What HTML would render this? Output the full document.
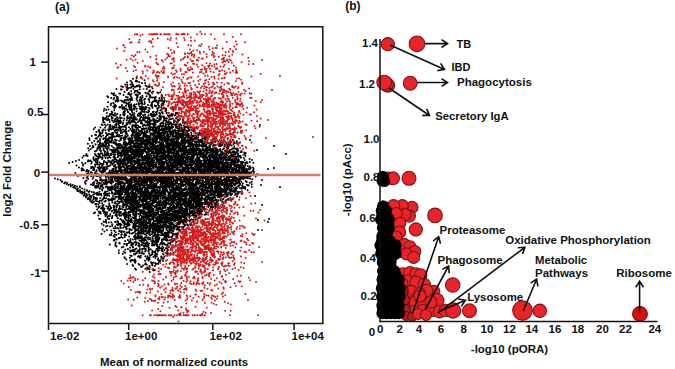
<!DOCTYPE html>
<html><head><meta charset="utf-8"><style>
html,body{margin:0;padding:0;background:#fff;width:675px;height:369px;overflow:hidden;font-family:"Liberation Sans",sans-serif;}
svg{display:block}
</style></head><body>
<svg width="675" height="369" viewBox="0 0 675 369">
<rect width="675" height="369" fill="#fff"/>
<g clip-path="url(#ca)">
<path d="M133.0 78.7h0M136.6 78.1h0M136.1 80.6h0M144.6 80.3h0M130.4 81.0h0M135.8 81.2h0M137.2 81.3h0M139.2 81.9h0M127.0 82.6h0M131.9 82.4h0M142.0 82.9h0M132.2 83.1h0M145.1 83.0h0M125.2 84.4h0M127.4 84.8h0M130.5 84.5h0M132.3 84.7h0M155.3 84.7h0M133.2 85.3h0M136.8 85.7h0M137.5 85.9h0M139.0 85.2h0M145.5 85.4h0M121.8 86.4h0M123.0 86.9h0M127.0 86.4h0M132.1 86.6h0M133.9 86.5h0M136.8 86.5h0M139.8 86.9h0M139.6 86.8h0M140.3 86.5h0M146.6 86.3h0M148.6 86.9h0M149.8 86.7h0M149.0 86.1h0M152.1 86.8h0M126.7 87.8h0M130.3 87.7h0M131.1 87.6h0M135.0 87.0h0M116.5 89.0h0M127.9 88.7h0M128.4 88.2h0M128.2 88.2h0M133.4 88.8h0M152.6 88.5h0M120.9 89.5h0M121.7 89.6h0M126.8 90.0h0M139.8 89.3h0M146.8 89.1h0M131.1 91.0h0M135.0 90.8h0M136.0 90.9h0M137.6 90.5h0M149.7 90.6h0M149.9 90.9h0M149.9 90.2h0M135.9 91.2h0M149.1 91.4h0M153.2 91.4h0M124.5 92.1h0M129.0 92.8h0M134.5 92.4h0M137.8 92.2h0M139.1 92.7h0M140.1 92.9h0M145.4 92.8h0M151.7 92.6h0M157.3 92.6h0M160.3 92.2h0M111.6 93.3h0M114.0 93.2h0M119.4 93.5h0M120.3 93.7h0M128.1 94.0h0M131.5 93.7h0M139.3 94.0h0M147.1 93.4h0M147.9 93.2h0M148.5 93.8h0M158.5 93.3h0M113.0 94.2h0M123.5 94.9h0M129.7 94.5h0M135.5 94.7h0M136.9 94.5h0M149.0 94.4h0M161.7 95.0h0M114.0 95.2h0M115.7 95.4h0M130.3 95.1h0M137.0 95.4h0M137.8 95.5h0M142.3 95.7h0M150.3 95.4h0M107.3 96.2h0M126.0 97.0h0M131.0 96.2h0M146.6 96.3h0M149.8 97.0h0M150.3 97.0h0M150.8 97.0h0M155.8 97.0h0M162.0 97.0h0M162.3 96.5h0M108.3 97.3h0M114.3 97.8h0M117.0 97.1h0M117.8 97.2h0M127.8 97.3h0M137.0 97.2h0M137.5 97.0h0M140.3 97.3h0M141.9 97.9h0M142.6 97.2h0M150.8 97.5h0M152.6 97.4h0M154.4 97.6h0M111.2 98.1h0M117.1 98.4h0M117.8 98.9h0M117.8 98.4h0M129.8 98.9h0M130.6 98.5h0M131.5 98.4h0M131.9 98.1h0M136.6 98.7h0M141.5 98.8h0M145.3 98.7h0M154.8 98.5h0M159.4 98.3h0M159.6 98.1h0M161.9 98.5h0M162.0 99.0h0M113.5 99.2h0M124.9 100.0h0M126.6 99.7h0M127.7 99.5h0M127.1 99.9h0M132.3 100.0h0M136.6 99.4h0M139.7 99.6h0M144.1 99.8h0M148.9 99.2h0M148.5 99.0h0M149.2 99.9h0M115.7 100.6h0M116.9 100.4h0M116.9 100.2h0M118.6 100.6h0M121.2 100.6h0M124.5 100.9h0M128.2 100.2h0M130.5 100.2h0M137.6 101.0h0M139.9 100.7h0M141.0 100.9h0M141.7 100.2h0M154.3 100.4h0M155.3 100.6h0M156.2 100.3h0M158.4 100.8h0M160.0 100.2h0M161.4 100.9h0M163.1 100.9h0M164.6 100.2h0M115.5 101.6h0M117.7 101.3h0M117.7 101.4h0M122.2 101.4h0M122.8 101.3h0M149.5 101.9h0M152.8 101.7h0M154.4 101.0h0M155.7 101.2h0M156.4 101.7h0M158.7 101.8h0M164.1 101.8h0M166.7 101.5h0M108.1 102.2h0M113.3 103.0h0M124.1 102.7h0M126.0 102.5h0M129.8 102.3h0M141.6 102.0h0M142.1 102.2h0M144.7 102.1h0M152.4 102.2h0M152.0 103.0h0M163.0 103.0h0M163.8 102.4h0M163.6 102.9h0M111.2 103.5h0M126.5 103.7h0M128.3 103.1h0M128.5 103.7h0M138.6 103.1h0M140.5 103.5h0M141.9 103.1h0M144.7 103.8h0M151.9 103.6h0M157.7 103.1h0M158.4 103.3h0M162.2 103.4h0M110.7 104.9h0M114.8 104.6h0M115.2 105.0h0M128.4 104.3h0M130.2 104.9h0M131.2 104.2h0M134.2 104.6h0M136.5 104.3h0M138.8 104.6h0M142.5 104.2h0M144.5 104.0h0M151.7 104.2h0M152.1 104.7h0M158.1 104.5h0M161.6 104.6h0M163.6 104.3h0M114.6 105.2h0M116.0 106.0h0M122.0 105.1h0M126.0 105.7h0M128.8 105.4h0M130.7 105.7h0M131.2 105.4h0M131.3 105.8h0M134.5 105.1h0M147.9 105.0h0M150.6 105.4h0M150.9 105.5h0M154.8 105.5h0M156.4 105.9h0M161.8 105.0h0M162.4 105.3h0M163.3 105.2h0M168.5 105.2h0M107.5 106.7h0M113.3 106.6h0M114.3 106.7h0M121.8 106.2h0M121.5 106.4h0M128.7 106.4h0M133.6 106.1h0M135.5 106.8h0M139.5 106.6h0M141.6 106.2h0M142.9 106.9h0M145.4 106.9h0M151.7 106.0h0M155.1 106.2h0M159.1 106.0h0M161.5 106.0h0M172.4 106.8h0M114.5 107.6h0M115.2 107.5h0M119.3 107.2h0M119.7 107.0h0M119.9 107.5h0M122.6 107.7h0M124.2 107.0h0M129.3 107.4h0M131.4 107.9h0M131.3 107.0h0M131.2 107.0h0M134.4 107.4h0M141.3 107.4h0M143.9 107.9h0M143.5 107.7h0M146.3 107.5h0M146.7 107.5h0M152.5 107.8h0M152.3 107.1h0M158.7 107.8h0M161.3 107.6h0M164.4 107.9h0M104.4 108.8h0M114.5 108.1h0M122.4 108.8h0M126.0 108.6h0M130.4 108.5h0M133.9 108.4h0M134.6 108.3h0M134.8 108.7h0M136.9 108.7h0M141.0 108.8h0M140.0 108.6h0M142.8 108.8h0M143.6 108.8h0M149.1 108.1h0M149.7 108.8h0M157.3 108.3h0M163.4 108.3h0M166.1 108.7h0M170.6 108.2h0M173.1 108.4h0M106.2 110.0h0M108.5 109.4h0M124.2 109.0h0M126.8 109.3h0M127.1 109.9h0M129.4 109.6h0M130.3 109.3h0M130.8 109.9h0M132.1 109.6h0M134.2 109.8h0M140.4 109.2h0M144.4 109.2h0M145.8 109.1h0M161.5 109.5h0M162.2 109.3h0M165.5 109.6h0M166.2 110.0h0M173.9 109.6h0M103.8 110.8h0M114.2 110.2h0M124.8 110.5h0M141.9 110.2h0M144.5 110.9h0M148.4 110.5h0M157.6 110.0h0M160.2 110.6h0M111.6 111.4h0M123.9 111.4h0M124.9 111.4h0M127.9 111.7h0M131.9 111.3h0M136.6 111.3h0M141.0 111.9h0M143.0 111.6h0M144.1 112.0h0M149.1 111.0h0M149.2 111.3h0M152.9 111.9h0M153.8 111.8h0M157.3 111.5h0M165.4 111.1h0M165.8 111.4h0M112.3 112.2h0M123.8 112.6h0M123.3 112.5h0M124.2 112.8h0M128.1 112.2h0M132.3 112.4h0M140.7 112.3h0M146.4 112.1h0M148.2 112.5h0M153.4 112.1h0M155.9 112.2h0M159.3 112.9h0M161.8 112.6h0M162.4 112.1h0M166.7 112.9h0M168.8 112.8h0M175.8 112.9h0M176.8 113.0h0M106.9 113.1h0M111.8 113.4h0M115.0 113.3h0M117.2 114.0h0M124.5 113.7h0M129.8 113.7h0M130.2 114.0h0M134.2 113.3h0M134.2 113.9h0M138.7 113.6h0M139.4 113.5h0M140.5 113.2h0M141.5 113.3h0M141.5 113.3h0M150.6 114.0h0M151.4 113.7h0M153.9 113.9h0M156.4 113.1h0M160.0 113.5h0M162.8 113.5h0M171.5 113.7h0M177.9 113.2h0M110.4 114.5h0M112.2 114.2h0M113.0 114.7h0M123.2 114.7h0M124.2 114.1h0M124.1 114.1h0M124.7 114.5h0M130.4 114.6h0M130.6 114.7h0M132.4 114.8h0M137.8 114.8h0M140.8 114.5h0M144.8 114.7h0M145.1 114.3h0M150.7 115.0h0M152.1 114.2h0M153.8 114.5h0M155.2 114.9h0M156.8 114.5h0M172.7 114.4h0M172.6 114.4h0M109.5 115.7h0M114.0 115.6h0M113.9 115.0h0M115.0 115.4h0M115.8 115.6h0M120.3 115.1h0M124.1 115.5h0M131.3 115.3h0M137.8 115.9h0M139.5 115.8h0M140.0 115.3h0M143.1 115.3h0M143.4 115.4h0M148.4 115.2h0M153.0 115.7h0M154.7 115.9h0M155.4 115.0h0M160.4 115.2h0M167.8 115.3h0M167.9 115.4h0M169.7 115.3h0M170.8 115.4h0M172.2 115.7h0M174.7 115.5h0M175.6 115.1h0M106.9 116.2h0M111.5 116.4h0M127.8 116.0h0M127.4 116.8h0M133.9 116.1h0M134.6 116.2h0M145.4 116.8h0M152.0 116.4h0M153.3 116.5h0M153.1 116.4h0M159.2 116.0h0M160.8 116.3h0M163.9 116.8h0M163.0 116.4h0M168.5 116.2h0M169.4 116.8h0M177.3 116.9h0M181.6 116.5h0M103.1 117.5h0M105.7 117.7h0M106.3 117.4h0M117.3 117.3h0M118.0 117.9h0M120.0 117.3h0M121.7 117.9h0M127.1 117.4h0M128.0 117.9h0M130.0 117.2h0M131.6 117.1h0M131.6 117.3h0M132.0 117.4h0M133.3 117.6h0M134.2 117.7h0M135.8 118.0h0M140.6 117.6h0M141.3 117.0h0M143.3 117.4h0M145.8 117.4h0M146.7 117.9h0M147.6 117.9h0M148.0 117.3h0M149.5 117.7h0M157.3 117.9h0M160.5 117.9h0M161.2 117.6h0M163.7 117.8h0M164.6 117.5h0M169.0 117.1h0M104.4 118.7h0M108.2 118.8h0M111.7 118.5h0M112.8 118.0h0M115.9 118.5h0M120.2 118.4h0M124.3 118.6h0M127.3 118.5h0M128.5 118.3h0M130.6 118.3h0M130.8 118.0h0M131.5 118.3h0M133.8 118.8h0M139.9 118.9h0M144.9 118.3h0M144.4 118.3h0M148.4 118.9h0M159.6 118.2h0M160.4 118.4h0M164.2 118.4h0M164.1 118.3h0M164.3 118.0h0M165.1 118.6h0M165.2 118.6h0M166.6 118.2h0M167.0 118.5h0M172.7 118.6h0M176.0 118.2h0M180.1 118.8h0M183.5 118.8h0M103.0 119.3h0M115.1 119.5h0M117.3 119.9h0M133.0 119.9h0M132.8 119.6h0M134.0 120.0h0M135.6 119.4h0M136.4 119.5h0M137.0 119.6h0M139.6 119.6h0M142.9 119.3h0M149.7 119.5h0M153.0 119.4h0M153.4 119.1h0M153.3 119.4h0M154.3 119.2h0M159.1 119.8h0M160.7 119.7h0M169.2 119.2h0M169.7 119.1h0M171.1 119.1h0M177.6 119.6h0M179.2 120.0h0M182.8 119.8h0M196.9 119.9h0M103.1 120.5h0M107.4 120.3h0M109.4 120.0h0M112.2 120.4h0M114.3 120.5h0M117.0 120.4h0M118.4 120.5h0M120.3 120.4h0M123.5 120.4h0M126.6 120.3h0M129.8 120.1h0M131.7 120.9h0M138.9 121.0h0M140.5 120.5h0M141.5 120.7h0M141.2 120.6h0M143.9 120.2h0M144.8 120.4h0M147.6 120.8h0M147.4 120.5h0M150.1 120.2h0M151.4 120.5h0M153.3 120.0h0M154.8 120.1h0M156.1 120.5h0M157.0 120.7h0M159.0 120.9h0M163.8 120.3h0M163.9 120.5h0M164.3 120.2h0M165.7 120.7h0M166.2 120.5h0M174.0 120.3h0M175.2 121.0h0M188.1 120.1h0M114.0 121.9h0M115.8 121.4h0M116.5 121.3h0M117.2 121.7h0M118.9 121.5h0M120.0 121.5h0M121.0 121.6h0M128.5 121.3h0M129.4 121.6h0M132.0 121.9h0M133.3 121.7h0M133.1 121.1h0M141.7 121.1h0M147.4 121.2h0M149.0 122.0h0M149.9 121.2h0M149.5 121.7h0M153.6 121.5h0M154.1 121.3h0M157.9 121.3h0M168.6 121.1h0M174.6 121.6h0M174.1 121.8h0M176.7 121.7h0M178.3 121.1h0M183.2 121.2h0M193.8 121.1h0M103.2 122.2h0M109.7 122.1h0M113.6 122.1h0M119.1 123.0h0M120.2 122.5h0M123.3 122.7h0M128.8 122.5h0M128.5 122.1h0M129.9 122.6h0M130.2 122.3h0M134.7 122.1h0M137.8 122.3h0M140.9 122.4h0M145.7 122.1h0M147.2 122.4h0M149.7 122.9h0M149.6 122.7h0M154.6 122.7h0M155.8 122.2h0M157.6 122.1h0M161.4 122.9h0M162.7 122.6h0M162.9 122.0h0M162.5 123.0h0M167.0 122.0h0M167.9 122.2h0M168.9 122.4h0M169.0 122.2h0M169.2 122.6h0M170.8 122.8h0M170.8 122.3h0M174.0 122.6h0M177.7 122.7h0M182.8 122.7h0M184.7 122.9h0M185.6 122.2h0M187.6 122.8h0M116.5 123.6h0M120.7 123.1h0M126.6 123.1h0M130.3 123.8h0M135.9 123.2h0M135.6 123.1h0M140.8 123.3h0M142.2 123.3h0M147.9 123.2h0M150.5 123.3h0M152.6 123.9h0M153.1 123.7h0M154.0 123.9h0M160.3 123.7h0M163.2 123.2h0M165.5 123.3h0M170.2 123.5h0M171.6 124.0h0M180.1 123.9h0M187.7 123.3h0M101.7 124.6h0M105.0 124.4h0M107.8 124.4h0M110.2 124.7h0M115.3 124.8h0M116.5 124.9h0M118.5 124.1h0M122.7 124.0h0M126.4 124.8h0M127.6 124.0h0M143.2 125.0h0M144.6 124.4h0M147.0 124.9h0M148.4 124.6h0M149.7 124.3h0M149.6 124.6h0M150.8 124.1h0M155.8 124.6h0M163.2 124.9h0M163.4 124.9h0M167.5 124.2h0M168.6 124.9h0M168.2 124.4h0M169.1 124.3h0M171.6 124.8h0M172.9 124.6h0M172.4 124.8h0M173.3 124.3h0M175.8 124.2h0M175.5 125.0h0M176.0 124.2h0M176.5 124.7h0M176.8 124.4h0M179.2 124.7h0M180.8 124.5h0M105.9 125.8h0M110.1 125.4h0M110.3 125.1h0M119.1 125.5h0M124.8 125.8h0M126.5 125.1h0M132.6 125.2h0M133.2 125.2h0M133.7 125.5h0M133.3 125.4h0M135.1 125.3h0M136.5 125.0h0M138.0 125.8h0M143.6 125.3h0M145.6 125.8h0M147.5 125.3h0M149.3 125.6h0M153.5 126.0h0M154.6 125.7h0M159.1 125.9h0M160.4 125.0h0M162.2 125.8h0M163.3 126.0h0M165.9 125.5h0M165.8 125.0h0M171.4 125.7h0M175.1 125.1h0M179.2 125.8h0M181.2 125.4h0M183.6 125.6h0M183.6 125.5h0M110.0 126.5h0M109.1 126.8h0M112.2 126.2h0M114.2 126.5h0M116.5 127.0h0M119.6 126.8h0M121.6 126.8h0M122.7 126.5h0M124.0 126.6h0M132.1 126.3h0M134.3 126.0h0M135.9 126.7h0M139.3 126.9h0M140.3 126.9h0M142.9 126.1h0M149.8 126.3h0M150.7 126.6h0M157.9 126.5h0M158.5 126.4h0M158.9 126.4h0M159.7 126.8h0M159.4 126.2h0M160.8 126.1h0M164.6 126.8h0M165.8 126.5h0M169.0 126.6h0M171.8 126.6h0M173.2 126.9h0M176.0 126.1h0M177.2 126.6h0M184.6 126.9h0M185.7 126.8h0M187.0 126.6h0M187.1 126.7h0M188.0 126.6h0M95.1 127.4h0M112.6 127.2h0M113.8 127.1h0M113.4 127.1h0M114.1 127.3h0M115.1 127.5h0M118.6 127.7h0M119.3 127.7h0M120.4 128.0h0M120.3 127.0h0M121.6 127.3h0M126.0 127.8h0M125.3 127.2h0M126.1 127.2h0M128.9 127.3h0M132.3 127.7h0M135.3 127.5h0M136.3 127.5h0M137.7 127.9h0M148.6 127.2h0M148.6 127.3h0M150.7 127.8h0M151.1 127.4h0M152.8 127.5h0M153.6 127.3h0M154.9 127.1h0M156.3 127.6h0M157.3 127.6h0M162.3 127.4h0M166.2 127.9h0M167.1 128.0h0M167.5 127.6h0M167.5 127.2h0M168.8 127.1h0M169.1 127.4h0M169.9 127.2h0M170.8 127.5h0M171.9 127.9h0M172.9 127.0h0M175.9 127.4h0M176.1 127.0h0M176.1 127.1h0M177.8 127.1h0M178.7 127.4h0M178.4 127.7h0M179.4 127.4h0M181.5 127.4h0M184.4 127.8h0M184.3 127.4h0M187.5 127.8h0M188.5 127.6h0M188.9 127.1h0M190.9 127.6h0M192.7 127.9h0M110.4 128.1h0M110.2 128.1h0M111.1 128.9h0M113.4 128.3h0M119.9 128.5h0M126.2 128.8h0M130.4 128.9h0M132.5 128.7h0M137.0 128.6h0M137.4 128.0h0M141.5 128.8h0M142.4 129.0h0M143.2 128.3h0M145.1 128.4h0M146.5 128.3h0M150.1 128.4h0M153.5 128.2h0M153.4 128.4h0M155.8 128.8h0M156.7 128.2h0M156.5 128.9h0M157.6 128.8h0M157.5 128.4h0M157.8 128.8h0M159.4 128.2h0M163.7 128.9h0M165.2 128.5h0M165.8 128.6h0M165.1 128.3h0M165.4 128.1h0M167.4 128.5h0M170.7 128.1h0M171.0 128.2h0M177.3 128.3h0M179.5 128.2h0M181.5 128.1h0M183.5 128.9h0M184.7 128.7h0M204.8 128.7h0M93.7 129.3h0M103.3 129.5h0M108.1 129.4h0M109.4 129.1h0M110.8 129.4h0M111.6 129.3h0M113.2 129.1h0M115.6 129.8h0M116.9 129.5h0M117.0 129.3h0M117.6 129.8h0M120.4 129.2h0M123.0 129.6h0M132.9 130.0h0M134.1 129.7h0M136.3 129.8h0M138.4 129.9h0M144.2 129.8h0M148.6 129.0h0M149.6 129.1h0M149.9 129.8h0M150.7 129.7h0M152.0 129.9h0M152.6 129.3h0M153.7 129.2h0M155.7 129.8h0M160.5 129.9h0M161.7 129.1h0M162.6 129.2h0M163.5 129.5h0M166.5 129.4h0M167.0 129.4h0M168.5 129.2h0M170.0 129.8h0M170.2 129.3h0M174.7 129.8h0M178.9 129.6h0M181.9 129.4h0M184.2 129.3h0M184.1 130.0h0M188.8 129.2h0M189.5 129.4h0M191.5 130.0h0M194.6 129.1h0M98.8 130.5h0M98.4 130.6h0M102.8 130.6h0M102.8 130.7h0M105.4 130.2h0M116.6 130.2h0M118.6 130.2h0M121.0 130.3h0M121.0 130.6h0M125.2 130.1h0M128.8 130.7h0M131.6 130.7h0M139.8 130.9h0M141.6 130.8h0M146.9 130.6h0M147.2 130.3h0M150.5 130.0h0M153.3 130.5h0M153.2 130.8h0M154.5 130.7h0M156.4 130.5h0M158.9 130.5h0M158.8 130.7h0M158.8 130.0h0M159.0 130.9h0M159.4 130.1h0M162.7 130.2h0M162.0 130.5h0M164.3 130.3h0M165.8 130.4h0M172.7 130.6h0M172.6 130.2h0M173.7 131.0h0M175.2 130.1h0M177.3 130.8h0M178.2 130.9h0M180.7 130.4h0M183.7 130.8h0M185.6 130.4h0M186.9 130.8h0M189.3 130.6h0M193.2 130.4h0M194.1 130.1h0M194.3 130.0h0M194.3 130.8h0M99.0 131.6h0M109.1 131.1h0M114.6 131.1h0M120.5 131.3h0M123.9 131.4h0M123.9 131.6h0M125.5 131.4h0M126.5 131.3h0M132.7 131.4h0M132.6 132.0h0M133.1 131.1h0M134.1 131.1h0M136.1 131.3h0M141.4 131.7h0M142.2 131.5h0M144.9 131.5h0M149.5 131.5h0M149.6 131.2h0M153.5 131.9h0M155.4 131.8h0M156.8 131.7h0M157.1 131.4h0M158.1 132.0h0M162.7 131.3h0M162.8 131.1h0M165.4 131.0h0M167.4 131.8h0M169.0 131.3h0M169.2 131.3h0M170.9 131.5h0M172.6 131.2h0M174.0 131.0h0M175.4 131.1h0M175.2 131.6h0M178.5 131.3h0M178.4 132.0h0M179.0 131.2h0M179.8 131.0h0M182.3 131.1h0M182.3 131.7h0M186.1 131.7h0M187.8 131.2h0M193.9 131.1h0M193.2 131.0h0M204.4 131.7h0M222.1 131.9h0M99.5 132.6h0M102.4 132.2h0M115.4 132.4h0M117.4 132.2h0M122.1 132.3h0M134.7 132.5h0M134.5 132.7h0M134.4 132.7h0M137.3 133.0h0M138.3 132.2h0M139.8 132.1h0M144.0 132.6h0M144.4 132.6h0M146.2 132.0h0M147.6 132.2h0M154.7 132.4h0M154.1 132.4h0M155.9 132.9h0M157.9 132.6h0M158.3 132.4h0M158.8 132.1h0M159.5 132.5h0M160.7 132.8h0M160.4 132.9h0M162.0 132.5h0M163.4 132.8h0M163.4 132.5h0M163.0 132.5h0M164.7 132.3h0M166.6 132.1h0M169.9 132.2h0M170.6 132.6h0M170.8 132.6h0M170.3 132.9h0M170.1 132.3h0M170.1 133.0h0M171.9 132.0h0M172.7 132.6h0M173.4 132.8h0M175.4 132.0h0M182.6 132.5h0M183.6 132.5h0M183.2 132.3h0M185.3 132.7h0M186.2 132.6h0M191.1 132.5h0M199.3 132.2h0M204.2 132.6h0M206.2 132.1h0M100.1 133.6h0M102.0 133.1h0M105.9 133.0h0M108.9 133.7h0M108.7 133.8h0M112.1 133.0h0M113.0 133.1h0M116.7 133.3h0M120.8 133.0h0M121.6 133.1h0M125.8 133.1h0M126.7 134.0h0M126.4 133.0h0M126.7 133.3h0M132.8 133.6h0M136.4 133.3h0M139.3 133.7h0M141.5 133.4h0M141.6 133.1h0M142.3 133.3h0M143.1 133.0h0M143.2 133.3h0M144.8 133.1h0M144.4 133.4h0M144.5 133.0h0M145.9 134.0h0M145.5 133.2h0M146.0 133.0h0M150.4 133.2h0M151.8 133.5h0M152.3 133.7h0M153.7 133.3h0M157.4 133.5h0M158.2 133.2h0M158.8 133.9h0M160.8 133.1h0M161.0 134.0h0M161.5 133.8h0M163.2 133.6h0M164.7 133.7h0M164.6 133.0h0M164.3 133.9h0M164.1 133.8h0M165.4 133.5h0M167.6 133.2h0M172.3 133.8h0M172.1 133.3h0M173.4 134.0h0M175.4 133.0h0M176.5 133.2h0M177.1 133.1h0M178.5 133.1h0M180.6 133.6h0M180.2 133.9h0M181.1 133.8h0M183.5 133.9h0M186.7 133.7h0M186.4 133.8h0M187.8 133.7h0M187.2 133.2h0M188.7 134.0h0M195.7 133.2h0M199.6 133.8h0M200.3 133.4h0M216.7 133.8h0M216.5 133.7h0M96.1 135.0h0M100.2 134.4h0M100.5 134.9h0M107.1 134.3h0M110.5 134.3h0M111.5 134.7h0M113.1 134.5h0M118.9 134.8h0M132.5 134.0h0M135.3 134.7h0M136.8 134.7h0M137.0 134.3h0M138.8 134.4h0M139.5 134.6h0M140.4 135.0h0M144.5 134.8h0M150.6 134.4h0M150.6 134.1h0M152.7 134.5h0M152.6 134.5h0M152.6 134.7h0M153.0 134.5h0M153.3 134.9h0M154.8 134.9h0M154.7 134.2h0M158.7 134.1h0M159.3 134.9h0M160.5 134.3h0M167.5 134.2h0M168.5 134.7h0M170.6 134.5h0M175.9 134.9h0M177.2 134.7h0M177.5 134.1h0M178.9 134.2h0M179.0 135.0h0M179.1 134.8h0M179.3 134.9h0M182.8 134.9h0M183.1 134.1h0M184.4 134.8h0M185.7 134.9h0M191.6 134.4h0M197.8 134.0h0M198.2 134.5h0M198.9 134.7h0M198.2 134.8h0M199.4 134.0h0M200.5 134.7h0M201.1 134.7h0M202.1 134.0h0M203.9 134.0h0M204.9 134.7h0M206.3 134.4h0M207.7 134.7h0M212.0 134.1h0M213.5 134.7h0M232.0 134.3h0M91.8 135.9h0M100.5 135.8h0M103.2 135.5h0M106.9 135.3h0M107.8 135.1h0M112.2 135.4h0M117.2 135.3h0M117.5 135.0h0M122.2 135.5h0M125.3 135.5h0M127.8 135.4h0M127.8 135.8h0M131.4 135.5h0M132.0 135.1h0M132.9 135.0h0M132.2 135.7h0M135.8 135.7h0M136.4 135.7h0M137.5 135.6h0M138.7 135.5h0M139.8 135.2h0M139.6 135.7h0M143.6 135.6h0M143.4 135.2h0M143.9 135.2h0M144.2 135.1h0M144.3 135.3h0M145.2 135.4h0M146.5 135.2h0M150.6 135.7h0M154.1 135.6h0M155.1 135.8h0M156.6 135.9h0M157.2 135.2h0M157.4 135.4h0M161.6 135.5h0M163.3 135.6h0M164.2 135.9h0M166.5 135.6h0M167.9 135.3h0M167.7 135.6h0M167.9 135.6h0M167.8 135.2h0M172.2 135.1h0M172.6 136.0h0M173.0 135.5h0M173.6 135.2h0M173.3 135.5h0M176.7 135.5h0M180.4 135.3h0M181.8 135.6h0M181.5 135.9h0M181.8 135.5h0M181.6 135.3h0M186.0 135.5h0M186.7 135.7h0M187.7 135.7h0M188.8 135.4h0M192.6 136.0h0M192.4 135.9h0M193.8 135.9h0M193.9 135.8h0M195.2 135.5h0M196.7 135.7h0M197.3 135.8h0M202.6 135.5h0M203.9 135.7h0M206.7 136.0h0M212.3 135.7h0M98.2 136.8h0M101.2 136.7h0M106.0 136.4h0M112.6 136.9h0M112.9 136.6h0M113.2 136.2h0M114.4 136.4h0M115.7 136.4h0M117.1 136.1h0M118.9 136.4h0M118.4 136.3h0M120.5 136.1h0M126.5 136.9h0M131.8 136.6h0M134.4 136.0h0M143.0 136.9h0M144.7 136.6h0M145.9 137.0h0M147.7 136.0h0M149.0 136.0h0M153.4 136.5h0M154.8 136.7h0M155.6 136.0h0M156.2 136.2h0M156.4 136.9h0M158.0 136.0h0M157.0 136.7h0M158.6 136.9h0M158.8 136.9h0M160.2 136.8h0M160.3 136.6h0M160.7 136.0h0M161.4 136.4h0M166.5 136.3h0M166.5 136.1h0M167.9 136.1h0M167.3 136.5h0M168.5 136.2h0M169.1 136.9h0M170.3 136.4h0M172.6 136.4h0M173.6 136.7h0M175.1 136.7h0M178.9 136.2h0M179.9 136.6h0M180.2 136.7h0M181.8 136.4h0M181.9 136.7h0M181.8 136.1h0M182.5 136.8h0M182.3 136.1h0M183.4 136.4h0M186.4 136.7h0M189.5 136.9h0M190.7 136.1h0M197.5 136.3h0M198.2 136.1h0M205.6 136.4h0M208.3 136.5h0M209.4 136.8h0M109.1 137.2h0M109.7 137.5h0M109.4 137.5h0M110.4 137.6h0M111.4 137.0h0M112.6 137.5h0M124.1 137.3h0M125.3 137.2h0M125.2 137.7h0M129.5 137.8h0M134.3 137.3h0M136.0 137.7h0M136.9 137.0h0M137.0 137.2h0M136.2 137.5h0M137.2 137.4h0M138.3 137.5h0M138.7 137.3h0M139.3 137.1h0M142.1 137.6h0M143.3 137.4h0M143.7 137.1h0M147.0 137.9h0M147.6 137.8h0M148.2 137.9h0M148.1 137.3h0M149.0 137.7h0M149.5 137.6h0M150.6 137.2h0M150.3 137.5h0M150.0 137.2h0M152.7 138.0h0M155.6 137.5h0M155.5 137.9h0M156.0 137.7h0M157.3 137.3h0M157.1 137.8h0M158.1 137.1h0M159.1 137.7h0M159.6 137.3h0M159.2 137.1h0M161.1 137.8h0M162.2 137.9h0M162.6 137.9h0M163.0 137.4h0M164.7 137.4h0M164.7 137.3h0M165.7 137.7h0M167.9 137.7h0M176.4 137.6h0M176.2 137.8h0M176.0 137.1h0M177.4 137.4h0M177.1 137.6h0M178.0 137.1h0M179.5 137.2h0M181.3 137.8h0M182.0 137.2h0M182.0 137.8h0M182.5 137.5h0M183.8 137.6h0M183.8 137.5h0M185.9 137.4h0M188.8 137.3h0M188.3 137.5h0M189.9 137.4h0M191.0 137.6h0M191.7 137.5h0M195.0 137.8h0M195.4 137.1h0M196.3 137.9h0M197.3 137.3h0M204.3 137.9h0M205.8 137.7h0M221.1 137.9h0M89.4 138.3h0M95.5 138.5h0M96.8 138.7h0M99.9 139.0h0M103.3 138.4h0M103.3 138.9h0M104.6 138.2h0M105.9 138.7h0M106.1 138.2h0M106.5 138.9h0M108.9 138.6h0M110.6 138.1h0M120.5 138.3h0M120.7 138.6h0M121.9 138.1h0M123.9 138.2h0M125.2 138.1h0M128.1 138.8h0M130.1 138.7h0M131.3 138.4h0M132.4 138.2h0M135.4 138.8h0M137.6 139.0h0M137.7 138.1h0M137.5 138.6h0M138.7 138.5h0M139.1 139.0h0M139.4 138.1h0M139.9 138.1h0M139.7 138.4h0M141.5 138.3h0M143.5 138.9h0M147.7 138.2h0M147.7 138.7h0M148.0 138.4h0M147.2 138.8h0M149.5 139.0h0M154.2 138.7h0M155.6 138.0h0M156.9 138.3h0M156.3 138.6h0M157.5 138.5h0M159.4 138.1h0M160.8 138.7h0M160.5 138.3h0M164.0 138.9h0M165.3 138.9h0M168.5 138.5h0M169.1 138.9h0M171.2 138.9h0M171.6 138.5h0M173.7 138.9h0M173.2 138.9h0M175.7 138.5h0M177.7 138.5h0M178.8 138.8h0M179.1 138.5h0M181.9 138.2h0M182.4 138.9h0M182.0 138.0h0M182.5 138.6h0M184.9 138.4h0M190.8 138.7h0M190.5 138.2h0M190.5 138.6h0M191.2 138.8h0M193.4 138.4h0M194.6 138.6h0M195.4 138.8h0M195.0 139.0h0M197.7 139.0h0M197.3 138.9h0M197.9 138.6h0M202.2 138.7h0M202.9 138.2h0M205.6 138.8h0M206.2 138.0h0M207.6 138.2h0M214.1 138.6h0M216.1 138.6h0M227.8 138.2h0M227.8 138.6h0M106.1 139.4h0M106.1 139.5h0M107.4 139.2h0M108.5 139.6h0M111.9 139.3h0M112.1 139.4h0M112.2 139.1h0M112.1 139.9h0M114.9 139.6h0M120.9 139.9h0M125.4 139.6h0M128.8 139.8h0M129.2 139.5h0M130.4 139.4h0M135.8 139.6h0M136.3 139.6h0M136.6 139.7h0M138.8 139.4h0M138.0 139.2h0M140.9 139.4h0M145.1 139.9h0M145.9 139.6h0M146.3 139.6h0M147.0 139.7h0M147.4 139.1h0M148.2 140.0h0M150.0 139.9h0M150.8 139.1h0M150.2 139.7h0M152.2 140.0h0M153.2 139.3h0M156.7 139.7h0M156.3 139.1h0M157.2 139.5h0M159.9 139.6h0M161.8 139.9h0M163.9 139.6h0M163.4 139.9h0M165.0 139.3h0M165.3 139.3h0M166.7 139.1h0M167.4 139.9h0M167.9 139.1h0M168.4 139.9h0M171.7 139.0h0M172.6 139.3h0M173.5 139.4h0M174.5 139.8h0M174.9 139.4h0M175.2 139.1h0M177.8 139.1h0M177.5 139.6h0M177.2 139.3h0M182.9 139.9h0M182.2 139.9h0M183.2 139.8h0M184.6 139.4h0M185.7 139.5h0M187.9 139.6h0M189.0 139.4h0M190.6 139.9h0M191.7 139.2h0M193.0 139.8h0M194.3 139.5h0M198.7 139.8h0M201.4 140.0h0M205.1 139.6h0M213.4 139.0h0M214.3 139.2h0M214.5 139.2h0M223.7 140.0h0M232.7 139.9h0M89.5 140.0h0M105.6 140.6h0M106.7 140.9h0M107.1 140.2h0M107.3 140.2h0M109.6 140.7h0M111.9 140.2h0M111.6 140.5h0M111.4 140.4h0M116.1 140.6h0M116.7 140.2h0M119.3 140.7h0M123.9 140.1h0M131.8 140.0h0M131.4 140.9h0M132.1 140.6h0M133.1 140.9h0M134.7 140.3h0M136.3 140.3h0M139.7 140.9h0M140.4 140.9h0M141.9 140.1h0M141.4 140.3h0M142.9 141.0h0M143.9 140.9h0M144.6 140.9h0M145.6 140.7h0M146.6 141.0h0M147.5 140.2h0M149.4 140.6h0M149.9 140.7h0M150.1 140.4h0M152.6 140.6h0M152.5 140.6h0M153.4 140.1h0M154.9 140.0h0M154.7 140.8h0M157.1 140.3h0M160.3 140.3h0M164.7 140.4h0M165.4 140.2h0M166.7 140.2h0M166.4 141.0h0M166.8 141.0h0M168.1 141.0h0M170.1 140.6h0M172.1 140.2h0M173.5 140.2h0M176.7 140.8h0M177.9 140.7h0M177.2 140.8h0M177.4 140.8h0M177.7 140.5h0M181.3 140.5h0M182.6 140.8h0M184.0 140.5h0M183.8 140.6h0M185.0 140.5h0M186.6 141.0h0M186.3 140.7h0M188.5 140.1h0M190.0 140.9h0M190.0 140.1h0M191.7 140.3h0M193.3 140.8h0M193.1 140.2h0M198.6 140.1h0M199.9 140.9h0M200.7 140.1h0M202.4 140.1h0M202.9 140.9h0M207.2 140.4h0M212.5 140.9h0M212.0 140.7h0M97.8 141.8h0M98.4 141.1h0M98.2 141.4h0M104.8 141.8h0M105.2 141.2h0M107.9 141.3h0M111.1 141.5h0M113.8 141.4h0M124.4 141.8h0M129.4 141.3h0M131.2 141.4h0M132.1 141.7h0M135.9 141.1h0M137.9 141.6h0M138.2 141.1h0M140.6 141.6h0M140.1 141.8h0M140.2 141.9h0M141.3 141.5h0M142.3 141.6h0M145.8 141.1h0M146.5 141.4h0M147.5 141.5h0M148.0 141.6h0M148.5 141.8h0M148.5 141.2h0M149.5 141.4h0M149.0 141.9h0M152.8 141.2h0M152.9 141.9h0M153.5 141.4h0M153.2 141.2h0M154.3 141.4h0M156.7 141.2h0M156.1 141.1h0M162.0 141.2h0M164.2 141.2h0M166.1 141.6h0M167.6 141.9h0M167.1 141.6h0M167.1 141.0h0M170.6 141.9h0M171.9 141.0h0M172.0 141.1h0M173.8 141.1h0M175.2 141.9h0M177.1 141.1h0M178.0 141.6h0M181.4 141.2h0M184.9 141.3h0M184.5 141.8h0M184.4 141.6h0M186.7 141.5h0M186.1 141.0h0M188.3 141.2h0M188.0 141.5h0M188.5 141.6h0M190.2 141.2h0M196.3 141.3h0M198.1 142.0h0M198.6 141.8h0M198.3 141.2h0M199.6 141.2h0M200.9 141.1h0M200.3 141.4h0M201.1 141.0h0M201.8 141.9h0M205.0 141.6h0M207.5 141.7h0M211.1 142.0h0M215.3 141.9h0M215.1 141.3h0M218.1 141.4h0M225.4 141.5h0M236.9 141.2h0M100.1 142.7h0M100.1 142.2h0M104.4 142.4h0M105.8 142.9h0M109.9 142.4h0M111.8 142.5h0M113.8 142.9h0M113.9 142.0h0M115.7 142.5h0M123.6 142.5h0M125.8 142.8h0M125.7 142.3h0M129.0 142.1h0M129.1 142.4h0M130.2 142.1h0M131.4 143.0h0M132.0 142.9h0M133.5 142.4h0M136.2 142.4h0M137.3 142.8h0M140.4 142.3h0M142.4 142.1h0M143.8 142.4h0M146.6 142.8h0M148.7 142.2h0M148.4 142.3h0M150.9 142.0h0M152.0 143.0h0M152.3 142.6h0M153.6 142.2h0M153.1 142.5h0M154.7 142.3h0M156.3 142.4h0M158.1 142.5h0M159.8 142.3h0M159.2 142.0h0M159.9 142.6h0M159.1 142.8h0M161.0 142.9h0M161.2 142.8h0M166.0 142.5h0M166.1 143.0h0M167.3 142.8h0M170.9 142.1h0M170.3 142.2h0M172.8 142.5h0M174.8 142.3h0M175.6 142.1h0M176.0 142.1h0M176.5 142.2h0M176.0 142.6h0M177.3 142.4h0M179.5 142.7h0M180.2 142.9h0M181.8 142.4h0M181.8 142.8h0M182.1 142.4h0M183.3 142.7h0M183.6 142.0h0M183.2 142.5h0M184.0 142.3h0M185.9 142.8h0M186.4 142.0h0M187.8 142.2h0M188.5 142.0h0M190.7 142.6h0M191.9 142.6h0M194.8 142.1h0M195.7 142.2h0M196.0 142.0h0M196.2 142.7h0M196.6 142.1h0M200.1 142.1h0M201.3 142.0h0M201.0 142.1h0M202.7 142.1h0M204.7 142.5h0M205.7 142.0h0M212.9 142.7h0M221.2 142.3h0M222.5 143.0h0M231.2 142.1h0M234.1 142.1h0M236.4 142.9h0M240.0 142.4h0M87.9 143.8h0M100.1 143.4h0M102.1 143.5h0M106.8 143.2h0M106.1 143.9h0M108.3 143.0h0M113.6 143.0h0M115.3 143.9h0M116.2 143.4h0M118.4 144.0h0M123.7 143.8h0M125.2 143.5h0M127.2 143.5h0M127.9 143.4h0M127.6 143.7h0M129.5 143.0h0M130.5 143.6h0M131.0 143.5h0M134.0 143.9h0M133.6 143.3h0M135.9 143.1h0M135.5 143.6h0M138.3 143.8h0M139.9 143.7h0M140.5 143.2h0M141.2 143.3h0M142.8 143.4h0M143.3 143.7h0M145.3 143.2h0M147.6 143.7h0M147.6 143.5h0M147.8 143.8h0M148.3 143.8h0M151.0 143.9h0M150.0 143.5h0M151.2 143.2h0M151.7 143.7h0M152.3 143.7h0M152.7 143.1h0M153.1 143.7h0M155.9 143.3h0M162.2 143.7h0M163.3 143.1h0M166.2 143.8h0M166.9 143.3h0M167.0 143.9h0M166.7 143.7h0M168.5 143.2h0M169.4 143.4h0M170.7 143.4h0M170.9 143.6h0M170.2 143.1h0M170.3 143.2h0M171.8 143.7h0M172.4 143.2h0M174.4 143.3h0M176.1 143.8h0M176.9 143.7h0M179.0 143.6h0M179.7 143.8h0M179.1 143.4h0M180.8 143.2h0M182.5 143.3h0M185.2 143.6h0M188.1 143.4h0M189.1 143.2h0M189.2 143.4h0M190.2 143.5h0M192.7 143.8h0M199.3 143.9h0M202.0 144.0h0M202.6 143.5h0M204.8 143.3h0M205.0 143.5h0M205.1 143.5h0M205.6 143.3h0M208.0 143.2h0M209.8 143.0h0M211.6 143.0h0M219.6 143.1h0M220.9 144.0h0M226.5 143.2h0M229.4 143.6h0M230.2 143.7h0M233.5 143.9h0M234.5 143.0h0M95.6 144.4h0M98.5 144.9h0M99.4 144.3h0M99.9 144.5h0M102.5 144.9h0M103.3 144.3h0M105.2 145.0h0M108.8 144.8h0M117.8 144.8h0M119.3 144.1h0M120.3 144.3h0M123.5 144.5h0M124.4 144.2h0M125.4 144.3h0M126.4 144.6h0M127.6 144.4h0M129.4 144.0h0M130.8 144.8h0M134.0 144.3h0M134.9 144.5h0M137.3 144.7h0M137.2 144.9h0M139.0 144.5h0M140.0 144.1h0M139.8 144.7h0M140.6 145.0h0M140.3 144.1h0M140.6 144.8h0M144.8 144.9h0M145.2 144.4h0M146.2 144.7h0M147.2 144.8h0M152.1 144.7h0M152.6 144.6h0M153.0 144.9h0M153.0 144.7h0M153.1 144.8h0M154.0 144.8h0M159.7 144.8h0M161.0 144.3h0M161.3 144.9h0M161.8 144.3h0M163.9 144.9h0M167.3 144.4h0M167.9 144.8h0M169.5 144.9h0M169.3 144.6h0M171.6 144.1h0M173.2 144.4h0M174.8 144.9h0M175.3 144.0h0M175.1 144.2h0M176.4 144.0h0M176.6 144.2h0M178.0 144.1h0M177.9 144.9h0M177.1 144.6h0M180.1 144.3h0M180.2 144.3h0M181.8 145.0h0M181.4 144.2h0M184.2 144.4h0M184.6 144.8h0M190.0 144.4h0M191.7 144.5h0M191.6 144.9h0M191.7 144.4h0M194.2 144.4h0M195.4 144.3h0M196.7 144.2h0M197.6 145.0h0M198.1 144.5h0M202.4 144.6h0M203.4 144.4h0M204.1 144.1h0M206.3 144.7h0M210.8 144.5h0M213.9 145.0h0M218.8 144.6h0M218.8 144.3h0M219.3 144.2h0M221.3 144.8h0M222.1 144.7h0M224.9 144.7h0M224.7 144.6h0M228.1 144.6h0M230.0 144.7h0M92.9 145.8h0M100.5 145.9h0M101.7 145.3h0M104.1 145.2h0M109.2 145.7h0M116.8 145.2h0M118.7 145.5h0M119.3 145.7h0M120.0 145.0h0M120.6 145.2h0M120.1 145.6h0M121.6 145.5h0M125.1 145.7h0M126.5 145.7h0M130.8 146.0h0M131.2 145.9h0M133.5 145.2h0M133.3 145.8h0M137.9 145.6h0M138.5 145.8h0M141.7 145.5h0M141.9 145.9h0M141.7 145.1h0M144.5 145.1h0M144.8 145.7h0M147.3 145.2h0M147.3 145.6h0M147.4 145.4h0M149.6 145.2h0M150.3 145.9h0M152.3 145.8h0M153.9 145.0h0M153.5 145.1h0M154.8 145.2h0M155.5 145.6h0M157.6 145.6h0M157.8 145.5h0M157.6 145.6h0M159.0 146.0h0M160.7 145.1h0M162.1 145.4h0M162.2 145.2h0M163.7 145.7h0M163.5 145.0h0M165.1 145.7h0M165.9 145.7h0M165.9 145.8h0M167.2 145.5h0M169.3 145.1h0M169.8 145.9h0M171.2 145.5h0M171.8 145.6h0M171.5 145.4h0M172.2 145.5h0M172.3 145.3h0M173.3 145.9h0M175.0 145.4h0M176.3 145.6h0M177.7 145.3h0M177.4 145.1h0M177.2 145.8h0M178.5 145.6h0M182.8 145.7h0M188.3 145.4h0M188.4 145.1h0M190.5 145.9h0M193.3 145.3h0M195.3 145.9h0M196.1 145.5h0M199.9 145.6h0M200.2 145.3h0M203.9 145.3h0M205.4 145.9h0M206.1 145.1h0M206.2 145.6h0M209.5 145.3h0M212.9 145.5h0M214.8 145.6h0M215.4 145.3h0M219.5 145.0h0M222.4 145.1h0M226.0 145.4h0M227.7 145.4h0M229.2 145.6h0M231.6 145.4h0M242.4 145.8h0M98.3 146.7h0M99.8 147.0h0M100.4 146.3h0M102.0 146.7h0M101.8 146.8h0M103.6 146.4h0M105.2 146.8h0M106.9 146.1h0M111.8 146.1h0M122.0 146.3h0M124.5 146.9h0M126.2 146.5h0M129.4 146.5h0M130.3 146.3h0M130.8 146.3h0M131.2 146.5h0M132.7 146.8h0M134.8 146.2h0M135.9 146.1h0M136.6 146.9h0M136.7 146.7h0M140.1 146.1h0M141.9 146.2h0M142.7 147.0h0M142.6 146.9h0M145.8 146.1h0M147.4 146.3h0M149.8 146.2h0M150.1 146.4h0M150.6 147.0h0M151.1 147.0h0M153.1 146.9h0M153.3 146.7h0M153.0 146.3h0M155.3 146.8h0M155.7 146.9h0M157.5 146.2h0M160.9 146.5h0M161.2 146.8h0M162.7 147.0h0M163.5 146.9h0M163.8 146.6h0M164.2 146.5h0M166.3 147.0h0M167.9 146.3h0M168.1 146.3h0M168.3 146.4h0M173.4 146.0h0M174.3 146.0h0M175.8 146.2h0M177.3 146.6h0M177.1 146.6h0M180.2 146.2h0M182.6 146.1h0M182.9 146.8h0M184.6 146.3h0M184.0 146.2h0M186.3 146.8h0M186.9 146.6h0M188.7 146.2h0M189.8 146.8h0M190.0 146.6h0M192.6 146.7h0M192.7 146.3h0M193.2 146.8h0M196.9 146.3h0M198.9 146.8h0M201.5 146.0h0M201.7 146.6h0M203.0 146.8h0M204.9 146.2h0M205.2 146.3h0M205.0 146.2h0M206.4 146.8h0M210.1 146.9h0M210.2 146.7h0M218.9 146.1h0M220.7 146.3h0M224.5 146.2h0M228.5 146.5h0M234.2 146.2h0M92.4 147.6h0M99.0 147.4h0M108.1 147.5h0M113.3 147.6h0M113.9 147.8h0M117.3 147.2h0M118.6 147.2h0M119.8 147.5h0M121.1 147.5h0M121.7 147.4h0M122.8 147.1h0M122.0 147.3h0M123.7 147.9h0M125.7 147.3h0M125.9 147.3h0M126.3 147.6h0M128.9 147.6h0M128.5 147.6h0M129.3 147.3h0M133.7 147.1h0M135.4 147.8h0M137.6 147.1h0M138.7 147.2h0M138.9 147.1h0M139.7 147.7h0M139.3 147.3h0M139.8 147.3h0M140.2 147.6h0M140.5 148.0h0M140.6 147.2h0M140.6 147.9h0M140.1 147.1h0M141.0 147.2h0M141.3 147.1h0M142.1 147.2h0M144.3 147.7h0M145.7 147.5h0M147.9 147.8h0M147.1 147.6h0M152.0 147.6h0M151.5 147.5h0M151.1 147.1h0M153.1 147.9h0M153.7 147.5h0M154.6 147.9h0M154.7 147.3h0M156.8 147.4h0M159.3 147.8h0M160.9 147.4h0M162.4 148.0h0M164.3 147.3h0M165.6 147.1h0M165.4 147.2h0M166.3 147.7h0M166.2 147.3h0M167.3 147.5h0M168.4 147.8h0M169.6 147.6h0M172.6 147.1h0M173.4 147.5h0M177.5 147.1h0M178.8 147.5h0M178.8 147.1h0M180.6 147.8h0M180.6 147.4h0M181.0 147.8h0M182.7 147.7h0M182.4 147.9h0M183.1 147.9h0M183.6 147.7h0M185.6 147.1h0M185.6 147.7h0M185.1 147.9h0M186.3 147.5h0M190.5 147.1h0M192.8 147.6h0M196.8 147.6h0M196.7 147.5h0M197.0 147.2h0M206.4 147.7h0M207.4 147.4h0M207.8 147.0h0M209.2 147.3h0M210.0 147.3h0M213.3 147.3h0M215.0 147.9h0M227.0 147.7h0M234.0 147.9h0M97.2 148.9h0M97.5 148.1h0M98.1 148.3h0M100.2 148.2h0M103.6 148.7h0M106.2 148.3h0M108.6 148.0h0M115.7 148.9h0M116.4 148.6h0M119.2 148.3h0M120.2 148.7h0M124.2 148.7h0M126.4 148.9h0M126.7 148.4h0M127.6 148.5h0M129.7 148.1h0M131.0 148.5h0M132.5 148.8h0M135.6 148.3h0M135.7 148.1h0M138.1 148.2h0M138.7 148.5h0M139.2 148.5h0M144.5 148.6h0M145.0 148.7h0M146.0 148.9h0M148.7 148.0h0M149.0 148.8h0M148.4 148.4h0M150.3 148.8h0M151.0 148.1h0M152.0 149.0h0M151.8 148.4h0M152.3 148.6h0M155.4 148.6h0M155.9 148.6h0M156.2 148.3h0M156.7 148.3h0M157.7 148.7h0M158.9 148.2h0M159.8 148.3h0M159.2 148.8h0M161.4 148.5h0M161.5 148.2h0M162.8 148.9h0M163.8 148.6h0M164.2 148.4h0M167.4 148.8h0M168.5 148.3h0M169.8 148.6h0M171.7 148.1h0M173.1 149.0h0M174.1 148.5h0M174.4 148.9h0M174.8 148.3h0M175.2 148.8h0M175.9 148.6h0M176.4 148.0h0M178.4 148.1h0M180.6 148.8h0M181.9 148.1h0M182.4 148.9h0M183.4 148.7h0M184.1 148.2h0M184.6 148.1h0M186.3 148.2h0M186.5 148.0h0M190.6 148.3h0M190.8 148.0h0M191.6 148.7h0M192.8 148.1h0M194.4 148.2h0M194.0 148.2h0M195.0 148.3h0M196.2 148.7h0M196.3 148.8h0M196.6 148.1h0M197.8 148.9h0M197.6 148.6h0M202.9 148.7h0M205.8 148.4h0M206.7 148.4h0M207.0 148.0h0M209.8 148.6h0M210.6 148.7h0M210.6 148.8h0M215.0 148.3h0M216.4 148.2h0M216.7 148.9h0M220.2 148.9h0M224.0 148.3h0M227.2 149.0h0M227.8 148.5h0M228.2 148.1h0M232.6 148.8h0M232.6 148.5h0M235.7 148.8h0M235.7 148.8h0M237.0 148.6h0M103.6 150.0h0M107.4 150.0h0M107.2 149.6h0M110.2 149.7h0M112.1 149.9h0M112.4 149.9h0M117.4 149.2h0M122.6 149.3h0M123.1 149.8h0M125.2 149.6h0M127.7 149.6h0M127.2 149.3h0M127.4 149.4h0M130.5 149.9h0M131.0 149.4h0M131.7 149.4h0M131.2 149.9h0M132.0 149.8h0M133.7 149.7h0M134.6 149.9h0M135.8 149.6h0M137.0 149.5h0M138.5 149.1h0M138.9 149.5h0M138.1 149.4h0M140.1 149.6h0M140.4 149.7h0M141.8 149.7h0M143.2 149.4h0M144.9 149.6h0M147.3 149.1h0M147.8 149.5h0M147.8 149.3h0M148.6 149.8h0M150.6 149.8h0M152.4 149.8h0M153.8 149.4h0M154.1 149.7h0M154.6 149.8h0M154.5 149.7h0M155.7 149.6h0M155.5 149.4h0M156.9 149.6h0M157.6 149.3h0M158.8 149.8h0M160.0 149.4h0M159.8 149.2h0M161.1 149.3h0M162.1 149.9h0M163.0 149.3h0M164.4 149.6h0M167.1 149.8h0M168.6 149.6h0M169.3 150.0h0M169.1 149.9h0M170.0 149.8h0M171.2 149.9h0M171.9 149.4h0M171.2 149.1h0M174.6 149.7h0M174.1 149.9h0M175.2 149.4h0M179.3 149.0h0M180.9 150.0h0M181.4 149.9h0M183.0 149.2h0M183.7 149.2h0M184.9 149.2h0M184.5 149.5h0M184.8 149.9h0M185.6 149.4h0M185.8 149.2h0M186.2 149.1h0M188.8 149.2h0M189.7 149.6h0M190.1 149.2h0M192.8 149.2h0M192.4 149.7h0M194.3 149.3h0M194.2 149.6h0M195.7 149.9h0M196.9 149.6h0M196.6 149.6h0M197.2 149.5h0M198.7 150.0h0M199.9 149.6h0M199.4 149.1h0M199.9 149.4h0M200.8 149.5h0M203.0 149.0h0M204.4 149.6h0M205.0 149.8h0M207.4 149.2h0M207.5 149.7h0M209.0 149.9h0M208.5 149.6h0M209.1 149.8h0M210.4 149.9h0M210.3 149.2h0M211.9 149.0h0M212.4 149.5h0M213.0 149.1h0M220.1 149.5h0M222.8 149.6h0M231.4 149.6h0M237.7 149.1h0M237.1 149.9h0M96.6 150.8h0M99.6 150.1h0M100.6 150.3h0M104.0 150.5h0M103.9 150.6h0M111.5 150.1h0M113.8 150.4h0M114.1 150.1h0M114.9 150.8h0M115.9 150.7h0M117.8 150.1h0M118.4 151.0h0M121.9 150.4h0M124.9 150.2h0M124.8 150.7h0M126.2 150.5h0M129.3 150.1h0M130.7 150.3h0M131.6 150.5h0M133.4 150.7h0M135.2 150.6h0M135.8 151.0h0M137.0 150.5h0M137.5 150.7h0M137.4 150.4h0M138.1 150.3h0M138.0 150.3h0M139.4 150.5h0M144.3 150.1h0M145.0 150.9h0M145.2 150.4h0M148.3 150.7h0M148.2 150.7h0M150.0 150.7h0M155.8 151.0h0M159.6 150.6h0M160.5 150.1h0M161.9 150.0h0M163.4 150.9h0M163.5 150.3h0M165.0 150.8h0M165.0 150.4h0M167.9 151.0h0M169.3 150.1h0M169.1 150.9h0M170.1 150.9h0M171.9 150.2h0M173.8 150.4h0M174.6 150.2h0M175.8 150.4h0M176.7 151.0h0M177.3 150.5h0M177.1 150.7h0M178.8 150.3h0M179.7 150.3h0M180.1 150.2h0M183.3 150.8h0M185.4 150.4h0M185.9 150.1h0M186.8 150.0h0M187.8 150.8h0M188.0 150.4h0M189.1 150.6h0M190.5 150.2h0M191.9 150.3h0M195.3 150.9h0M197.0 150.3h0M198.2 150.2h0M200.3 150.9h0M201.6 150.3h0M202.6 150.2h0M202.1 150.4h0M204.2 150.8h0M205.2 150.5h0M205.8 150.2h0M208.6 150.3h0M209.6 150.2h0M209.6 150.2h0M211.4 150.2h0M211.6 150.6h0M212.2 150.0h0M212.9 150.4h0M213.2 150.7h0M213.4 150.3h0M214.8 150.3h0M214.5 150.8h0M216.2 150.2h0M216.5 150.9h0M218.1 150.1h0M219.9 150.6h0M220.1 150.9h0M220.7 150.8h0M225.0 150.8h0M225.2 150.4h0M229.2 151.0h0M229.1 151.0h0M229.8 150.1h0M238.2 150.4h0M241.6 150.9h0M94.8 151.2h0M94.9 151.4h0M100.9 151.2h0M104.9 151.9h0M105.2 151.8h0M112.1 151.1h0M113.5 151.6h0M115.1 151.2h0M117.5 151.1h0M118.9 151.3h0M121.5 151.6h0M121.5 151.1h0M123.5 151.3h0M123.3 151.2h0M124.6 151.4h0M126.9 151.4h0M127.4 151.0h0M128.8 151.0h0M129.4 151.6h0M130.0 151.3h0M132.8 151.9h0M132.3 151.1h0M132.2 151.9h0M132.3 151.5h0M135.0 151.4h0M135.6 151.3h0M135.4 151.9h0M135.5 151.3h0M136.6 151.8h0M137.4 151.4h0M138.9 151.9h0M141.1 151.2h0M141.1 151.4h0M142.9 151.3h0M142.3 151.2h0M144.1 151.0h0M145.5 151.4h0M146.2 151.7h0M148.6 151.0h0M148.2 151.5h0M151.6 151.3h0M151.9 151.7h0M152.3 151.9h0M153.3 151.7h0M156.9 151.6h0M157.4 151.6h0M157.5 151.1h0M157.7 152.0h0M159.7 151.6h0M160.4 151.1h0M160.9 151.8h0M161.2 151.3h0M166.7 151.5h0M167.9 151.9h0M168.6 151.4h0M168.9 151.2h0M168.3 151.2h0M169.4 151.0h0M170.1 151.6h0M170.7 151.1h0M171.4 151.7h0M174.4 151.6h0M176.8 151.5h0M178.4 151.3h0M178.3 151.8h0M179.3 151.0h0M180.9 151.7h0M181.9 151.2h0M182.6 151.6h0M183.8 151.7h0M183.5 151.8h0M185.8 151.0h0M185.1 151.6h0M186.2 151.9h0M187.3 151.6h0M188.2 151.2h0M189.2 151.3h0M192.4 151.3h0M193.7 151.7h0M193.3 151.0h0M194.2 152.0h0M196.2 152.0h0M198.7 151.0h0M201.1 151.7h0M206.2 151.5h0M206.0 151.1h0M207.6 151.5h0M211.1 151.7h0M212.6 152.0h0M214.4 152.0h0M214.1 151.9h0M218.0 151.9h0M220.9 151.2h0M221.4 151.5h0M221.2 151.9h0M222.2 151.9h0M226.4 151.5h0M227.9 151.4h0M228.5 151.6h0M229.2 152.0h0M233.0 151.6h0M234.1 151.3h0M237.2 151.7h0M240.5 151.9h0M107.5 152.2h0M107.8 152.0h0M107.2 152.6h0M112.7 152.1h0M113.9 152.3h0M115.4 152.4h0M117.5 152.8h0M118.1 152.9h0M120.0 153.0h0M119.9 152.9h0M121.8 152.5h0M123.0 152.1h0M125.4 152.1h0M125.9 152.7h0M125.3 152.3h0M126.8 152.9h0M126.2 152.2h0M128.3 152.1h0M128.0 152.5h0M128.3 152.0h0M130.4 152.1h0M133.5 152.3h0M135.2 153.0h0M138.8 152.7h0M138.0 152.3h0M138.1 152.6h0M140.0 152.6h0M139.3 152.1h0M139.8 153.0h0M140.1 152.9h0M142.9 152.7h0M142.1 152.8h0M143.4 152.9h0M146.2 152.6h0M146.5 152.4h0M147.1 152.9h0M148.9 152.5h0M148.3 152.5h0M151.9 152.1h0M151.9 152.8h0M153.3 152.6h0M153.8 152.9h0M155.4 152.1h0M155.9 152.8h0M156.3 152.8h0M157.6 152.6h0M158.9 152.6h0M160.3 152.4h0M161.7 152.4h0M161.9 152.3h0M162.2 152.6h0M162.9 152.8h0M163.7 152.2h0M165.0 152.3h0M167.6 152.8h0M169.3 152.4h0M170.8 152.9h0M172.1 152.7h0M172.8 152.9h0M173.3 152.5h0M176.8 152.8h0M176.7 152.5h0M177.0 152.0h0M177.3 152.9h0M178.7 153.0h0M184.2 152.3h0M184.2 152.2h0M184.9 153.0h0M184.9 152.4h0M186.9 152.7h0M186.7 152.3h0M189.5 152.4h0M190.7 152.6h0M191.1 152.4h0M192.0 152.3h0M193.0 152.6h0M194.5 152.3h0M196.6 153.0h0M199.1 152.2h0M201.9 152.6h0M201.1 153.0h0M204.0 152.6h0M204.2 152.0h0M206.5 152.6h0M206.1 152.1h0M207.8 152.2h0M208.3 152.8h0M210.1 152.5h0M212.7 152.1h0M215.4 152.1h0M216.7 152.2h0M217.9 152.1h0M221.0 152.4h0M222.4 152.8h0M226.3 152.9h0M229.4 152.3h0M230.9 152.3h0M232.8 152.2h0M235.7 152.3h0M235.0 153.0h0M241.7 152.1h0M244.4 152.4h0M245.6 152.9h0M98.2 153.7h0M100.9 153.3h0M102.2 153.5h0M104.6 153.9h0M106.0 153.9h0M107.3 154.0h0M108.6 153.7h0M111.2 153.6h0M118.5 153.7h0M119.4 153.4h0M123.5 153.5h0M124.4 153.3h0M126.7 153.6h0M132.0 153.3h0M131.4 153.0h0M132.2 153.9h0M132.9 153.7h0M134.0 153.2h0M135.3 153.5h0M136.1 153.8h0M136.6 153.4h0M137.9 153.7h0M138.7 153.6h0M140.6 153.6h0M142.5 153.6h0M147.7 153.4h0M148.3 153.8h0M150.8 154.0h0M151.1 153.4h0M152.7 153.2h0M152.6 153.5h0M153.4 153.7h0M154.3 153.7h0M155.8 153.3h0M156.7 153.9h0M158.8 153.8h0M160.1 153.2h0M161.3 153.2h0M161.9 153.8h0M162.4 153.3h0M163.0 153.5h0M163.6 153.4h0M164.3 153.7h0M165.5 153.0h0M168.4 153.5h0M171.8 153.5h0M171.3 153.4h0M172.9 153.8h0M174.4 153.1h0M175.4 153.2h0M176.1 153.1h0M176.6 153.8h0M177.5 153.7h0M181.3 153.7h0M183.2 153.8h0M184.0 153.9h0M185.7 153.1h0M185.0 153.9h0M188.3 153.7h0M188.4 153.1h0M190.4 153.7h0M192.6 153.2h0M193.4 153.8h0M194.5 153.4h0M196.4 153.6h0M198.1 153.0h0M198.5 153.7h0M200.9 154.0h0M200.2 153.1h0M201.4 153.1h0M201.1 153.8h0M206.3 153.6h0M207.1 153.7h0M211.8 154.0h0M213.0 153.4h0M215.9 153.8h0M216.9 153.2h0M217.3 154.0h0M223.0 153.1h0M222.8 153.6h0M223.1 153.3h0M224.1 153.3h0M224.3 153.3h0M226.4 153.8h0M227.1 153.2h0M228.6 153.2h0M231.1 153.7h0M233.3 153.1h0M235.9 153.6h0M238.2 153.6h0M245.6 153.4h0M95.4 154.2h0M95.0 154.1h0M99.3 154.3h0M100.1 154.5h0M105.7 154.7h0M107.3 154.4h0M108.1 154.6h0M110.7 154.2h0M111.0 154.5h0M111.1 154.9h0M113.9 154.5h0M113.1 154.2h0M115.1 154.8h0M117.5 154.4h0M121.0 154.2h0M121.7 154.6h0M121.3 154.2h0M123.6 154.2h0M124.7 154.9h0M125.3 154.1h0M125.8 154.1h0M125.6 154.1h0M128.0 154.5h0M128.4 154.5h0M131.2 154.4h0M132.3 154.1h0M132.8 154.5h0M133.5 154.8h0M135.1 154.4h0M136.0 154.1h0M137.4 154.5h0M138.0 154.7h0M138.1 154.4h0M139.8 154.5h0M140.3 154.3h0M141.9 154.9h0M142.2 154.5h0M146.9 154.7h0M146.8 154.1h0M146.8 154.5h0M147.3 154.4h0M147.3 154.1h0M147.1 154.2h0M148.8 155.0h0M149.2 154.9h0M149.3 154.9h0M153.5 154.1h0M157.5 154.2h0M157.4 154.8h0M158.8 154.6h0M161.5 154.0h0M164.1 154.6h0M164.5 154.9h0M164.7 154.3h0M167.8 154.7h0M169.1 154.4h0M173.1 154.0h0M175.1 154.9h0M175.7 154.4h0M177.8 154.6h0M179.1 154.8h0M182.3 154.2h0M182.1 154.5h0M182.3 155.0h0M183.4 154.2h0M183.9 155.0h0M185.5 154.7h0M189.7 154.2h0M191.9 154.8h0M192.8 154.4h0M192.4 154.7h0M193.7 154.9h0M194.9 154.8h0M196.0 154.7h0M195.3 154.4h0M197.3 154.9h0M198.6 154.6h0M199.9 154.0h0M200.5 154.2h0M201.3 154.5h0M202.3 154.1h0M203.8 154.7h0M203.1 154.0h0M204.6 154.4h0M206.6 154.3h0M209.8 154.6h0M210.0 154.7h0M211.8 154.6h0M211.6 154.8h0M213.3 154.9h0M213.6 154.7h0M213.6 154.2h0M214.9 154.5h0M214.9 155.0h0M216.7 154.1h0M217.5 154.2h0M217.8 154.5h0M217.4 154.3h0M219.3 154.5h0M220.4 154.3h0M221.8 154.4h0M222.7 154.6h0M222.4 154.8h0M226.4 154.6h0M233.0 154.7h0M235.0 154.4h0M237.7 154.7h0M238.0 154.7h0M244.4 154.2h0M86.8 155.3h0M86.1 155.4h0M95.4 155.2h0M96.4 155.7h0M99.1 155.6h0M102.8 155.2h0M104.6 155.7h0M106.9 155.4h0M114.1 155.0h0M119.1 155.8h0M120.7 155.1h0M121.2 155.7h0M122.7 155.2h0M122.3 155.6h0M122.6 155.5h0M124.7 155.5h0M126.0 155.5h0M125.9 155.3h0M127.9 156.0h0M128.0 155.9h0M129.2 155.2h0M129.4 155.3h0M129.0 155.7h0M130.3 155.7h0M131.2 155.9h0M134.8 155.6h0M135.1 155.7h0M136.5 155.7h0M138.1 155.7h0M139.3 155.9h0M141.3 155.9h0M141.2 155.2h0M141.6 155.4h0M142.2 155.4h0M145.3 155.9h0M145.9 155.8h0M148.0 155.3h0M149.5 155.7h0M149.1 155.4h0M149.1 155.0h0M149.3 155.9h0M149.2 155.0h0M151.4 155.9h0M153.4 155.6h0M153.6 155.3h0M156.9 155.8h0M156.8 155.5h0M157.4 155.7h0M160.8 155.7h0M161.9 155.6h0M161.3 155.7h0M161.6 155.3h0M161.7 155.8h0M162.9 155.9h0M164.6 155.6h0M165.5 155.1h0M166.1 155.9h0M166.1 155.4h0M167.7 155.9h0M168.1 155.9h0M168.7 155.2h0M173.7 155.7h0M174.4 155.5h0M177.5 155.6h0M178.4 155.5h0M179.5 155.2h0M179.3 155.6h0M181.3 155.8h0M182.2 155.9h0M187.2 155.2h0M187.5 155.6h0M191.7 155.5h0M193.4 155.7h0M194.2 155.8h0M200.2 155.2h0M203.3 155.4h0M203.5 155.4h0M205.8 155.4h0M208.7 155.6h0M209.3 155.3h0M210.9 155.7h0M210.4 155.6h0M211.3 155.7h0M213.6 155.1h0M213.1 155.1h0M214.8 155.9h0M215.9 155.1h0M216.7 155.9h0M218.9 155.6h0M220.4 155.8h0M225.0 155.0h0M227.4 155.5h0M230.1 155.7h0M231.3 155.3h0M239.6 156.0h0M240.5 156.0h0M87.6 156.1h0M96.7 156.1h0M97.6 156.7h0M99.8 156.5h0M109.2 156.9h0M109.4 156.0h0M114.4 156.8h0M114.6 156.9h0M118.3 156.2h0M121.4 156.8h0M121.2 156.2h0M121.7 156.0h0M121.0 156.3h0M124.9 156.7h0M124.5 156.7h0M125.2 156.8h0M125.1 156.6h0M129.6 156.3h0M133.9 156.3h0M134.2 156.8h0M134.4 156.5h0M136.5 156.4h0M137.3 156.0h0M137.4 156.7h0M139.3 156.7h0M140.8 156.7h0M142.0 156.4h0M141.2 156.3h0M142.8 156.9h0M144.6 156.2h0M144.7 156.1h0M145.0 156.9h0M144.7 156.2h0M145.8 156.2h0M147.2 156.7h0M148.4 157.0h0M148.1 156.9h0M148.2 156.3h0M148.7 156.2h0M154.7 156.4h0M154.1 156.9h0M155.6 156.2h0M157.4 156.5h0M157.3 156.5h0M159.4 156.3h0M162.1 156.2h0M164.9 156.2h0M166.0 156.8h0M167.3 156.4h0M168.6 156.4h0M168.8 156.1h0M168.9 156.5h0M169.1 156.6h0M169.8 156.4h0M170.3 156.6h0M170.0 156.7h0M170.4 156.1h0M170.9 156.6h0M171.9 156.1h0M175.2 156.4h0M175.0 156.2h0M176.4 156.9h0M176.8 156.6h0M176.5 156.2h0M179.0 157.0h0M178.9 156.4h0M178.8 156.2h0M179.7 156.7h0M180.3 156.5h0M180.8 156.7h0M186.6 156.7h0M186.8 156.1h0M188.2 156.5h0M188.5 156.7h0M188.8 156.8h0M189.1 156.5h0M191.0 156.8h0M192.5 156.1h0M192.4 156.4h0M192.5 156.3h0M193.7 156.7h0M197.4 156.2h0M200.3 156.1h0M200.7 156.4h0M202.0 156.6h0M202.3 156.8h0M203.3 156.8h0M204.9 156.2h0M205.3 156.4h0M205.7 156.8h0M206.4 156.8h0M209.4 156.2h0M211.9 156.5h0M213.1 156.0h0M213.9 156.4h0M214.9 156.3h0M214.8 157.0h0M214.8 157.0h0M215.2 156.2h0M219.3 156.1h0M221.2 156.1h0M223.5 156.4h0M224.3 156.6h0M224.3 156.2h0M224.9 156.8h0M224.2 156.8h0M225.9 156.7h0M225.5 156.6h0M231.9 156.2h0M232.0 156.1h0M233.9 156.2h0M235.9 156.8h0M236.4 156.5h0M236.2 156.9h0M237.6 156.5h0M239.6 156.5h0M245.4 156.0h0M93.5 157.3h0M98.9 157.0h0M98.1 157.2h0M100.7 157.2h0M102.0 157.7h0M102.5 157.3h0M105.6 157.4h0M107.9 157.9h0M110.4 157.8h0M113.5 157.0h0M114.4 157.9h0M117.8 157.3h0M124.2 157.6h0M126.3 157.5h0M127.4 157.6h0M128.4 157.1h0M130.4 157.8h0M131.7 157.7h0M132.4 157.4h0M132.3 157.4h0M132.0 157.8h0M133.3 158.0h0M133.2 157.0h0M133.5 157.1h0M134.3 157.6h0M135.2 157.9h0M138.8 157.6h0M141.6 157.4h0M142.1 157.5h0M145.0 157.2h0M145.7 157.7h0M147.4 157.8h0M148.2 157.8h0M148.7 157.3h0M150.2 157.7h0M153.8 157.6h0M154.4 157.7h0M156.9 157.5h0M157.5 157.5h0M160.8 157.6h0M162.6 157.2h0M162.6 158.0h0M163.5 157.3h0M164.6 157.4h0M165.8 157.9h0M165.4 157.6h0M166.9 157.4h0M166.7 157.6h0M166.5 157.3h0M167.4 158.0h0M168.2 158.0h0M168.6 158.0h0M168.8 157.7h0M169.1 157.3h0M170.0 157.6h0M170.5 157.3h0M172.4 157.7h0M173.2 157.6h0M174.1 157.6h0M175.1 157.1h0M175.2 157.5h0M176.8 157.2h0M176.3 157.4h0M177.3 157.9h0M177.5 157.7h0M178.5 157.1h0M178.3 157.1h0M180.0 157.5h0M179.2 158.0h0M182.5 157.8h0M183.0 157.5h0M183.6 157.2h0M184.0 157.1h0M184.6 157.0h0M184.4 157.2h0M186.6 158.0h0M187.1 157.1h0M187.5 157.1h0M188.4 157.6h0M190.5 157.2h0M191.5 157.8h0M192.9 158.0h0M192.3 157.1h0M192.6 157.9h0M192.3 157.8h0M193.4 158.0h0M196.6 157.7h0M198.0 157.6h0M198.9 157.4h0M199.2 157.7h0M203.1 157.2h0M204.8 157.8h0M205.6 157.3h0M205.9 157.9h0M206.7 157.7h0M206.6 157.3h0M206.4 157.7h0M206.8 157.1h0M207.8 157.3h0M209.9 157.2h0M210.1 157.7h0M212.0 157.1h0M213.0 157.9h0M214.7 157.0h0M216.1 157.2h0M216.9 157.7h0M218.0 157.9h0M218.0 157.5h0M219.9 157.4h0M220.0 157.9h0M220.6 157.6h0M220.2 158.0h0M221.4 157.6h0M223.3 157.7h0M224.0 157.2h0M224.2 157.6h0M224.8 157.3h0M225.7 157.2h0M226.1 157.4h0M226.2 157.5h0M228.8 157.0h0M228.3 157.8h0M230.8 157.7h0M233.4 157.3h0M238.0 157.1h0M240.8 157.4h0M241.0 157.7h0M243.8 157.9h0M93.4 158.7h0M95.8 158.7h0M98.5 158.5h0M102.5 158.4h0M105.6 158.1h0M115.5 158.5h0M115.6 158.3h0M120.8 158.8h0M123.4 158.8h0M125.7 158.6h0M125.1 158.3h0M127.6 158.1h0M127.9 158.1h0M127.4 158.9h0M127.2 158.5h0M128.9 159.0h0M128.9 158.0h0M129.9 158.6h0M129.2 158.0h0M130.2 159.0h0M131.7 158.3h0M133.4 158.5h0M142.2 158.7h0M142.6 158.5h0M143.9 158.5h0M144.5 158.1h0M145.2 158.7h0M146.8 158.2h0M146.5 158.1h0M146.0 158.5h0M148.5 158.8h0M148.9 158.1h0M149.6 158.5h0M150.6 158.7h0M151.4 158.3h0M152.0 159.0h0M152.2 158.2h0M152.6 158.3h0M155.8 158.9h0M155.9 158.6h0M155.8 158.2h0M156.3 158.5h0M156.7 158.8h0M157.9 158.0h0M157.9 158.6h0M160.1 158.1h0M161.6 158.4h0M162.3 158.8h0M162.3 158.4h0M163.0 158.5h0M163.2 158.4h0M163.7 158.7h0M165.0 158.1h0M168.4 158.2h0M169.9 158.6h0M170.9 158.7h0M171.0 158.5h0M170.4 158.7h0M171.9 158.3h0M175.1 158.7h0M175.6 158.6h0M179.0 158.8h0M180.2 158.4h0M180.5 158.7h0M181.7 158.0h0M183.0 158.7h0M182.5 158.1h0M185.7 158.1h0M185.6 158.7h0M185.4 158.5h0M187.0 158.7h0M187.0 158.9h0M189.0 158.8h0M190.8 158.4h0M190.9 158.1h0M191.5 158.5h0M193.0 158.7h0M193.6 158.0h0M203.2 158.3h0M206.6 158.2h0M209.5 158.7h0M210.3 158.5h0M210.6 158.4h0M213.1 158.3h0M214.0 158.8h0M214.4 158.0h0M214.4 158.0h0M214.6 158.9h0M216.6 158.7h0M216.9 158.9h0M216.0 158.4h0M217.9 159.0h0M218.2 158.7h0M219.0 158.9h0M219.1 158.2h0M219.1 158.2h0M220.2 158.0h0M221.8 158.5h0M222.7 158.7h0M223.8 158.0h0M223.5 158.3h0M224.9 158.6h0M224.8 158.1h0M225.3 158.0h0M225.4 158.3h0M228.4 158.4h0M229.7 158.1h0M234.6 158.0h0M234.8 158.6h0M235.6 158.0h0M235.8 158.9h0M235.1 158.5h0M236.7 158.9h0M249.6 159.0h0M93.9 159.7h0M97.0 159.3h0M102.2 159.0h0M113.9 159.9h0M115.3 159.1h0M116.1 159.8h0M119.8 159.0h0M120.1 159.2h0M122.6 159.8h0M123.4 159.1h0M123.7 159.4h0M123.9 159.4h0M126.9 159.6h0M127.8 159.5h0M128.6 159.9h0M129.8 159.9h0M131.2 159.7h0M131.2 159.3h0M132.0 159.3h0M136.9 159.1h0M137.4 159.9h0M138.6 159.5h0M140.0 159.6h0M140.4 160.0h0M143.8 159.2h0M144.1 159.9h0M145.1 159.1h0M145.2 160.0h0M147.9 159.5h0M148.0 159.6h0M148.6 159.7h0M148.7 159.2h0M149.1 159.4h0M151.0 159.6h0M152.7 159.8h0M156.5 159.6h0M157.1 159.9h0M158.8 159.6h0M159.6 159.9h0M160.7 159.8h0M160.6 159.9h0M160.4 159.5h0M161.7 159.1h0M161.1 159.8h0M161.4 159.5h0M162.4 159.5h0M163.4 159.2h0M165.0 159.1h0M168.9 159.3h0M171.8 159.5h0M171.8 159.9h0M172.5 159.6h0M173.1 159.7h0M174.7 159.6h0M174.1 159.7h0M175.6 159.9h0M175.1 159.6h0M176.4 159.8h0M177.4 159.4h0M177.1 159.9h0M178.1 159.3h0M179.1 159.5h0M179.9 159.2h0M180.3 159.9h0M180.8 159.3h0M182.9 159.2h0M182.9 159.1h0M183.2 159.8h0M185.8 159.7h0M186.0 159.6h0M186.3 159.4h0M187.0 159.1h0M187.9 159.3h0M190.1 159.9h0M190.1 159.6h0M191.4 159.3h0M192.2 159.6h0M195.5 159.4h0M197.0 159.9h0M197.7 159.2h0M198.1 159.2h0M199.3 159.7h0M207.9 160.0h0M207.4 159.1h0M208.4 159.9h0M209.6 159.8h0M209.6 159.2h0M210.7 159.9h0M213.8 159.2h0M215.0 159.2h0M215.2 159.1h0M217.6 159.3h0M218.1 159.4h0M218.5 159.6h0M220.9 159.4h0M221.6 159.1h0M221.2 159.3h0M223.5 159.9h0M226.2 159.8h0M227.4 159.4h0M227.0 159.7h0M228.3 159.9h0M228.7 159.6h0M229.9 159.2h0M232.7 159.7h0M232.3 159.6h0M232.0 159.5h0M234.0 159.3h0M235.1 159.6h0M236.3 159.2h0M237.0 160.0h0M238.7 159.3h0M238.5 159.7h0M244.8 160.0h0M88.2 160.3h0M90.5 160.4h0M94.5 160.4h0M95.6 160.5h0M97.6 160.7h0M108.3 160.4h0M112.3 160.2h0M113.8 160.9h0M116.7 160.3h0M117.6 160.4h0M118.3 160.7h0M119.1 160.4h0M120.2 160.4h0M121.5 160.4h0M121.5 161.0h0M122.9 160.2h0M122.2 160.8h0M123.0 160.3h0M124.4 160.1h0M125.5 160.2h0M127.3 160.2h0M127.7 160.1h0M128.3 160.4h0M129.2 160.5h0M131.9 160.7h0M131.8 160.9h0M131.8 160.5h0M134.0 160.5h0M134.7 160.2h0M138.8 160.7h0M138.9 160.1h0M139.1 160.9h0M139.4 160.3h0M141.0 160.6h0M140.0 160.2h0M142.8 160.0h0M144.9 160.4h0M146.5 160.2h0M147.2 160.2h0M147.6 160.9h0M148.0 160.5h0M150.8 160.7h0M151.2 160.8h0M153.7 160.9h0M154.0 160.2h0M153.1 160.8h0M154.1 160.5h0M158.5 160.9h0M158.0 160.5h0M160.6 160.2h0M160.5 160.9h0M161.8 160.1h0M166.1 160.1h0M166.1 160.3h0M167.3 160.5h0M169.3 160.7h0M169.2 160.1h0M170.2 160.6h0M173.5 160.2h0M174.3 160.2h0M176.3 160.3h0M178.1 160.5h0M179.2 160.0h0M181.9 160.3h0M184.4 160.8h0M185.6 160.8h0M187.8 160.6h0M191.6 160.2h0M193.3 160.5h0M195.9 160.7h0M197.1 160.4h0M197.3 160.5h0M197.5 161.0h0M197.4 160.9h0M198.6 160.2h0M200.0 160.1h0M201.6 160.9h0M203.5 160.2h0M204.7 160.7h0M204.6 160.1h0M205.3 160.0h0M205.8 160.4h0M207.1 160.5h0M208.2 160.1h0M209.5 160.1h0M209.1 161.0h0M209.0 160.9h0M209.0 160.7h0M210.0 160.8h0M212.2 160.5h0M212.9 160.9h0M214.2 160.8h0M215.8 160.2h0M216.5 160.2h0M216.7 161.0h0M217.3 160.9h0M217.6 160.1h0M218.3 160.4h0M218.1 160.8h0M218.5 160.9h0M220.8 160.7h0M225.6 160.1h0M227.3 160.3h0M229.0 160.2h0M230.7 160.1h0M231.4 160.0h0M231.0 160.3h0M231.4 160.8h0M232.9 160.3h0M234.0 160.6h0M233.8 160.7h0M235.2 160.7h0M238.2 160.7h0M238.9 160.6h0M87.9 161.6h0M89.9 161.1h0M91.7 161.7h0M97.3 162.0h0M104.1 161.1h0M109.2 161.5h0M109.7 161.2h0M111.7 161.5h0M114.5 161.7h0M116.2 161.3h0M118.5 161.1h0M119.3 161.8h0M120.6 162.0h0M122.4 161.1h0M124.4 161.4h0M125.0 161.4h0M127.8 161.5h0M128.5 161.5h0M129.6 161.1h0M130.7 161.9h0M131.0 161.6h0M131.4 161.6h0M132.6 161.2h0M135.7 161.3h0M135.8 161.8h0M136.4 161.6h0M137.9 161.9h0M137.2 161.2h0M138.3 161.9h0M146.6 161.4h0M146.5 161.6h0M148.0 161.1h0M148.9 161.4h0M150.4 161.4h0M152.9 161.4h0M154.1 162.0h0M156.7 161.0h0M156.9 161.4h0M158.8 161.4h0M160.8 161.1h0M162.6 161.4h0M164.6 161.8h0M169.3 161.9h0M170.3 161.1h0M174.7 161.2h0M176.8 161.9h0M176.4 161.1h0M177.2 161.8h0M179.9 161.5h0M180.4 161.7h0M180.4 161.2h0M181.1 161.6h0M181.8 161.2h0M182.5 161.7h0M182.6 161.4h0M183.0 161.5h0M183.2 161.9h0M184.7 161.6h0M184.6 161.3h0M187.6 161.4h0M188.8 161.8h0M189.8 161.8h0M190.4 161.3h0M191.3 161.4h0M192.1 161.9h0M192.3 161.5h0M195.2 161.1h0M196.2 161.4h0M197.6 161.7h0M198.3 161.1h0M199.7 161.9h0M199.6 161.5h0M200.7 161.8h0M201.2 161.1h0M205.0 161.4h0M205.1 161.5h0M208.4 161.3h0M210.4 161.4h0M211.3 162.0h0M213.0 161.0h0M213.4 161.3h0M215.0 161.5h0M215.4 161.1h0M216.9 161.5h0M216.3 161.2h0M218.5 161.9h0M219.4 161.4h0M219.2 161.8h0M219.1 161.4h0M222.5 161.3h0M222.5 161.7h0M222.8 161.2h0M222.1 161.4h0M232.2 161.3h0M232.3 161.1h0M232.8 161.3h0M233.0 161.2h0M233.9 161.8h0M237.5 161.8h0M239.0 161.5h0M238.1 161.1h0M241.9 161.7h0M249.8 161.9h0M82.0 162.8h0M95.9 162.5h0M97.2 162.5h0M99.5 162.4h0M103.8 162.3h0M105.9 162.3h0M107.5 162.8h0M110.2 162.5h0M114.5 162.4h0M117.1 162.4h0M118.4 162.5h0M121.9 162.4h0M123.6 162.5h0M123.2 162.6h0M123.3 162.1h0M127.4 162.1h0M129.7 162.3h0M130.0 162.8h0M130.7 162.0h0M134.1 162.3h0M134.7 162.7h0M136.8 162.5h0M136.2 162.5h0M137.2 162.1h0M137.3 163.0h0M139.1 162.1h0M140.9 162.9h0M143.0 162.0h0M142.3 162.6h0M142.4 162.2h0M143.7 162.6h0M145.1 163.0h0M145.4 163.0h0M146.9 162.1h0M148.4 162.5h0M148.9 162.8h0M148.3 162.8h0M148.8 162.3h0M150.4 163.0h0M151.6 162.9h0M151.3 162.3h0M156.2 162.6h0M159.0 162.8h0M160.4 162.6h0M161.5 162.3h0M162.5 163.0h0M163.3 162.1h0M164.2 162.2h0M166.3 162.3h0M167.6 162.9h0M168.6 162.6h0M170.2 162.7h0M170.5 162.8h0M171.4 162.6h0M172.7 162.3h0M173.2 162.3h0M174.0 162.3h0M174.5 162.4h0M174.9 162.2h0M175.1 162.3h0M177.4 162.3h0M177.8 162.4h0M178.9 162.1h0M178.9 162.8h0M179.7 162.3h0M181.7 162.0h0M182.5 163.0h0M182.8 162.7h0M183.3 162.5h0M185.8 162.5h0M186.8 162.7h0M186.8 162.8h0M191.0 162.5h0M192.7 162.1h0M193.2 163.0h0M194.2 162.6h0M196.7 162.2h0M198.1 162.1h0M198.3 162.7h0M200.9 162.9h0M203.6 162.5h0M204.3 162.6h0M204.6 162.0h0M205.4 162.3h0M205.4 162.9h0M206.4 162.6h0M208.4 162.9h0M209.5 162.1h0M211.9 162.8h0M214.0 162.7h0M214.4 162.7h0M215.6 162.3h0M215.7 162.9h0M216.7 162.1h0M217.6 162.8h0M219.3 162.6h0M221.9 163.0h0M221.3 162.2h0M221.1 162.1h0M222.9 162.2h0M224.6 162.8h0M225.8 162.8h0M225.9 162.1h0M227.1 162.4h0M228.1 162.4h0M230.0 162.7h0M230.6 162.4h0M231.5 162.7h0M232.1 162.2h0M233.8 162.5h0M235.7 162.9h0M235.8 163.0h0M236.1 162.2h0M237.8 162.5h0M240.8 162.1h0M243.5 162.2h0M245.3 162.9h0M246.9 163.0h0M246.8 162.1h0M253.4 162.7h0M85.3 163.3h0M91.4 163.6h0M96.9 164.0h0M100.9 163.8h0M107.2 163.2h0M111.5 163.3h0M113.2 163.6h0M117.3 163.8h0M117.9 163.7h0M120.7 163.8h0M120.3 163.6h0M121.1 163.4h0M121.8 163.5h0M122.6 163.7h0M122.2 163.4h0M123.6 163.8h0M123.3 163.7h0M125.6 163.3h0M126.9 163.9h0M126.4 164.0h0M127.9 163.2h0M127.6 163.6h0M127.3 163.9h0M130.8 163.3h0M132.3 163.4h0M135.6 163.1h0M135.2 163.7h0M137.3 163.2h0M137.0 163.2h0M137.8 163.5h0M137.8 163.7h0M138.3 163.3h0M140.1 163.4h0M142.9 163.7h0M143.1 163.8h0M143.6 163.3h0M144.7 163.7h0M146.4 163.3h0M148.6 163.6h0M149.5 163.5h0M151.8 163.4h0M151.6 163.8h0M152.8 163.1h0M155.5 163.6h0M158.4 163.2h0M158.2 163.2h0M159.1 163.4h0M161.7 163.4h0M163.3 163.2h0M164.5 163.2h0M164.0 163.7h0M166.5 163.4h0M166.5 163.5h0M167.4 163.6h0M170.4 163.8h0M171.1 163.9h0M172.5 163.2h0M172.4 164.0h0M172.8 163.3h0M172.4 163.4h0M173.7 163.6h0M173.5 163.2h0M175.6 163.6h0M175.9 163.2h0M177.0 163.1h0M176.4 163.0h0M178.1 163.6h0M178.5 163.3h0M179.6 163.1h0M179.9 163.3h0M181.0 163.3h0M182.0 163.3h0M181.6 163.2h0M181.4 163.0h0M183.4 163.5h0M184.2 163.1h0M184.2 163.6h0M185.6 163.6h0M190.8 163.4h0M194.5 163.4h0M196.0 163.6h0M197.7 163.9h0M198.1 163.9h0M199.3 164.0h0M200.7 163.8h0M203.6 163.9h0M204.0 163.4h0M205.1 163.9h0M205.3 163.9h0M207.1 163.4h0M208.9 164.0h0M209.7 163.9h0M211.0 164.0h0M210.4 163.6h0M211.6 163.2h0M211.5 163.1h0M213.4 163.9h0M213.8 164.0h0M214.5 163.6h0M214.6 164.0h0M215.2 164.0h0M215.4 163.8h0M217.8 164.0h0M217.5 163.9h0M218.9 163.4h0M220.5 163.1h0M220.7 163.4h0M222.1 163.3h0M223.6 163.9h0M224.9 163.7h0M224.7 163.1h0M225.6 163.6h0M225.0 163.1h0M225.5 163.6h0M228.0 163.2h0M228.0 163.9h0M227.4 163.4h0M231.0 163.4h0M230.8 163.8h0M231.4 163.8h0M233.9 163.5h0M234.9 163.2h0M234.4 163.1h0M234.7 163.8h0M235.1 163.3h0M241.2 163.4h0M242.5 163.3h0M247.5 163.0h0M83.2 164.5h0M95.0 164.7h0M96.8 164.0h0M97.6 164.5h0M99.3 164.8h0M102.2 164.1h0M103.4 164.3h0M106.8 164.3h0M112.5 164.7h0M118.6 164.1h0M120.3 164.7h0M122.7 164.8h0M122.9 164.2h0M124.9 164.1h0M124.7 164.6h0M125.9 164.6h0M125.7 164.1h0M126.2 164.1h0M126.6 164.6h0M131.3 164.8h0M132.1 164.7h0M134.2 164.7h0M134.1 164.9h0M137.8 164.5h0M139.1 164.5h0M140.8 164.9h0M140.2 164.3h0M142.1 164.6h0M143.4 164.2h0M145.0 164.8h0M147.0 164.1h0M147.3 164.2h0M148.4 164.6h0M150.0 164.7h0M152.8 164.9h0M152.1 164.6h0M152.7 164.9h0M153.3 164.2h0M153.6 164.6h0M155.0 164.5h0M155.8 164.6h0M156.3 164.9h0M158.7 164.4h0M159.9 164.6h0M161.8 164.7h0M164.0 164.5h0M163.4 164.7h0M167.2 164.1h0M168.4 164.6h0M171.0 164.3h0M171.2 164.0h0M173.5 164.6h0M175.3 164.9h0M176.2 165.0h0M177.8 164.9h0M177.4 164.8h0M178.5 164.7h0M178.1 164.7h0M180.2 164.4h0M182.7 164.4h0M182.1 164.1h0M182.4 164.7h0M182.6 164.1h0M184.4 164.2h0M185.1 164.1h0M185.9 164.1h0M186.9 164.2h0M188.7 164.9h0M189.0 164.1h0M189.0 164.0h0M190.3 164.7h0M191.6 164.3h0M191.9 164.4h0M192.8 164.7h0M195.4 164.3h0M197.8 164.7h0M197.9 164.2h0M197.6 164.2h0M198.3 164.5h0M199.6 164.8h0M201.4 164.6h0M201.9 164.9h0M202.6 164.1h0M204.0 164.2h0M204.9 164.4h0M205.1 164.8h0M205.0 164.2h0M207.8 165.0h0M207.8 164.9h0M207.2 164.2h0M208.7 164.9h0M211.9 164.9h0M212.6 164.6h0M213.5 164.2h0M216.6 164.5h0M219.0 165.0h0M219.6 164.9h0M221.9 164.7h0M224.5 164.3h0M227.7 164.0h0M227.3 164.4h0M229.3 164.9h0M230.9 164.5h0M230.6 164.3h0M231.4 164.3h0M232.9 164.6h0M233.7 164.7h0M233.1 164.0h0M234.3 164.1h0M234.5 164.9h0M235.6 164.8h0M235.8 164.6h0M238.3 164.6h0M240.3 164.9h0M245.3 164.6h0M82.9 165.6h0M102.2 165.8h0M107.7 165.9h0M107.6 165.7h0M110.3 165.3h0M115.2 165.1h0M118.9 165.7h0M125.5 165.0h0M126.0 165.5h0M126.4 165.9h0M128.5 165.8h0M130.4 165.1h0M133.6 165.4h0M134.3 165.1h0M137.3 165.7h0M137.8 165.3h0M138.2 165.5h0M144.5 165.5h0M147.5 165.6h0M149.7 165.3h0M150.9 165.6h0M153.0 165.2h0M153.6 165.1h0M156.6 165.6h0M161.5 165.1h0M161.5 165.6h0M161.9 165.6h0M161.4 165.6h0M161.7 165.6h0M162.4 166.0h0M163.4 165.4h0M163.4 165.2h0M166.7 165.0h0M166.6 165.7h0M168.4 165.1h0M168.6 165.3h0M168.8 165.5h0M168.6 165.4h0M168.0 165.7h0M171.0 165.3h0M170.0 165.4h0M171.9 165.6h0M173.1 165.3h0M173.8 165.6h0M174.2 165.4h0M174.9 165.2h0M175.8 165.6h0M177.6 165.2h0M177.2 165.5h0M180.1 165.5h0M181.6 165.2h0M185.3 165.4h0M186.0 165.8h0M187.1 165.8h0M188.3 165.7h0M189.7 165.1h0M190.4 165.3h0M191.3 165.1h0M191.6 165.8h0M196.7 165.9h0M196.4 165.4h0M197.4 165.4h0M202.8 165.5h0M203.2 165.3h0M204.7 165.0h0M204.3 165.9h0M208.9 165.2h0M208.0 165.3h0M209.5 165.1h0M210.9 165.8h0M211.3 165.3h0M211.6 165.1h0M211.4 165.3h0M212.3 165.6h0M212.6 165.6h0M212.4 165.6h0M212.1 165.0h0M213.3 165.6h0M214.3 165.4h0M214.3 165.5h0M216.2 166.0h0M218.5 165.4h0M219.3 165.7h0M222.5 165.1h0M223.3 165.1h0M223.3 165.4h0M225.5 165.4h0M230.3 165.9h0M231.2 166.0h0M234.3 165.9h0M235.6 165.7h0M236.2 165.9h0M237.6 165.5h0M237.9 165.6h0M237.2 165.2h0M238.3 165.2h0M238.2 165.5h0M239.5 165.7h0M239.8 165.2h0M242.0 165.1h0M243.6 165.8h0M245.5 165.0h0M247.8 165.9h0M95.2 166.4h0M99.3 166.7h0M99.9 166.7h0M106.0 167.0h0M107.7 166.4h0M108.9 166.2h0M114.1 166.2h0M115.4 166.9h0M118.9 166.3h0M118.3 166.7h0M118.4 166.2h0M119.2 166.9h0M120.2 166.2h0M120.4 167.0h0M122.5 166.2h0M122.8 166.4h0M123.2 166.0h0M123.7 166.6h0M126.7 166.3h0M128.0 166.4h0M127.7 166.9h0M128.5 166.1h0M129.4 166.3h0M130.5 166.2h0M130.7 166.2h0M132.3 166.9h0M134.4 166.9h0M138.4 166.7h0M139.8 166.4h0M139.6 166.4h0M142.0 166.5h0M144.9 166.6h0M144.7 166.9h0M144.4 166.9h0M145.7 166.7h0M145.5 166.7h0M146.1 166.5h0M149.6 166.2h0M151.4 166.5h0M151.8 166.1h0M152.4 166.3h0M153.3 166.6h0M154.9 166.4h0M156.3 166.4h0M159.4 166.9h0M160.5 166.0h0M161.9 166.4h0M163.4 166.7h0M164.6 166.8h0M169.3 166.9h0M169.1 166.3h0M170.4 166.3h0M172.1 166.3h0M174.6 166.3h0M174.1 166.4h0M176.9 166.7h0M177.0 166.4h0M177.1 166.1h0M180.2 166.7h0M180.6 166.2h0M182.1 166.8h0M186.1 166.2h0M186.3 166.8h0M187.9 166.6h0M194.7 166.2h0M196.7 167.0h0M198.4 166.0h0M198.3 166.4h0M199.0 166.9h0M200.5 166.7h0M200.7 166.1h0M200.8 166.4h0M201.4 166.1h0M202.6 166.4h0M203.8 166.6h0M203.6 166.4h0M203.8 166.8h0M204.8 166.7h0M205.2 166.5h0M206.3 166.3h0M207.5 166.6h0M208.7 166.8h0M208.4 166.2h0M208.7 166.5h0M208.6 166.8h0M209.4 166.6h0M211.0 166.1h0M212.0 166.5h0M214.0 166.9h0M215.1 166.4h0M217.2 166.3h0M218.8 166.5h0M219.7 166.0h0M219.7 166.6h0M222.7 166.7h0M222.1 166.8h0M222.6 166.4h0M223.4 166.4h0M223.9 166.2h0M223.5 166.4h0M224.8 166.4h0M225.9 166.7h0M225.7 166.7h0M226.2 166.6h0M226.8 166.1h0M227.6 166.8h0M227.7 167.0h0M228.1 166.4h0M230.9 166.4h0M231.0 166.7h0M234.4 166.2h0M236.7 166.8h0M238.2 166.9h0M238.6 166.8h0M238.6 166.9h0M238.5 166.2h0M240.1 166.7h0M243.9 166.3h0M244.7 167.0h0M249.9 166.6h0M91.3 167.1h0M92.5 167.0h0M92.4 167.6h0M93.6 167.7h0M97.6 167.5h0M101.9 167.3h0M103.3 167.6h0M104.1 167.2h0M116.4 167.4h0M120.6 167.5h0M121.4 167.3h0M124.0 167.6h0M124.9 168.0h0M127.0 167.1h0M127.7 167.8h0M127.1 167.8h0M131.4 167.5h0M132.6 167.2h0M135.5 167.3h0M135.3 167.9h0M136.2 167.5h0M137.4 167.1h0M137.5 167.3h0M137.4 167.1h0M137.9 167.7h0M137.4 167.5h0M138.1 167.9h0M138.6 167.3h0M139.1 168.0h0M140.8 167.3h0M141.8 167.0h0M143.1 167.6h0M144.2 167.3h0M145.1 167.9h0M146.2 167.2h0M148.4 167.6h0M148.5 167.5h0M150.2 168.0h0M153.4 167.9h0M153.0 167.7h0M156.0 167.8h0M158.0 167.8h0M157.2 168.0h0M158.3 167.1h0M158.7 167.9h0M159.9 167.6h0M160.5 167.2h0M160.4 167.0h0M164.0 167.6h0M165.2 167.4h0M167.5 167.6h0M167.2 167.6h0M168.3 167.9h0M169.3 167.2h0M171.7 167.7h0M172.4 167.2h0M173.3 167.8h0M174.6 167.4h0M174.4 167.5h0M175.6 167.8h0M177.5 167.6h0M177.8 167.9h0M178.7 167.5h0M182.3 167.3h0M183.3 167.8h0M183.5 167.4h0M184.8 167.8h0M186.5 167.6h0M186.7 167.3h0M186.8 167.1h0M188.6 167.3h0M190.6 167.3h0M191.1 167.3h0M191.6 167.7h0M191.8 167.3h0M193.3 167.8h0M195.6 167.3h0M196.1 167.5h0M196.7 167.8h0M197.2 167.9h0M197.0 167.3h0M198.6 167.3h0M199.5 167.7h0M200.3 167.8h0M200.9 167.2h0M201.4 167.1h0M201.3 167.6h0M206.1 167.9h0M210.1 167.7h0M210.7 168.0h0M212.5 168.0h0M212.9 167.2h0M215.6 167.6h0M215.7 167.6h0M218.5 167.2h0M219.8 167.6h0M221.4 167.4h0M221.1 167.8h0M223.5 167.8h0M223.1 167.2h0M226.0 167.2h0M225.7 167.2h0M227.9 167.8h0M228.9 167.2h0M231.2 167.9h0M232.3 168.0h0M234.0 167.9h0M236.4 168.0h0M236.1 167.2h0M238.9 167.1h0M239.9 167.4h0M240.2 167.7h0M241.7 167.1h0M241.9 167.9h0M242.8 167.6h0M244.3 167.9h0M249.7 167.2h0M249.3 167.8h0M250.6 167.4h0M250.6 167.4h0M252.9 167.6h0M82.6 168.6h0M91.2 168.2h0M94.1 168.6h0M98.6 168.1h0M98.9 168.7h0M100.2 168.2h0M102.5 168.7h0M102.2 168.1h0M104.1 168.8h0M107.3 168.4h0M113.8 168.6h0M118.8 168.3h0M119.3 168.9h0M119.6 168.6h0M120.5 168.8h0M126.1 168.1h0M127.5 168.4h0M127.7 168.9h0M128.0 168.3h0M128.5 168.2h0M129.9 168.7h0M131.0 168.5h0M130.9 168.8h0M132.5 168.1h0M133.2 168.2h0M134.1 168.8h0M135.3 168.9h0M137.3 168.5h0M139.6 168.1h0M143.1 168.2h0M145.0 168.9h0M146.9 168.3h0M146.7 168.3h0M147.7 168.4h0M149.4 168.3h0M150.8 168.8h0M150.2 168.7h0M153.5 168.7h0M153.8 168.4h0M153.5 168.7h0M157.5 168.1h0M159.9 168.5h0M159.1 169.0h0M159.8 168.0h0M160.2 168.4h0M161.4 168.8h0M161.8 168.1h0M162.9 168.9h0M162.2 168.5h0M163.4 168.0h0M164.9 168.8h0M164.1 168.9h0M165.4 168.9h0M166.8 168.9h0M167.4 168.8h0M168.2 168.5h0M169.1 168.1h0M170.2 168.4h0M171.2 168.4h0M177.3 168.8h0M183.8 168.7h0M184.3 168.1h0M184.9 168.5h0M184.2 168.5h0M187.1 168.6h0M188.3 168.8h0M189.3 168.4h0M192.3 168.9h0M198.5 168.7h0M200.0 168.7h0M199.2 168.7h0M200.5 168.4h0M200.7 168.3h0M203.8 168.9h0M204.4 168.5h0M204.2 168.0h0M207.6 169.0h0M207.0 168.2h0M208.6 168.8h0M208.2 168.3h0M210.9 168.2h0M210.1 168.0h0M210.6 168.4h0M210.7 168.6h0M211.3 168.9h0M212.4 168.3h0M216.1 168.1h0M216.2 168.1h0M216.4 168.8h0M217.4 168.1h0M218.4 168.5h0M219.6 168.6h0M221.7 168.8h0M224.8 168.5h0M225.9 168.2h0M226.9 168.4h0M227.0 168.1h0M227.8 168.9h0M229.7 168.9h0M230.7 168.1h0M230.8 168.0h0M230.7 168.7h0M232.3 168.9h0M232.9 168.4h0M234.9 168.7h0M236.1 168.3h0M239.0 168.4h0M243.8 168.4h0M246.5 168.7h0M250.0 168.6h0M250.5 168.2h0M253.6 168.9h0M87.1 170.0h0M99.7 170.0h0M99.1 169.9h0M103.4 170.0h0M105.2 169.6h0M106.1 169.3h0M112.7 169.1h0M113.4 169.4h0M113.4 169.7h0M115.7 169.0h0M119.8 169.7h0M119.8 169.7h0M121.1 169.3h0M121.7 169.6h0M124.4 169.7h0M125.7 169.0h0M125.6 169.1h0M128.0 169.1h0M129.8 169.5h0M130.7 169.7h0M131.3 169.7h0M132.3 169.4h0M134.0 169.9h0M133.3 169.6h0M135.3 169.9h0M135.2 169.0h0M136.6 169.8h0M139.0 169.0h0M140.9 169.0h0M140.7 169.9h0M141.3 169.1h0M141.5 169.3h0M142.3 169.2h0M144.4 169.2h0M145.9 169.2h0M145.7 169.8h0M146.5 169.6h0M147.5 169.1h0M148.7 169.0h0M149.0 169.1h0M149.5 169.7h0M150.8 169.3h0M150.6 169.7h0M151.7 169.8h0M151.3 169.0h0M157.5 169.0h0M157.6 169.1h0M158.1 169.7h0M158.7 169.4h0M159.9 169.7h0M162.5 169.3h0M164.2 169.9h0M166.4 169.0h0M166.5 169.1h0M167.8 169.2h0M167.1 169.7h0M168.2 169.7h0M169.7 169.5h0M169.3 169.5h0M170.7 169.4h0M172.2 169.7h0M173.2 169.3h0M173.8 169.7h0M176.7 169.3h0M177.5 169.1h0M179.2 169.9h0M180.3 169.8h0M180.0 169.2h0M182.9 169.0h0M182.3 169.0h0M182.9 169.0h0M184.9 169.9h0M184.2 169.2h0M185.2 169.3h0M191.1 169.3h0M192.8 169.6h0M194.7 169.7h0M194.3 169.1h0M195.0 169.6h0M195.1 169.2h0M195.6 169.4h0M198.0 169.6h0M197.0 169.1h0M200.3 169.9h0M201.3 169.4h0M202.3 169.5h0M202.7 169.6h0M203.6 169.6h0M204.1 169.5h0M208.0 169.8h0M209.6 169.5h0M209.1 169.3h0M209.8 169.4h0M210.5 169.6h0M210.8 169.6h0M212.6 169.4h0M214.2 170.0h0M214.6 169.9h0M214.1 169.2h0M214.8 169.5h0M215.0 169.7h0M216.6 169.2h0M217.9 169.1h0M219.2 169.7h0M220.8 169.5h0M221.3 169.9h0M221.2 169.8h0M222.8 169.7h0M223.4 169.7h0M228.1 169.9h0M231.7 169.0h0M233.9 169.6h0M234.6 169.4h0M236.8 170.0h0M236.7 169.6h0M241.4 169.2h0M243.0 169.2h0M244.2 170.0h0M244.1 169.9h0M245.9 169.6h0M248.0 169.4h0M248.7 169.3h0M249.7 169.4h0M81.6 170.4h0M82.2 170.1h0M87.9 170.7h0M88.8 170.7h0M93.1 170.1h0M94.2 170.0h0M96.6 170.3h0M99.8 170.3h0M102.0 170.9h0M104.3 170.5h0M104.8 170.3h0M109.7 170.4h0M111.8 170.6h0M113.2 170.8h0M115.8 170.3h0M116.7 170.8h0M119.0 170.8h0M119.2 170.1h0M119.8 170.9h0M120.9 170.5h0M121.8 170.7h0M123.5 170.4h0M124.0 170.5h0M125.7 170.8h0M126.6 170.4h0M126.5 170.3h0M127.2 170.9h0M127.2 170.8h0M130.7 170.4h0M131.2 170.8h0M131.9 170.7h0M131.9 170.6h0M135.9 170.6h0M136.8 170.9h0M136.3 170.4h0M139.4 170.7h0M141.7 170.6h0M142.6 170.8h0M142.9 170.4h0M142.2 170.1h0M142.1 171.0h0M143.1 170.4h0M145.5 170.8h0M147.0 170.5h0M147.0 170.2h0M148.3 170.0h0M148.3 170.8h0M148.6 171.0h0M151.9 170.8h0M155.5 170.7h0M155.8 170.3h0M158.5 170.6h0M158.2 170.6h0M158.1 170.7h0M161.6 170.6h0M162.6 170.3h0M164.3 170.1h0M168.8 170.5h0M169.1 170.2h0M169.8 170.3h0M170.3 170.1h0M171.8 170.2h0M171.2 170.7h0M173.5 170.8h0M175.6 170.4h0M179.0 170.3h0M178.1 170.1h0M180.0 170.3h0M180.5 170.5h0M182.0 170.4h0M182.8 170.8h0M182.0 170.4h0M183.3 170.5h0M185.0 170.8h0M184.3 170.0h0M185.7 170.8h0M187.5 170.7h0M187.1 170.2h0M188.2 170.4h0M188.9 170.7h0M191.6 171.0h0M193.5 170.2h0M194.6 170.6h0M194.4 170.0h0M195.1 170.7h0M196.3 170.8h0M196.2 170.4h0M198.2 170.5h0M198.9 170.9h0M200.9 170.6h0M200.8 170.2h0M201.5 170.2h0M201.3 170.2h0M202.6 170.5h0M202.3 170.5h0M202.4 170.0h0M204.0 170.5h0M204.5 170.7h0M205.4 170.1h0M206.9 170.2h0M206.0 170.4h0M206.1 170.9h0M207.4 170.9h0M209.6 170.8h0M209.7 170.7h0M209.7 170.1h0M210.6 170.2h0M212.0 170.1h0M213.7 170.3h0M213.8 170.2h0M214.7 170.3h0M215.0 170.1h0M218.1 170.0h0M219.3 170.7h0M220.1 170.3h0M221.9 170.9h0M223.4 170.2h0M224.7 170.2h0M224.9 170.0h0M226.0 170.3h0M226.8 170.8h0M229.0 170.0h0M229.2 170.0h0M232.6 170.6h0M232.1 170.6h0M234.1 170.1h0M235.3 170.5h0M235.6 170.4h0M238.4 170.4h0M239.4 170.6h0M239.3 170.1h0M241.7 170.8h0M244.0 170.4h0M245.0 170.1h0M246.9 170.8h0M252.9 170.8h0M253.4 170.0h0M96.6 171.6h0M100.2 171.4h0M102.8 172.0h0M102.5 171.6h0M103.6 172.0h0M105.1 171.5h0M109.6 171.4h0M112.2 171.4h0M113.7 171.0h0M115.0 171.6h0M115.6 171.3h0M117.7 171.3h0M117.6 171.2h0M119.7 171.2h0M119.9 171.0h0M120.1 171.6h0M120.6 171.4h0M121.7 171.8h0M124.7 171.1h0M126.2 171.5h0M129.0 171.5h0M130.0 172.0h0M130.2 171.8h0M131.3 171.9h0M131.9 171.5h0M133.9 171.2h0M135.6 171.5h0M138.3 171.4h0M139.4 171.6h0M140.1 171.9h0M142.3 171.5h0M144.0 171.7h0M146.7 171.0h0M146.8 171.4h0M146.8 171.4h0M146.1 171.3h0M148.7 171.3h0M150.2 171.8h0M151.5 171.4h0M152.2 171.3h0M152.5 171.4h0M152.0 171.9h0M153.5 171.5h0M154.2 171.7h0M155.1 171.4h0M156.6 171.2h0M157.4 171.2h0M158.7 171.9h0M158.1 171.3h0M158.7 171.2h0M159.1 171.3h0M160.3 171.8h0M161.0 171.0h0M160.9 171.4h0M162.1 171.4h0M166.1 171.4h0M168.9 171.4h0M170.3 171.2h0M172.7 171.2h0M173.5 171.2h0M173.8 171.5h0M174.2 171.0h0M180.5 171.4h0M180.4 171.6h0M180.6 171.8h0M182.3 171.7h0M183.4 171.3h0M185.1 171.9h0M186.8 171.6h0M187.9 171.1h0M188.5 171.7h0M189.3 171.6h0M189.6 171.9h0M189.2 171.3h0M193.5 171.2h0M194.6 171.7h0M196.3 171.3h0M196.2 171.3h0M200.4 171.5h0M201.1 171.4h0M201.3 171.6h0M203.6 171.3h0M204.4 171.3h0M204.3 171.3h0M205.4 171.4h0M206.0 171.6h0M208.4 172.0h0M208.6 171.5h0M209.1 171.1h0M210.8 171.5h0M210.7 171.3h0M211.1 171.5h0M212.6 171.2h0M213.1 171.5h0M213.6 171.7h0M215.8 171.9h0M216.2 171.9h0M217.2 171.5h0M218.0 171.0h0M218.5 171.2h0M218.5 171.1h0M218.0 171.3h0M220.3 171.3h0M221.1 171.7h0M221.6 171.8h0M222.7 171.9h0M223.2 171.8h0M224.1 171.3h0M224.0 171.4h0M225.0 171.1h0M229.1 171.2h0M230.3 171.9h0M231.0 171.4h0M237.0 171.4h0M238.3 171.2h0M238.7 171.5h0M238.1 171.4h0M238.8 171.7h0M238.6 171.4h0M239.5 171.5h0M243.1 171.4h0M244.6 171.8h0M245.8 171.7h0M247.1 171.3h0M254.0 171.9h0M75.4 172.9h0M88.4 172.7h0M90.9 172.2h0M92.0 172.8h0M95.4 172.3h0M101.5 172.8h0M108.4 173.0h0M111.0 172.4h0M111.6 172.4h0M111.0 172.5h0M116.7 172.4h0M118.0 172.1h0M120.9 172.6h0M122.2 172.9h0M124.0 173.0h0M128.0 172.3h0M127.9 173.0h0M128.5 172.9h0M128.9 172.1h0M129.2 172.2h0M130.7 172.5h0M131.6 172.4h0M133.0 172.3h0M133.2 172.6h0M134.9 172.1h0M135.6 172.4h0M137.2 173.0h0M139.7 173.0h0M139.8 172.8h0M141.6 172.4h0M142.0 172.1h0M141.8 172.6h0M143.5 173.0h0M146.0 172.9h0M146.6 172.0h0M146.1 172.3h0M146.3 172.0h0M149.0 172.2h0M148.3 172.9h0M148.1 172.4h0M149.8 172.2h0M151.7 172.2h0M153.8 172.4h0M154.6 172.9h0M155.3 172.8h0M155.3 172.0h0M156.2 172.2h0M156.4 172.4h0M158.2 172.3h0M159.9 172.9h0M162.7 172.8h0M163.2 172.1h0M165.2 172.7h0M167.8 172.2h0M171.6 172.9h0M171.6 172.5h0M172.7 172.0h0M173.2 172.4h0M174.9 173.0h0M179.1 172.8h0M180.1 172.1h0M180.8 172.6h0M182.0 172.7h0M186.1 172.1h0M186.5 172.2h0M188.0 172.9h0M188.7 172.9h0M188.1 172.6h0M189.7 172.2h0M190.8 172.6h0M193.5 172.5h0M193.3 172.8h0M195.0 172.1h0M198.9 172.2h0M201.5 172.3h0M201.9 172.8h0M201.7 172.7h0M203.6 172.9h0M203.4 172.6h0M205.1 173.0h0M209.7 172.8h0M213.6 172.2h0M215.5 172.2h0M215.4 172.9h0M216.7 173.0h0M217.4 172.4h0M219.8 172.7h0M220.8 172.5h0M222.9 172.5h0M222.8 172.3h0M223.9 172.8h0M226.4 172.0h0M227.1 172.1h0M230.7 172.3h0M232.7 172.1h0M233.7 172.7h0M233.8 172.2h0M233.5 172.9h0M235.7 172.3h0M235.7 172.7h0M236.2 172.1h0M236.9 172.8h0M236.2 172.9h0M240.8 172.4h0M242.6 172.6h0M247.3 172.5h0M249.0 172.3h0M250.8 172.9h0M251.5 172.1h0M87.1 173.8h0M95.0 173.2h0M96.8 173.9h0M106.7 173.6h0M107.3 173.8h0M108.8 173.3h0M110.7 173.3h0M112.9 173.0h0M113.7 173.5h0M114.6 173.0h0M114.3 173.8h0M114.6 173.8h0M116.0 173.2h0M117.7 173.7h0M121.8 173.1h0M122.1 173.3h0M124.7 173.5h0M124.6 173.9h0M125.2 173.0h0M126.9 173.4h0M127.6 173.6h0M127.9 173.1h0M127.7 173.1h0M129.3 174.0h0M130.3 173.8h0M131.1 173.7h0M132.0 173.2h0M133.2 173.2h0M136.3 173.3h0M136.7 173.2h0M137.4 173.1h0M137.1 173.3h0M138.5 173.9h0M139.3 173.9h0M142.2 173.8h0M142.6 173.9h0M144.6 173.7h0M147.3 173.9h0M151.3 174.0h0M151.8 173.1h0M152.4 173.4h0M154.0 173.0h0M153.5 173.0h0M155.9 173.1h0M156.7 173.9h0M157.7 173.7h0M157.6 173.4h0M157.2 173.2h0M158.9 173.6h0M158.5 173.7h0M161.6 173.6h0M161.3 173.3h0M163.8 173.2h0M165.2 173.6h0M166.9 173.2h0M167.7 173.7h0M167.9 173.0h0M169.0 173.5h0M168.5 173.1h0M168.5 173.8h0M170.8 173.9h0M170.3 173.7h0M170.3 173.2h0M171.7 173.3h0M172.4 174.0h0M173.4 173.5h0M173.8 173.7h0M173.6 173.3h0M175.1 173.7h0M176.9 173.7h0M176.7 173.5h0M176.4 173.1h0M177.2 173.0h0M177.2 173.2h0M178.7 173.4h0M178.1 173.0h0M179.9 173.4h0M180.9 174.0h0M182.2 173.3h0M183.0 173.2h0M185.7 173.1h0M187.5 173.0h0M187.1 173.4h0M189.0 173.3h0M189.1 173.1h0M190.5 173.1h0M192.0 173.7h0M193.8 173.2h0M193.9 173.3h0M193.6 173.4h0M193.2 173.9h0M196.3 173.0h0M199.9 174.0h0M200.9 173.2h0M202.4 173.4h0M204.9 173.6h0M204.6 173.6h0M205.9 173.4h0M206.9 173.7h0M207.0 173.8h0M207.9 173.3h0M207.7 173.1h0M207.6 173.2h0M210.7 173.6h0M213.5 173.2h0M216.7 173.5h0M218.4 173.5h0M218.4 173.0h0M222.0 173.9h0M224.6 173.0h0M224.5 173.8h0M224.8 173.1h0M224.9 173.7h0M224.7 173.2h0M224.9 173.7h0M225.7 173.4h0M226.9 173.9h0M228.3 173.2h0M230.7 173.3h0M230.5 173.0h0M231.3 173.8h0M232.3 173.0h0M234.5 173.4h0M238.9 173.8h0M238.7 174.0h0M239.9 173.1h0M240.3 173.5h0M241.4 173.7h0M242.1 174.0h0M244.1 173.3h0M245.6 173.6h0M247.6 173.5h0M247.7 173.8h0M249.8 173.4h0M253.5 174.0h0M257.3 173.9h0M89.8 174.3h0M93.9 174.8h0M95.6 174.7h0M98.4 174.5h0M102.8 174.4h0M103.5 174.4h0M106.3 174.0h0M107.0 174.8h0M107.7 174.4h0M112.1 174.3h0M118.0 174.1h0M119.6 174.3h0M122.2 174.6h0M125.0 174.6h0M129.1 174.5h0M131.2 174.2h0M132.9 174.8h0M134.6 174.5h0M136.2 174.3h0M138.1 174.1h0M138.2 174.2h0M140.0 174.6h0M139.5 174.1h0M139.2 174.6h0M141.7 174.1h0M143.5 174.9h0M144.7 174.5h0M147.0 174.9h0M150.8 174.9h0M152.0 174.4h0M152.7 174.1h0M153.5 174.2h0M154.6 174.1h0M155.8 174.2h0M155.9 175.0h0M155.7 174.8h0M157.5 174.2h0M157.4 174.1h0M159.5 174.7h0M160.4 174.6h0M161.1 174.3h0M163.7 174.3h0M164.8 174.6h0M164.8 174.8h0M168.7 174.7h0M170.7 174.4h0M170.3 174.6h0M174.9 174.4h0M174.9 174.3h0M176.6 174.3h0M178.9 174.6h0M180.3 174.1h0M180.1 175.0h0M182.9 174.6h0M183.7 174.4h0M184.6 175.0h0M184.6 174.9h0M185.3 174.1h0M190.8 174.5h0M190.9 174.8h0M191.8 174.0h0M191.4 174.9h0M191.6 174.2h0M191.7 174.7h0M191.8 174.3h0M192.9 174.1h0M193.9 175.0h0M195.0 174.0h0M196.8 174.3h0M197.4 174.8h0M198.6 174.2h0M199.9 174.2h0M200.9 174.9h0M200.1 174.2h0M201.2 174.4h0M203.8 174.0h0M203.8 174.1h0M205.7 174.9h0M207.6 174.3h0M207.1 174.7h0M207.7 174.8h0M209.7 174.9h0M210.4 174.4h0M211.9 174.8h0M213.9 174.8h0M213.0 174.7h0M214.2 174.1h0M214.4 174.4h0M215.9 174.1h0M219.2 175.0h0M221.5 174.1h0M224.6 174.6h0M225.9 174.7h0M226.4 175.0h0M227.0 174.9h0M230.6 174.1h0M230.9 174.9h0M232.8 174.3h0M234.2 174.7h0M234.6 174.7h0M237.1 174.5h0M238.3 174.6h0M238.7 174.3h0M240.0 174.5h0M239.8 174.9h0M241.9 174.2h0M243.4 174.6h0M248.2 174.6h0M248.6 174.6h0M251.3 174.6h0M77.9 175.9h0M80.5 175.3h0M91.5 176.0h0M93.3 175.1h0M99.6 175.6h0M101.3 175.7h0M102.9 175.4h0M103.1 175.2h0M105.3 175.7h0M105.6 175.7h0M107.9 176.0h0M108.8 175.6h0M110.7 175.8h0M115.2 175.6h0M115.8 175.8h0M117.3 175.4h0M118.6 175.5h0M122.0 175.4h0M123.0 175.3h0M123.6 175.5h0M123.2 175.9h0M125.9 175.9h0M126.9 175.3h0M128.7 175.5h0M128.9 175.1h0M129.1 175.2h0M129.6 175.7h0M130.6 175.8h0M132.8 175.3h0M133.3 175.7h0M136.1 175.7h0M138.2 175.6h0M140.9 175.7h0M140.7 176.0h0M140.6 175.9h0M140.6 175.8h0M143.7 175.3h0M143.3 175.9h0M145.8 175.9h0M146.3 175.1h0M147.3 175.5h0M148.2 175.8h0M148.0 175.8h0M148.5 175.6h0M148.6 175.4h0M149.9 175.3h0M151.7 175.9h0M154.2 175.3h0M154.5 175.5h0M159.7 175.7h0M165.4 175.9h0M165.5 175.7h0M169.1 175.4h0M171.1 175.6h0M171.3 175.1h0M171.9 175.2h0M174.0 175.4h0M175.4 175.4h0M175.3 175.7h0M175.8 175.2h0M175.0 175.0h0M176.4 175.8h0M177.9 175.8h0M178.4 175.4h0M179.8 175.6h0M184.4 175.2h0M185.3 175.3h0M187.2 175.1h0M187.8 176.0h0M188.1 175.6h0M191.2 175.5h0M193.0 175.4h0M193.7 175.7h0M194.9 175.6h0M195.0 175.6h0M196.2 175.2h0M196.0 175.5h0M198.9 175.1h0M199.5 175.8h0M199.6 175.4h0M202.7 175.6h0M202.6 175.5h0M202.6 175.9h0M204.4 175.6h0M205.5 175.1h0M209.7 175.4h0M210.8 175.8h0M211.5 175.1h0M211.1 175.7h0M212.7 175.1h0M212.6 175.9h0M212.4 175.5h0M213.5 175.6h0M213.0 175.8h0M213.7 175.5h0M213.3 175.4h0M216.0 175.4h0M216.3 175.5h0M217.3 175.3h0M219.1 175.8h0M223.7 175.1h0M224.7 175.7h0M224.6 175.9h0M224.6 175.0h0M227.7 175.2h0M227.6 175.7h0M228.4 175.7h0M231.0 175.1h0M230.8 175.7h0M231.8 175.8h0M231.6 175.4h0M232.0 175.8h0M235.6 175.8h0M241.7 175.8h0M242.4 175.3h0M242.1 175.2h0M243.0 175.8h0M242.3 175.3h0M242.0 175.5h0M247.6 175.5h0M247.7 175.7h0M248.9 175.9h0M248.9 175.9h0M251.5 175.0h0M87.6 176.4h0M91.1 176.2h0M91.3 176.2h0M93.4 177.0h0M96.3 176.0h0M97.5 176.1h0M98.2 176.1h0M107.0 176.3h0M111.3 176.9h0M112.1 176.7h0M112.4 177.0h0M112.3 176.1h0M113.5 176.4h0M114.6 176.3h0M115.3 177.0h0M118.0 176.8h0M117.8 176.4h0M118.9 176.1h0M121.5 176.5h0M125.1 176.9h0M131.4 176.4h0M132.2 176.7h0M132.5 177.0h0M133.6 176.9h0M133.4 176.4h0M133.0 176.1h0M135.2 176.4h0M135.6 176.7h0M135.2 176.7h0M135.6 176.4h0M137.3 176.1h0M139.3 176.2h0M143.3 176.2h0M143.1 176.2h0M143.2 176.4h0M144.5 176.0h0M145.1 176.1h0M148.7 176.2h0M149.1 176.7h0M151.1 176.3h0M153.6 176.7h0M154.0 176.0h0M153.9 176.5h0M154.2 176.8h0M155.9 176.6h0M156.3 176.6h0M157.4 176.1h0M160.0 176.7h0M160.4 176.5h0M160.8 176.9h0M162.3 176.7h0M162.1 176.9h0M162.5 176.1h0M162.4 176.5h0M163.6 176.2h0M164.4 176.4h0M165.1 176.7h0M165.7 176.1h0M167.9 176.2h0M169.9 176.5h0M171.4 177.0h0M171.4 177.0h0M171.6 176.6h0M173.0 176.7h0M172.7 176.9h0M172.4 176.1h0M172.0 177.0h0M176.9 176.1h0M177.9 176.2h0M177.7 176.8h0M179.8 176.4h0M181.6 176.8h0M182.5 176.8h0M182.8 176.4h0M182.1 176.2h0M184.1 177.0h0M185.2 176.8h0M185.5 176.3h0M185.8 176.5h0M186.7 176.8h0M186.8 176.7h0M189.1 176.5h0M190.2 176.2h0M192.6 176.0h0M193.7 177.0h0M194.7 176.5h0M194.6 176.6h0M196.5 176.9h0M196.1 176.4h0M197.9 176.7h0M198.4 176.5h0M198.9 176.3h0M201.2 176.3h0M202.5 176.6h0M202.1 176.6h0M202.9 176.1h0M203.7 176.9h0M204.4 176.7h0M205.1 176.3h0M205.9 176.6h0M205.4 176.2h0M206.1 176.1h0M207.3 176.3h0M208.5 176.1h0M208.2 176.1h0M212.3 177.0h0M212.8 176.9h0M214.6 176.3h0M215.4 176.4h0M216.4 176.4h0M217.7 176.1h0M220.7 176.5h0M222.0 176.2h0M222.7 176.0h0M224.0 176.6h0M223.9 176.4h0M226.8 176.7h0M227.0 176.9h0M231.0 176.5h0M230.3 176.0h0M231.1 176.9h0M232.8 176.0h0M232.9 176.6h0M233.6 176.4h0M233.6 176.2h0M233.3 176.1h0M234.8 176.5h0M235.3 176.4h0M239.0 176.3h0M240.0 176.6h0M241.9 176.2h0M243.7 176.7h0M243.6 176.6h0M244.8 176.6h0M245.6 176.5h0M247.0 177.0h0M246.7 176.8h0M247.6 176.3h0M249.4 176.1h0M250.3 176.1h0M255.7 176.4h0M83.3 177.9h0M86.6 177.4h0M100.2 177.8h0M105.9 177.1h0M108.4 177.2h0M110.7 177.0h0M110.5 177.6h0M111.4 177.4h0M114.5 177.9h0M116.8 177.6h0M116.5 177.1h0M117.7 177.1h0M117.1 177.2h0M117.4 177.7h0M119.5 177.5h0M119.5 177.2h0M120.8 177.0h0M121.8 177.9h0M123.4 178.0h0M123.5 177.3h0M131.1 178.0h0M131.8 177.3h0M133.0 177.9h0M134.9 177.5h0M135.5 177.0h0M139.9 177.8h0M139.1 177.3h0M139.9 177.9h0M141.4 177.9h0M143.4 177.6h0M144.4 177.9h0M146.4 177.1h0M147.3 177.3h0M148.6 177.4h0M150.1 177.8h0M150.7 177.4h0M152.0 177.6h0M153.5 177.3h0M153.6 177.3h0M153.2 177.0h0M154.9 177.3h0M154.5 177.9h0M155.5 177.3h0M155.8 177.7h0M158.4 177.6h0M158.4 177.7h0M158.2 177.1h0M158.9 177.6h0M162.5 177.2h0M163.3 177.6h0M163.4 177.8h0M164.3 177.4h0M164.8 178.0h0M165.9 177.3h0M165.1 177.6h0M168.7 177.2h0M170.1 177.0h0M171.4 177.9h0M171.3 177.4h0M172.9 177.5h0M175.5 177.0h0M176.2 177.4h0M176.1 177.4h0M177.9 177.9h0M181.1 177.4h0M182.4 177.1h0M184.7 178.0h0M184.3 177.1h0M186.7 177.7h0M187.0 177.9h0M189.9 177.9h0M192.0 177.1h0M193.5 177.2h0M193.9 177.1h0M196.4 177.4h0M197.3 177.4h0M198.2 177.6h0M198.4 177.4h0M199.9 177.4h0M201.2 177.9h0M202.0 177.2h0M203.8 177.8h0M203.7 177.0h0M205.3 177.3h0M205.1 177.2h0M208.0 177.6h0M207.4 177.9h0M208.4 177.4h0M208.9 177.0h0M211.8 177.5h0M213.2 177.1h0M214.5 177.5h0M217.9 177.6h0M221.3 177.4h0M227.2 177.2h0M228.7 177.4h0M228.1 177.5h0M229.3 177.4h0M234.9 177.8h0M235.4 177.3h0M240.0 178.0h0M241.5 177.8h0M243.0 177.9h0M246.4 177.7h0M246.4 177.2h0M88.1 178.7h0M92.7 178.8h0M100.8 178.9h0M108.7 178.1h0M112.3 178.3h0M114.6 178.7h0M114.9 178.1h0M116.4 178.6h0M117.3 178.0h0M119.4 178.3h0M119.6 178.8h0M119.1 178.2h0M120.9 178.3h0M121.4 178.8h0M122.6 178.3h0M125.4 178.7h0M126.4 178.0h0M126.8 178.6h0M130.2 178.8h0M131.0 178.8h0M132.8 178.2h0M134.8 178.6h0M136.7 178.3h0M138.5 178.9h0M138.9 178.2h0M139.9 178.4h0M140.8 178.3h0M142.0 178.9h0M144.4 178.8h0M145.9 179.0h0M145.5 179.0h0M147.6 178.1h0M149.0 178.9h0M149.8 178.7h0M149.8 178.3h0M149.4 178.7h0M151.8 178.1h0M152.7 178.2h0M153.0 178.9h0M152.8 179.0h0M153.1 178.7h0M154.2 178.1h0M157.7 179.0h0M158.4 178.9h0M158.8 178.9h0M160.5 178.1h0M161.6 178.2h0M161.1 178.2h0M162.9 178.8h0M163.8 178.8h0M163.2 178.1h0M163.7 178.6h0M165.8 178.5h0M167.1 178.8h0M167.1 178.2h0M168.7 179.0h0M168.7 178.6h0M170.6 178.3h0M170.7 178.2h0M170.5 178.3h0M173.2 178.4h0M173.4 178.5h0M176.6 178.3h0M177.2 178.5h0M177.3 178.2h0M178.2 178.9h0M179.7 178.7h0M180.7 178.1h0M180.9 178.2h0M183.9 178.1h0M183.7 178.4h0M185.8 178.8h0M186.4 178.2h0M187.2 178.9h0M188.6 178.4h0M189.7 178.2h0M190.3 178.0h0M193.0 179.0h0M194.5 178.7h0M196.8 178.6h0M196.8 178.2h0M199.1 178.0h0M202.5 178.4h0M204.9 178.6h0M205.8 178.9h0M207.9 178.4h0M210.6 178.0h0M213.2 178.9h0M213.3 178.3h0M216.9 178.1h0M216.2 179.0h0M218.0 178.3h0M218.8 178.8h0M219.7 178.5h0M224.3 178.4h0M225.9 178.7h0M225.5 178.8h0M226.4 178.6h0M226.3 178.1h0M228.5 178.2h0M228.8 178.3h0M229.2 178.3h0M229.3 178.7h0M232.6 178.2h0M233.5 178.8h0M233.1 178.5h0M233.5 178.1h0M233.6 178.9h0M233.3 178.0h0M235.9 178.6h0M236.5 178.8h0M236.6 178.0h0M236.7 178.1h0M238.3 178.6h0M239.8 178.7h0M242.1 178.1h0M243.6 179.0h0M245.1 178.1h0M247.7 178.3h0M248.0 178.4h0M248.1 178.2h0M249.7 178.3h0M250.2 178.8h0M101.1 179.5h0M106.0 179.5h0M106.4 179.3h0M108.7 179.3h0M110.9 179.7h0M111.9 179.6h0M114.8 179.8h0M118.5 179.2h0M121.0 179.6h0M121.9 179.4h0M121.9 179.6h0M122.0 179.6h0M123.2 179.2h0M123.2 179.1h0M124.0 179.6h0M124.1 179.1h0M125.0 179.8h0M126.2 179.2h0M126.5 180.0h0M130.7 179.7h0M131.0 179.2h0M131.2 179.8h0M132.0 179.6h0M132.6 179.0h0M132.1 179.8h0M136.2 179.1h0M139.6 179.4h0M142.9 179.7h0M143.8 179.8h0M147.3 179.6h0M147.3 179.3h0M149.3 179.4h0M150.1 179.1h0M150.5 179.1h0M150.6 179.6h0M151.5 179.2h0M152.5 179.4h0M153.1 179.1h0M155.7 179.5h0M155.9 179.8h0M156.3 179.2h0M156.9 179.8h0M157.7 179.4h0M157.6 179.7h0M158.2 179.3h0M158.0 179.3h0M159.9 179.7h0M160.5 179.2h0M162.2 179.7h0M164.0 179.5h0M164.9 179.5h0M168.8 179.1h0M168.7 179.3h0M168.8 179.1h0M169.8 179.2h0M169.0 179.6h0M171.3 179.5h0M171.1 179.4h0M173.7 179.4h0M173.9 179.2h0M173.9 179.8h0M176.4 179.7h0M176.4 179.4h0M177.4 179.3h0M181.0 179.7h0M181.6 179.8h0M183.4 179.4h0M183.5 179.6h0M183.7 179.7h0M184.9 179.9h0M185.3 179.6h0M185.9 179.5h0M186.4 179.1h0M188.5 179.6h0M188.2 179.1h0M189.7 179.4h0M189.5 179.4h0M190.5 179.1h0M190.9 179.7h0M191.1 179.9h0M192.5 179.8h0M192.8 179.2h0M193.2 179.4h0M195.2 179.3h0M196.1 179.5h0M196.6 179.6h0M197.5 179.7h0M198.8 179.9h0M205.9 179.8h0M206.7 179.2h0M206.5 179.3h0M207.4 179.6h0M209.5 179.4h0M210.2 179.2h0M212.1 179.1h0M213.1 179.1h0M215.0 179.5h0M215.5 179.1h0M216.9 179.2h0M218.9 180.0h0M219.9 179.4h0M220.8 179.5h0M224.9 180.0h0M228.5 179.4h0M229.1 179.8h0M229.2 179.2h0M229.7 179.7h0M232.9 179.8h0M233.6 179.9h0M233.2 179.6h0M233.7 179.8h0M233.2 179.8h0M235.8 179.7h0M237.4 179.2h0M240.8 179.4h0M240.7 179.7h0M243.3 179.0h0M252.3 179.3h0M86.6 180.8h0M86.1 180.6h0M95.9 180.1h0M97.3 181.0h0M100.0 180.2h0M102.8 180.3h0M103.4 180.2h0M104.0 180.6h0M104.6 180.5h0M105.6 180.5h0M106.1 180.4h0M109.4 180.9h0M112.0 180.1h0M111.3 180.6h0M112.6 180.2h0M117.3 180.3h0M118.8 180.3h0M118.8 180.7h0M126.6 180.2h0M126.2 180.7h0M127.3 180.6h0M128.3 181.0h0M128.3 180.0h0M129.7 180.2h0M130.4 180.0h0M130.4 180.7h0M131.5 180.8h0M134.0 180.2h0M134.3 180.2h0M134.7 180.5h0M135.9 180.5h0M137.3 180.9h0M138.1 180.2h0M139.7 180.2h0M139.2 180.3h0M141.7 180.2h0M142.1 180.0h0M142.8 180.6h0M142.9 180.2h0M142.7 180.5h0M143.0 180.8h0M143.9 180.6h0M144.8 180.1h0M145.8 180.9h0M146.5 180.4h0M146.1 180.5h0M147.6 180.3h0M149.9 180.3h0M149.3 180.2h0M149.8 180.7h0M150.3 180.6h0M150.4 180.3h0M152.2 180.3h0M154.0 180.4h0M154.7 181.0h0M158.6 180.2h0M159.8 180.1h0M159.3 180.3h0M160.8 180.8h0M161.1 180.6h0M161.6 180.7h0M162.7 180.4h0M162.8 180.6h0M163.5 180.4h0M164.7 180.5h0M164.4 180.5h0M165.1 180.9h0M166.8 180.3h0M169.4 180.7h0M171.4 180.9h0M174.9 180.7h0M176.1 180.6h0M177.5 180.7h0M179.5 180.4h0M181.4 180.6h0M186.7 180.8h0M187.8 180.4h0M188.5 180.3h0M188.5 180.2h0M188.4 181.0h0M189.7 180.8h0M190.0 180.4h0M193.0 180.6h0M192.5 180.9h0M193.5 180.1h0M198.9 180.1h0M199.3 180.7h0M199.3 180.9h0M200.7 180.1h0M203.0 180.3h0M202.5 180.9h0M206.8 180.7h0M206.3 180.3h0M206.4 180.2h0M208.2 180.2h0M211.2 180.2h0M213.1 180.9h0M217.0 180.9h0M217.2 180.3h0M217.5 180.0h0M217.9 180.5h0M218.8 181.0h0M221.9 180.9h0M221.3 180.2h0M222.9 180.5h0M222.4 180.2h0M223.4 180.3h0M225.2 180.1h0M225.2 180.9h0M226.9 180.5h0M226.7 180.1h0M228.7 180.0h0M229.3 180.3h0M231.4 180.1h0M232.8 180.3h0M233.7 180.9h0M233.5 180.5h0M234.7 180.4h0M236.4 180.9h0M238.4 180.6h0M238.7 180.1h0M238.0 180.2h0M245.7 181.0h0M94.4 181.7h0M97.2 181.2h0M101.9 181.5h0M106.2 182.0h0M107.2 181.4h0M108.6 182.0h0M111.8 181.9h0M116.0 181.3h0M116.7 181.1h0M117.2 181.2h0M117.9 181.5h0M118.3 181.2h0M118.1 181.6h0M119.3 181.5h0M120.4 181.8h0M121.8 181.7h0M122.3 181.9h0M126.7 181.9h0M128.4 181.3h0M129.9 181.7h0M130.2 181.4h0M131.8 181.9h0M134.2 181.9h0M135.1 181.2h0M136.6 181.3h0M136.6 181.5h0M137.2 181.9h0M138.6 181.0h0M139.3 181.9h0M140.2 181.1h0M141.2 181.2h0M142.8 181.5h0M143.8 181.0h0M145.3 181.1h0M145.2 181.2h0M146.9 181.1h0M146.3 181.1h0M147.4 181.9h0M147.8 181.3h0M150.4 181.4h0M151.8 181.6h0M157.2 181.4h0M159.6 181.3h0M161.0 182.0h0M160.5 181.2h0M161.6 181.1h0M161.8 181.0h0M161.2 181.7h0M161.9 181.8h0M162.4 181.2h0M162.7 181.2h0M165.0 181.4h0M165.3 182.0h0M167.5 181.1h0M167.4 181.7h0M169.0 181.9h0M169.8 181.8h0M170.3 181.7h0M172.6 181.4h0M172.3 181.3h0M173.5 181.5h0M174.5 181.2h0M174.1 181.4h0M174.5 181.2h0M175.7 181.7h0M180.9 181.7h0M183.1 181.7h0M183.5 181.3h0M184.7 181.7h0M185.1 181.8h0M185.4 181.8h0M187.8 181.6h0M187.4 181.2h0M188.0 181.2h0M189.3 181.6h0M189.3 181.3h0M193.1 181.3h0M196.0 181.9h0M196.5 181.5h0M197.3 181.6h0M199.6 181.3h0M199.7 181.6h0M199.5 181.2h0M199.6 181.7h0M205.5 181.6h0M207.7 181.1h0M208.9 181.0h0M211.9 181.8h0M211.7 182.0h0M214.3 181.1h0M214.9 181.9h0M214.1 181.4h0M215.1 181.9h0M216.8 181.2h0M217.2 181.0h0M217.7 181.8h0M218.4 181.2h0M219.6 181.6h0M219.2 181.2h0M220.6 181.6h0M221.5 181.9h0M225.2 181.1h0M226.2 181.2h0M226.6 181.6h0M227.0 181.5h0M227.3 181.7h0M227.2 181.5h0M229.1 181.5h0M230.8 182.0h0M230.3 181.3h0M232.0 181.5h0M232.2 181.8h0M232.2 181.0h0M233.7 181.5h0M234.4 181.2h0M236.0 181.4h0M238.8 181.8h0M238.5 181.8h0M239.4 181.0h0M241.3 181.9h0M251.6 181.7h0M84.9 182.2h0M98.0 182.6h0M103.6 182.9h0M105.6 182.2h0M107.8 182.4h0M108.1 182.3h0M110.2 182.8h0M111.7 182.4h0M111.4 182.2h0M113.4 182.1h0M118.9 182.2h0M119.5 182.9h0M119.3 182.8h0M119.6 182.1h0M120.5 182.5h0M121.6 182.9h0M121.2 182.7h0M122.0 182.9h0M122.6 182.4h0M123.7 182.5h0M126.7 182.2h0M126.9 182.4h0M127.1 182.4h0M129.2 182.9h0M132.2 182.6h0M132.2 182.2h0M137.4 182.8h0M138.6 182.6h0M141.0 182.1h0M141.7 182.1h0M141.3 182.6h0M142.8 182.7h0M143.0 182.5h0M143.7 182.4h0M145.3 182.6h0M146.6 183.0h0M146.3 182.0h0M149.9 182.4h0M150.1 182.4h0M151.3 182.8h0M151.8 182.1h0M153.2 182.7h0M153.1 182.8h0M157.4 182.7h0M158.1 182.5h0M160.8 182.8h0M160.9 182.4h0M161.3 183.0h0M162.6 182.9h0M162.4 182.3h0M163.1 182.5h0M163.2 182.9h0M164.0 182.7h0M165.8 182.6h0M166.2 182.2h0M168.6 182.8h0M169.7 182.4h0M170.7 182.8h0M171.4 182.9h0M176.2 182.9h0M177.1 182.9h0M177.0 182.0h0M181.0 182.2h0M181.6 182.3h0M181.5 182.1h0M182.5 182.5h0M185.3 182.7h0M186.6 182.1h0M186.3 182.9h0M187.0 182.6h0M189.8 182.9h0M189.1 182.5h0M189.4 182.3h0M189.5 182.2h0M190.1 182.2h0M191.9 182.8h0M192.5 182.8h0M196.0 182.8h0M198.6 182.4h0M199.8 182.5h0M201.9 183.0h0M202.0 182.9h0M202.1 182.3h0M204.0 182.2h0M206.4 182.3h0M206.5 182.0h0M209.0 182.6h0M209.8 182.4h0M211.6 182.4h0M212.1 182.3h0M214.4 182.0h0M216.8 182.7h0M216.6 182.4h0M218.4 182.6h0M218.9 182.1h0M220.9 182.9h0M221.9 182.3h0M222.4 182.9h0M223.2 182.7h0M224.7 182.4h0M225.6 182.3h0M226.8 182.1h0M226.7 182.9h0M227.5 182.1h0M230.5 182.5h0M230.6 182.7h0M231.9 182.2h0M232.4 182.8h0M236.0 182.7h0M236.9 182.6h0M236.0 182.1h0M239.1 182.6h0M246.7 182.0h0M249.8 182.7h0M85.6 183.7h0M93.0 183.0h0M94.1 184.0h0M96.8 183.6h0M99.8 183.1h0M99.1 183.0h0M100.8 183.5h0M105.6 183.3h0M105.8 183.3h0M105.3 183.5h0M106.3 183.1h0M111.5 183.7h0M115.8 183.9h0M116.0 184.0h0M117.7 183.3h0M119.4 183.5h0M120.7 183.5h0M120.1 183.7h0M120.3 183.1h0M121.9 183.2h0M122.2 183.5h0M122.7 183.4h0M125.5 183.5h0M125.7 183.3h0M127.8 183.4h0M129.3 184.0h0M129.4 183.7h0M130.6 183.1h0M131.5 183.3h0M135.4 183.7h0M136.3 183.2h0M138.8 183.2h0M138.9 183.3h0M141.4 184.0h0M143.1 183.1h0M144.4 183.9h0M146.9 183.6h0M146.5 183.3h0M146.7 183.5h0M151.1 183.2h0M153.6 183.9h0M155.6 183.6h0M163.3 183.2h0M163.8 183.6h0M165.8 183.3h0M165.7 183.4h0M165.2 183.5h0M167.7 183.1h0M167.9 183.1h0M168.2 183.4h0M170.3 183.1h0M170.7 183.6h0M171.7 183.7h0M172.7 183.1h0M173.4 183.8h0M175.6 183.2h0M177.0 183.3h0M179.5 183.8h0M179.4 183.9h0M180.6 184.0h0M181.2 183.6h0M181.6 183.6h0M182.7 183.7h0M186.1 183.4h0M187.5 183.7h0M187.5 183.5h0M188.0 183.3h0M189.5 183.6h0M191.4 183.6h0M191.7 183.6h0M192.4 183.7h0M192.7 183.2h0M192.5 183.3h0M196.0 183.5h0M195.8 183.1h0M197.0 183.4h0M198.7 183.9h0M198.4 184.0h0M198.8 183.5h0M201.0 183.8h0M201.8 183.3h0M201.6 183.6h0M201.5 183.2h0M202.9 183.4h0M203.3 183.4h0M205.8 183.4h0M206.4 183.1h0M207.1 184.0h0M208.3 183.2h0M208.2 183.1h0M209.0 183.9h0M211.7 183.0h0M212.0 183.2h0M213.4 184.0h0M214.3 183.9h0M215.5 183.2h0M216.8 183.6h0M218.6 183.9h0M219.1 184.0h0M219.6 183.5h0M220.5 183.0h0M221.0 183.3h0M221.4 183.7h0M225.4 183.6h0M227.5 183.3h0M227.4 183.3h0M230.7 183.5h0M231.6 183.1h0M232.9 183.6h0M237.6 183.6h0M240.1 184.0h0M242.8 183.6h0M91.0 184.6h0M92.8 184.9h0M98.6 184.7h0M102.7 184.9h0M102.3 184.7h0M104.5 184.0h0M106.8 184.0h0M106.5 184.7h0M117.5 184.1h0M118.7 185.0h0M118.8 184.1h0M118.6 184.2h0M118.2 184.4h0M124.6 184.5h0M124.6 184.0h0M129.0 184.6h0M130.5 184.9h0M131.1 184.6h0M134.7 184.3h0M134.2 184.5h0M136.0 184.8h0M137.0 184.3h0M138.9 184.2h0M138.3 184.8h0M138.6 184.8h0M139.8 184.1h0M139.1 184.7h0M141.3 184.4h0M142.5 184.9h0M144.3 184.3h0M146.5 184.7h0M146.7 184.5h0M146.4 184.9h0M149.9 184.6h0M153.2 184.9h0M154.6 184.0h0M156.0 184.9h0M155.9 184.4h0M156.3 184.1h0M161.0 184.4h0M160.4 184.8h0M161.6 184.6h0M161.4 184.0h0M162.1 184.6h0M165.9 184.2h0M167.4 184.7h0M170.8 184.8h0M170.4 184.1h0M170.0 184.1h0M170.4 184.7h0M170.6 184.4h0M172.2 184.2h0M173.0 184.3h0M172.6 184.7h0M174.8 184.9h0M174.2 184.1h0M178.6 184.9h0M178.4 184.1h0M180.3 184.1h0M180.9 184.9h0M181.9 184.6h0M182.4 184.7h0M184.2 185.0h0M187.7 184.3h0M187.1 184.1h0M189.8 184.0h0M190.1 184.7h0M190.6 184.1h0M191.6 184.6h0M191.3 184.6h0M191.8 184.5h0M193.6 184.3h0M195.0 184.3h0M194.9 184.3h0M194.9 184.4h0M195.2 184.1h0M195.3 184.5h0M196.3 184.4h0M201.7 185.0h0M202.0 184.7h0M202.0 184.6h0M201.1 185.0h0M204.0 184.7h0M205.4 184.4h0M206.6 184.3h0M208.8 184.8h0M210.2 184.7h0M211.0 184.2h0M211.5 185.0h0M212.8 184.1h0M215.2 184.7h0M215.3 184.3h0M217.1 184.6h0M217.2 184.6h0M217.5 184.7h0M220.5 184.2h0M222.6 184.9h0M222.4 184.2h0M223.2 184.5h0M224.4 184.7h0M225.1 184.3h0M226.7 184.3h0M226.4 184.9h0M228.0 185.0h0M229.5 184.0h0M231.4 184.1h0M233.8 184.6h0M234.7 184.5h0M234.4 184.0h0M234.9 184.2h0M235.6 184.6h0M240.2 184.0h0M246.8 184.8h0M251.8 184.3h0M93.6 185.1h0M95.7 185.9h0M97.3 185.7h0M98.0 185.6h0M100.6 185.8h0M101.4 185.6h0M101.4 185.7h0M114.6 185.4h0M114.5 185.2h0M114.4 185.7h0M115.4 185.1h0M120.9 185.4h0M121.3 186.0h0M123.6 185.8h0M124.6 186.0h0M127.3 185.9h0M128.4 185.3h0M129.5 185.9h0M131.9 186.0h0M132.9 185.4h0M132.4 185.3h0M133.7 185.3h0M134.5 185.4h0M138.8 185.1h0M139.2 185.6h0M139.8 185.1h0M140.4 185.6h0M140.3 185.7h0M141.9 185.2h0M142.8 185.2h0M144.4 185.6h0M147.4 185.2h0M148.2 185.1h0M149.4 185.0h0M151.5 185.1h0M151.5 185.1h0M151.1 185.1h0M152.9 185.1h0M152.1 185.6h0M153.7 185.2h0M154.9 185.9h0M155.0 185.1h0M156.6 185.4h0M163.9 185.6h0M165.2 185.5h0M165.1 185.7h0M166.6 185.9h0M168.4 185.5h0M170.7 185.6h0M170.2 185.0h0M172.6 185.4h0M173.7 185.5h0M176.5 185.4h0M180.8 185.5h0M181.9 185.8h0M183.1 185.9h0M183.3 185.2h0M183.7 185.2h0M185.1 185.1h0M187.8 185.1h0M189.4 186.0h0M189.8 185.0h0M190.4 185.8h0M190.3 185.4h0M191.6 185.9h0M193.2 185.2h0M194.5 185.5h0M194.8 185.7h0M195.0 185.3h0M195.6 185.2h0M195.4 185.0h0M200.8 185.5h0M204.4 185.6h0M205.6 185.6h0M206.4 185.9h0M212.4 185.6h0M216.5 185.2h0M217.9 186.0h0M219.0 185.8h0M219.0 185.3h0M221.8 185.0h0M224.9 185.3h0M227.0 185.1h0M227.0 185.4h0M230.0 185.5h0M231.4 185.5h0M231.3 185.9h0M234.7 185.3h0M239.7 185.3h0M239.2 185.3h0M242.2 185.4h0M248.8 185.2h0M248.1 185.5h0M79.9 186.2h0M96.4 186.3h0M96.5 186.5h0M98.5 186.8h0M102.3 186.6h0M105.8 186.7h0M111.3 186.6h0M112.0 186.3h0M113.5 186.9h0M114.3 186.8h0M116.5 186.4h0M117.4 186.8h0M118.0 186.6h0M120.4 186.8h0M122.2 186.5h0M127.2 186.3h0M127.3 186.7h0M129.2 187.0h0M131.3 186.8h0M131.0 186.9h0M132.9 186.2h0M133.6 186.6h0M135.6 186.7h0M137.6 186.5h0M137.3 186.4h0M139.7 186.3h0M143.6 186.4h0M143.5 186.8h0M144.6 186.1h0M144.9 186.0h0M147.5 186.8h0M148.2 186.2h0M149.9 186.9h0M150.9 186.1h0M150.5 186.1h0M152.3 186.4h0M152.6 186.4h0M153.6 186.8h0M154.6 187.0h0M155.4 186.9h0M156.5 186.6h0M160.0 186.8h0M160.5 186.4h0M162.4 186.5h0M162.5 186.2h0M163.8 186.4h0M165.1 186.4h0M167.2 186.9h0M167.7 186.5h0M167.1 186.5h0M168.2 186.6h0M169.1 186.1h0M170.5 186.5h0M170.8 186.4h0M177.9 186.4h0M180.5 186.4h0M180.0 186.9h0M180.8 186.6h0M180.5 186.3h0M186.5 186.8h0M186.1 186.8h0M191.5 186.7h0M191.4 186.6h0M191.1 186.5h0M194.4 186.3h0M196.8 186.2h0M199.6 186.2h0M200.8 186.0h0M200.1 187.0h0M202.0 186.8h0M202.6 186.3h0M202.4 186.9h0M203.2 186.1h0M203.1 186.7h0M203.4 186.8h0M208.4 186.5h0M208.4 186.6h0M209.8 186.1h0M210.5 186.5h0M210.1 186.3h0M211.7 186.5h0M212.4 186.5h0M215.0 186.6h0M215.2 186.3h0M215.7 186.7h0M216.3 186.5h0M217.8 186.1h0M219.9 186.9h0M219.9 186.5h0M219.9 186.8h0M224.6 186.8h0M224.0 186.8h0M226.6 186.7h0M227.5 186.2h0M229.5 186.2h0M230.3 186.6h0M230.5 186.1h0M232.3 186.1h0M238.0 186.3h0M238.6 186.7h0M242.7 186.4h0M251.8 186.7h0M94.9 187.0h0M95.9 187.4h0M95.3 187.6h0M96.2 187.8h0M96.4 187.0h0M98.2 187.3h0M100.6 187.5h0M103.5 188.0h0M107.3 187.0h0M108.1 187.1h0M108.4 187.4h0M110.1 187.0h0M110.7 187.8h0M112.1 187.5h0M115.9 187.2h0M120.8 188.0h0M122.8 187.0h0M123.9 187.3h0M123.6 187.4h0M124.1 187.5h0M127.0 187.1h0M127.7 187.4h0M127.8 187.4h0M127.4 187.5h0M128.2 187.6h0M128.2 187.5h0M128.4 187.2h0M129.7 187.7h0M131.4 187.9h0M132.2 187.1h0M135.0 187.4h0M134.9 187.7h0M135.1 187.9h0M135.9 187.7h0M136.2 187.8h0M136.1 187.7h0M136.3 187.8h0M136.2 187.9h0M137.7 187.1h0M139.8 187.5h0M140.8 188.0h0M140.2 187.2h0M143.8 187.6h0M143.1 187.4h0M145.6 188.0h0M146.5 188.0h0M149.6 187.9h0M151.9 187.7h0M153.7 187.7h0M155.0 187.3h0M154.1 187.4h0M156.5 187.1h0M157.9 187.2h0M158.8 187.1h0M158.2 187.5h0M158.8 187.2h0M159.1 187.8h0M161.6 187.1h0M162.2 187.2h0M162.8 187.1h0M164.4 187.7h0M166.5 187.9h0M169.5 187.5h0M169.2 187.6h0M171.6 187.5h0M173.0 187.5h0M173.0 187.2h0M173.7 187.2h0M173.2 187.6h0M174.3 187.9h0M176.2 187.1h0M176.9 187.9h0M177.8 187.1h0M178.3 187.5h0M178.1 187.7h0M179.9 187.4h0M181.0 187.7h0M180.1 187.5h0M188.7 187.4h0M190.2 188.0h0M191.9 187.8h0M193.5 187.6h0M193.1 187.4h0M193.3 187.3h0M196.1 187.6h0M196.5 188.0h0M197.7 187.6h0M199.0 187.9h0M200.1 187.1h0M204.2 187.4h0M205.9 187.7h0M206.1 187.1h0M207.7 187.7h0M207.7 187.9h0M208.8 187.5h0M208.7 187.5h0M209.2 187.9h0M211.9 187.9h0M214.6 187.7h0M216.2 187.2h0M216.7 187.6h0M218.6 187.6h0M219.0 187.1h0M220.5 187.1h0M220.8 187.5h0M224.3 187.2h0M224.9 187.7h0M227.1 187.2h0M227.8 187.4h0M227.4 188.0h0M230.8 187.3h0M230.8 187.1h0M233.5 187.8h0M236.2 187.2h0M243.5 187.8h0M243.7 187.3h0M243.7 187.9h0M245.2 187.1h0M99.7 188.7h0M108.0 189.0h0M107.6 188.1h0M109.5 188.9h0M109.1 188.1h0M112.1 188.6h0M114.6 188.7h0M117.3 188.1h0M118.4 188.5h0M120.1 188.7h0M122.6 188.4h0M122.0 188.9h0M122.3 188.6h0M122.5 188.2h0M124.8 188.3h0M124.8 188.8h0M125.7 188.7h0M126.7 188.7h0M126.7 188.2h0M129.0 188.9h0M128.8 188.8h0M128.8 188.3h0M130.8 188.6h0M130.3 188.8h0M131.1 188.1h0M131.7 188.5h0M132.6 188.9h0M133.9 188.7h0M133.1 188.7h0M134.3 188.4h0M134.9 188.6h0M135.1 188.8h0M135.7 188.7h0M136.2 188.8h0M137.8 188.7h0M138.9 188.8h0M138.9 188.9h0M140.4 188.2h0M140.7 188.5h0M141.6 188.6h0M141.9 188.6h0M145.0 188.2h0M146.0 188.6h0M147.8 188.2h0M147.9 188.5h0M150.4 188.6h0M153.1 188.3h0M154.1 188.5h0M157.1 188.1h0M160.0 188.5h0M159.5 188.4h0M163.4 188.6h0M164.9 188.7h0M165.1 188.1h0M166.3 188.5h0M169.3 188.1h0M174.5 188.7h0M174.8 189.0h0M175.5 188.4h0M178.6 188.9h0M179.8 188.0h0M184.8 188.3h0M184.8 188.4h0M184.9 188.8h0M188.5 189.0h0M188.9 188.9h0M192.6 189.0h0M192.5 188.2h0M192.9 188.0h0M193.8 188.1h0M195.1 189.0h0M195.1 188.7h0M196.4 188.2h0M197.0 188.6h0M198.1 188.9h0M198.3 188.8h0M202.3 188.3h0M202.3 188.2h0M205.7 188.1h0M207.9 188.9h0M207.1 188.1h0M207.7 188.9h0M209.3 188.1h0M210.8 188.9h0M211.0 188.8h0M211.7 188.7h0M215.9 188.5h0M215.6 188.4h0M216.1 188.7h0M216.5 188.2h0M217.4 188.8h0M218.1 188.5h0M218.5 188.6h0M218.3 188.7h0M219.4 188.8h0M220.6 188.3h0M221.6 188.7h0M224.7 188.7h0M225.3 188.4h0M225.7 188.0h0M225.6 188.7h0M227.3 188.0h0M227.7 188.3h0M228.1 188.3h0M228.6 188.3h0M228.5 188.2h0M229.4 188.8h0M235.9 188.9h0M235.2 188.3h0M236.9 188.5h0M240.1 188.2h0M241.8 188.8h0M241.6 188.1h0M245.3 188.8h0M102.0 189.5h0M110.4 189.0h0M111.3 189.9h0M112.8 189.2h0M114.7 189.0h0M114.8 189.6h0M115.6 189.6h0M120.3 189.7h0M122.7 189.1h0M122.9 189.2h0M123.6 189.5h0M124.2 189.9h0M129.1 189.9h0M130.1 189.6h0M133.1 189.1h0M134.2 189.7h0M137.3 189.5h0M137.8 189.2h0M138.1 189.1h0M138.3 189.8h0M139.2 189.9h0M140.1 189.0h0M140.3 189.3h0M141.9 189.9h0M142.1 189.6h0M142.3 189.9h0M145.0 189.4h0M145.2 189.6h0M146.4 189.6h0M152.9 189.9h0M152.4 189.6h0M152.8 189.8h0M153.6 189.2h0M155.5 189.5h0M159.8 189.5h0M162.8 189.2h0M162.4 189.3h0M165.0 189.1h0M164.3 189.1h0M164.2 189.7h0M165.7 189.3h0M165.6 189.0h0M171.0 189.7h0M171.6 189.4h0M173.2 189.4h0M175.5 189.5h0M175.3 189.7h0M175.0 189.7h0M176.5 189.8h0M176.6 189.4h0M178.0 189.4h0M181.1 189.1h0M182.1 189.1h0M182.3 189.5h0M182.8 189.3h0M184.3 189.4h0M184.0 189.9h0M185.0 189.9h0M186.8 189.1h0M186.3 189.2h0M188.6 189.6h0M188.5 189.3h0M188.3 189.3h0M190.7 189.6h0M190.6 189.8h0M190.5 189.0h0M192.1 189.8h0M193.3 189.9h0M194.0 189.5h0M194.8 189.3h0M194.2 189.6h0M195.0 189.5h0M195.1 189.4h0M197.8 189.4h0M197.1 189.5h0M198.2 189.2h0M200.5 189.3h0M201.4 189.8h0M202.8 189.6h0M202.3 189.3h0M202.7 189.5h0M203.9 189.8h0M205.5 189.2h0M212.6 189.1h0M215.1 189.1h0M216.3 189.6h0M217.5 189.8h0M219.9 189.6h0M220.3 189.1h0M221.7 189.5h0M221.6 189.9h0M221.8 189.2h0M222.2 189.1h0M222.6 190.0h0M223.6 189.4h0M225.3 189.3h0M226.4 189.7h0M227.0 189.1h0M227.6 189.6h0M227.1 189.1h0M229.7 189.8h0M231.7 189.1h0M234.1 189.9h0M87.3 190.4h0M102.3 190.6h0M108.9 190.6h0M110.4 190.3h0M115.0 190.3h0M116.0 190.7h0M118.0 190.6h0M119.6 190.7h0M122.1 190.4h0M126.2 190.1h0M126.1 190.9h0M127.4 190.5h0M127.4 190.1h0M132.0 190.4h0M135.9 190.7h0M137.9 190.2h0M137.4 190.2h0M138.9 191.0h0M140.2 190.3h0M141.7 190.7h0M145.5 190.7h0M147.4 190.8h0M148.5 190.3h0M151.9 190.4h0M152.3 190.3h0M153.7 190.5h0M153.3 190.3h0M154.5 190.5h0M154.4 190.8h0M155.2 190.9h0M156.2 190.5h0M157.5 190.1h0M158.3 190.8h0M158.4 190.9h0M160.0 190.5h0M163.0 190.3h0M162.6 190.5h0M164.5 190.4h0M165.3 190.9h0M165.9 190.6h0M165.5 190.8h0M166.6 190.4h0M167.3 190.1h0M169.9 190.1h0M170.4 190.8h0M170.4 190.4h0M172.6 190.0h0M174.7 190.1h0M178.0 190.4h0M178.0 190.3h0M179.4 191.0h0M179.6 190.3h0M182.5 190.5h0M184.7 190.1h0M185.1 190.1h0M189.8 190.9h0M197.8 190.4h0M197.6 190.4h0M198.5 190.5h0M203.5 190.6h0M204.0 190.4h0M204.1 190.9h0M205.7 190.4h0M205.9 190.4h0M206.2 190.7h0M207.8 190.3h0M209.3 190.9h0M210.3 190.2h0M211.5 190.4h0M211.4 190.5h0M212.8 190.9h0M213.0 190.5h0M213.7 190.9h0M214.7 190.8h0M215.4 190.0h0M215.6 190.7h0M216.3 190.7h0M219.4 190.2h0M219.4 190.2h0M220.0 190.4h0M220.2 190.2h0M221.4 190.3h0M223.2 191.0h0M224.3 190.6h0M226.4 190.7h0M229.7 190.6h0M230.7 190.4h0M231.6 190.6h0M231.9 190.5h0M231.0 190.9h0M235.6 190.4h0M235.9 190.5h0M247.6 190.2h0M99.4 191.7h0M105.2 191.9h0M105.2 191.6h0M107.1 191.5h0M111.9 192.0h0M116.8 191.2h0M117.4 191.2h0M119.8 191.1h0M120.5 191.2h0M120.6 192.0h0M121.3 191.2h0M122.8 191.9h0M123.5 191.7h0M125.7 191.2h0M125.7 191.8h0M128.3 191.1h0M131.6 191.8h0M132.6 191.2h0M133.0 191.1h0M137.6 191.2h0M138.2 191.0h0M141.0 191.7h0M142.7 192.0h0M144.0 191.5h0M144.3 191.8h0M145.8 191.6h0M145.6 191.1h0M146.2 191.1h0M147.4 191.5h0M148.7 191.9h0M148.5 191.9h0M150.8 191.9h0M152.0 191.3h0M153.2 191.7h0M154.1 191.4h0M154.1 191.3h0M154.4 191.8h0M154.2 191.4h0M159.0 191.7h0M158.7 191.8h0M158.1 191.6h0M159.5 191.5h0M159.2 191.2h0M161.7 191.5h0M163.8 191.8h0M163.7 191.1h0M164.3 191.2h0M167.1 191.2h0M167.7 191.8h0M171.0 191.1h0M172.4 191.1h0M172.5 191.4h0M173.2 191.0h0M173.5 191.2h0M175.6 191.9h0M175.1 191.5h0M179.7 191.5h0M180.6 191.6h0M182.1 191.1h0M186.7 191.9h0M187.4 191.0h0M187.7 191.7h0M190.2 191.6h0M191.1 191.2h0M191.7 191.1h0M192.1 191.3h0M194.3 191.8h0M194.0 191.7h0M194.3 191.4h0M194.9 191.5h0M195.7 191.7h0M197.7 191.4h0M197.0 191.0h0M197.8 191.9h0M199.6 191.5h0M201.9 191.1h0M202.2 191.2h0M203.5 191.8h0M206.9 191.2h0M207.8 191.2h0M210.3 191.8h0M210.7 191.6h0M211.9 191.0h0M212.5 191.1h0M213.7 191.1h0M216.3 191.6h0M218.1 191.4h0M219.0 191.6h0M220.3 191.3h0M221.6 191.3h0M223.7 191.8h0M224.0 191.0h0M224.5 191.9h0M224.3 191.6h0M224.6 191.6h0M225.3 191.3h0M226.5 191.9h0M230.8 191.8h0M232.9 191.4h0M234.3 191.9h0M234.5 191.1h0M235.4 191.5h0M237.7 191.8h0M241.7 191.3h0M241.1 191.7h0M83.6 192.7h0M88.6 192.1h0M93.9 192.3h0M97.2 192.8h0M104.6 192.7h0M105.2 192.5h0M116.0 192.9h0M115.2 192.4h0M118.3 192.8h0M118.2 192.1h0M119.8 192.1h0M120.8 192.6h0M123.3 192.1h0M125.1 192.8h0M127.5 192.3h0M127.9 192.3h0M130.4 192.4h0M131.3 192.2h0M133.2 192.7h0M134.1 193.0h0M135.8 192.0h0M138.3 192.2h0M138.6 192.5h0M140.5 192.7h0M140.4 192.0h0M141.0 192.7h0M141.8 192.9h0M142.1 192.8h0M145.3 192.5h0M147.2 192.8h0M149.2 192.7h0M150.1 192.8h0M150.7 192.8h0M151.1 192.3h0M151.3 192.5h0M154.1 192.1h0M155.9 192.6h0M156.2 192.6h0M156.1 192.7h0M157.9 192.2h0M159.6 192.3h0M161.2 192.7h0M162.5 192.7h0M162.9 192.6h0M162.4 192.0h0M164.7 192.4h0M164.1 192.8h0M168.5 192.6h0M168.5 193.0h0M169.0 192.4h0M168.2 192.6h0M168.4 193.0h0M170.2 193.0h0M170.9 192.3h0M171.7 192.2h0M173.6 192.2h0M175.8 192.8h0M176.2 192.8h0M176.2 192.2h0M178.2 192.9h0M180.0 192.9h0M179.8 192.1h0M180.5 192.3h0M181.2 192.9h0M182.4 192.0h0M182.0 192.9h0M183.3 192.5h0M185.0 192.5h0M185.9 193.0h0M186.3 192.9h0M187.1 192.2h0M188.5 192.8h0M189.6 192.6h0M189.8 192.7h0M192.9 192.4h0M192.6 193.0h0M192.1 192.0h0M194.3 192.8h0M194.0 192.0h0M195.7 192.9h0M197.4 193.0h0M198.1 192.3h0M201.3 192.8h0M202.5 192.9h0M203.1 192.4h0M203.1 192.4h0M203.8 192.4h0M203.9 192.8h0M206.1 192.6h0M206.9 192.6h0M207.7 192.4h0M207.9 192.2h0M211.5 192.1h0M211.2 192.4h0M213.9 192.5h0M214.3 192.3h0M214.3 192.9h0M215.5 192.6h0M217.4 192.9h0M217.4 192.4h0M218.9 192.0h0M219.3 193.0h0M220.6 192.3h0M220.9 192.4h0M221.6 192.1h0M222.0 192.1h0M223.8 192.0h0M225.8 192.6h0M228.6 192.6h0M238.3 192.3h0M239.1 192.1h0M241.4 192.9h0M96.1 193.3h0M98.3 193.8h0M99.9 193.9h0M104.0 193.8h0M103.9 193.7h0M106.3 193.8h0M109.2 193.3h0M111.7 193.3h0M112.8 193.6h0M117.5 193.5h0M117.1 193.5h0M118.4 193.5h0M119.4 193.2h0M119.8 193.8h0M120.9 193.5h0M125.4 193.9h0M125.8 193.0h0M128.3 193.1h0M128.8 193.7h0M129.7 193.7h0M130.2 193.1h0M131.8 193.7h0M133.4 193.9h0M134.9 193.4h0M134.7 193.7h0M135.7 193.2h0M138.1 193.1h0M138.6 193.6h0M139.4 193.6h0M140.7 193.0h0M140.4 193.8h0M141.3 193.8h0M141.8 193.5h0M142.6 193.3h0M143.1 193.3h0M143.4 193.5h0M144.2 193.0h0M144.7 193.0h0M146.9 194.0h0M147.3 194.0h0M148.1 193.3h0M150.1 194.0h0M150.9 193.7h0M151.8 193.0h0M151.0 193.5h0M152.6 193.3h0M152.4 193.4h0M156.1 193.6h0M158.7 193.4h0M161.0 193.5h0M163.6 193.9h0M164.2 193.6h0M164.2 193.7h0M165.5 193.1h0M169.0 193.9h0M169.7 193.4h0M169.7 193.3h0M170.7 193.6h0M170.1 193.3h0M170.6 193.8h0M173.6 193.4h0M174.8 193.9h0M174.5 194.0h0M175.0 193.0h0M175.7 193.6h0M175.6 193.2h0M177.8 193.9h0M177.4 193.9h0M178.2 193.3h0M178.3 193.4h0M180.6 193.7h0M180.6 193.3h0M182.6 193.4h0M182.2 193.5h0M183.0 193.3h0M184.8 193.6h0M185.2 193.5h0M186.9 193.5h0M186.5 193.6h0M186.8 193.7h0M186.6 193.5h0M188.0 193.9h0M190.9 193.5h0M192.7 193.5h0M194.5 193.7h0M194.1 193.6h0M197.7 193.7h0M198.7 193.7h0M198.1 193.5h0M200.4 193.4h0M200.8 193.0h0M200.2 193.5h0M200.9 193.6h0M203.8 193.9h0M203.2 193.2h0M205.3 193.7h0M205.7 193.6h0M207.6 193.2h0M207.4 193.1h0M209.9 193.0h0M211.2 193.7h0M212.0 193.1h0M211.9 194.0h0M214.9 193.8h0M217.8 193.1h0M217.3 193.8h0M218.2 193.2h0M219.5 193.2h0M221.7 193.9h0M226.4 193.2h0M230.0 193.6h0M231.0 194.0h0M232.2 193.7h0M235.5 194.0h0M236.1 193.6h0M238.4 193.2h0M238.3 193.6h0M89.3 194.4h0M94.3 194.0h0M96.9 194.8h0M101.2 194.1h0M105.3 194.1h0M107.6 194.1h0M114.7 194.3h0M114.3 194.2h0M116.1 194.2h0M118.9 194.7h0M118.7 194.2h0M118.2 194.4h0M119.1 194.6h0M119.9 194.7h0M122.3 194.0h0M124.5 194.9h0M125.4 194.3h0M127.2 194.3h0M128.2 194.6h0M128.6 194.4h0M129.0 194.9h0M134.3 194.5h0M135.5 194.1h0M135.7 194.2h0M136.5 194.2h0M142.7 194.2h0M143.8 194.1h0M143.4 194.2h0M143.7 194.6h0M145.1 194.6h0M145.4 194.2h0M145.8 194.3h0M146.7 194.7h0M149.8 195.0h0M149.2 194.5h0M151.7 194.8h0M151.1 194.4h0M154.1 194.7h0M154.5 194.9h0M154.9 194.0h0M155.2 194.9h0M157.0 194.0h0M159.7 195.0h0M160.6 194.2h0M160.6 195.0h0M161.9 194.9h0M164.1 195.0h0M165.8 194.7h0M173.0 194.9h0M175.1 194.5h0M175.8 194.9h0M176.0 194.0h0M177.9 194.7h0M178.9 194.3h0M178.2 194.3h0M180.2 194.6h0M181.5 195.0h0M182.2 194.4h0M184.5 194.8h0M185.6 194.1h0M186.4 194.9h0M187.1 194.5h0M188.6 194.6h0M190.9 194.9h0M191.7 194.3h0M195.0 194.4h0M195.8 194.6h0M196.2 194.6h0M196.5 194.1h0M197.6 194.6h0M200.2 194.0h0M200.5 194.7h0M200.9 194.4h0M202.4 194.1h0M202.2 194.7h0M203.6 194.7h0M204.4 194.9h0M210.8 194.8h0M210.5 194.9h0M212.7 194.2h0M214.0 194.7h0M214.9 194.7h0M217.8 194.3h0M218.6 194.4h0M218.2 194.8h0M218.1 194.8h0M220.9 194.1h0M221.7 194.4h0M223.5 195.0h0M224.3 194.3h0M225.6 194.4h0M227.5 194.1h0M227.0 194.9h0M228.0 194.8h0M231.0 194.2h0M231.5 194.0h0M237.4 194.6h0M93.0 195.0h0M98.7 195.1h0M101.4 195.4h0M104.7 195.3h0M106.3 195.5h0M107.3 195.5h0M109.1 195.7h0M112.9 195.9h0M119.5 195.2h0M119.1 195.8h0M120.9 195.3h0M120.4 195.0h0M127.1 195.6h0M131.9 195.1h0M131.3 195.7h0M132.7 195.0h0M133.9 195.7h0M133.6 195.2h0M133.4 195.3h0M133.4 195.9h0M133.2 195.2h0M134.7 195.9h0M135.8 195.8h0M136.3 195.9h0M137.5 195.8h0M141.1 195.1h0M144.5 195.5h0M145.6 195.1h0M146.1 195.4h0M148.3 195.9h0M148.9 195.6h0M149.7 195.1h0M149.8 196.0h0M150.4 195.2h0M151.1 195.7h0M152.7 196.0h0M156.8 195.9h0M157.2 195.9h0M158.8 195.3h0M159.7 195.9h0M159.2 195.8h0M162.7 195.7h0M162.9 195.6h0M163.9 195.4h0M163.8 195.9h0M168.1 195.5h0M169.9 195.6h0M171.2 195.8h0M171.9 196.0h0M172.6 195.9h0M172.6 195.1h0M174.4 195.6h0M174.6 195.3h0M176.0 195.9h0M175.9 195.8h0M175.4 195.5h0M176.5 195.4h0M176.7 195.6h0M177.6 195.1h0M177.6 195.5h0M177.0 195.7h0M179.8 195.2h0M180.5 195.3h0M183.4 195.7h0M183.5 195.3h0M184.5 195.4h0M187.0 195.7h0M186.0 195.8h0M187.4 195.5h0M187.7 195.4h0M189.7 195.4h0M193.1 195.2h0M194.5 195.4h0M194.3 195.6h0M195.9 196.0h0M196.2 195.5h0M197.6 195.0h0M198.4 195.2h0M198.2 195.3h0M199.2 195.2h0M201.2 195.2h0M203.3 195.2h0M207.9 195.8h0M207.5 195.7h0M207.5 195.4h0M207.1 195.8h0M208.7 195.0h0M211.6 195.1h0M211.5 195.5h0M214.9 195.6h0M216.9 195.6h0M217.6 195.6h0M219.7 195.6h0M219.2 195.9h0M221.6 195.5h0M222.9 195.3h0M222.7 195.7h0M222.8 195.3h0M226.4 195.5h0M227.6 195.9h0M230.4 195.1h0M230.9 195.3h0M235.0 195.1h0M90.9 196.9h0M104.1 196.7h0M115.4 196.7h0M116.1 197.0h0M118.3 196.9h0M121.3 196.5h0M126.3 196.5h0M128.7 196.9h0M128.5 196.3h0M128.6 196.3h0M129.8 196.7h0M130.6 196.5h0M132.0 196.5h0M134.3 196.6h0M134.6 196.4h0M134.8 196.0h0M136.4 196.9h0M139.6 196.3h0M140.4 196.7h0M140.9 196.8h0M140.5 196.6h0M141.6 196.4h0M141.1 196.0h0M142.8 196.1h0M142.3 196.2h0M142.4 196.8h0M142.4 196.3h0M145.0 196.8h0M145.1 196.3h0M145.9 196.4h0M146.4 196.4h0M146.9 196.0h0M146.5 196.5h0M147.4 196.1h0M148.9 196.7h0M149.0 196.5h0M149.1 196.3h0M152.6 196.0h0M153.9 196.2h0M155.0 196.4h0M156.0 196.6h0M156.7 196.9h0M157.5 197.0h0M157.1 196.8h0M158.4 196.5h0M158.2 196.7h0M160.4 197.0h0M160.7 197.0h0M162.4 196.1h0M163.2 196.1h0M164.0 196.8h0M165.9 196.9h0M168.5 197.0h0M168.6 196.2h0M172.0 196.7h0M171.8 196.1h0M172.0 196.8h0M174.0 196.9h0M176.3 196.6h0M177.6 196.4h0M179.0 196.3h0M182.0 196.8h0M181.5 196.7h0M183.6 196.6h0M184.9 196.5h0M190.0 196.8h0M190.5 196.5h0M190.4 196.2h0M191.3 196.4h0M191.5 196.4h0M193.2 196.7h0M194.9 196.2h0M196.2 196.9h0M196.8 196.2h0M198.2 196.5h0M198.1 196.2h0M199.3 196.1h0M201.6 196.7h0M205.6 196.5h0M209.3 196.6h0M213.4 196.6h0M214.4 196.1h0M218.2 196.9h0M218.4 196.0h0M219.1 196.4h0M221.0 196.0h0M222.3 196.0h0M225.8 196.9h0M236.9 196.4h0M93.9 197.1h0M95.1 197.9h0M116.5 197.0h0M119.4 197.2h0M119.7 197.6h0M119.2 197.2h0M120.0 197.6h0M120.8 197.7h0M121.8 197.6h0M121.3 197.7h0M123.7 197.1h0M125.8 197.2h0M126.8 197.1h0M127.1 197.6h0M128.7 197.4h0M129.6 197.5h0M129.8 197.9h0M130.9 197.8h0M131.6 197.0h0M135.0 197.2h0M134.4 197.2h0M135.5 197.3h0M136.8 197.9h0M138.9 197.3h0M139.3 197.2h0M139.6 197.0h0M139.1 197.1h0M139.5 197.7h0M140.2 197.8h0M140.3 197.3h0M143.2 197.8h0M143.1 197.3h0M143.6 197.9h0M144.5 197.1h0M144.4 197.5h0M147.4 197.6h0M147.0 197.9h0M149.0 197.3h0M150.0 197.2h0M149.5 197.6h0M150.4 197.1h0M151.4 197.9h0M154.4 197.5h0M156.3 197.4h0M156.3 197.4h0M157.5 197.3h0M158.2 197.8h0M162.7 197.7h0M164.7 197.9h0M165.0 197.4h0M165.8 198.0h0M166.2 197.5h0M167.9 197.8h0M167.8 197.9h0M168.3 197.1h0M168.7 198.0h0M170.7 197.2h0M170.4 197.8h0M172.0 197.8h0M171.5 197.9h0M172.7 197.7h0M173.5 197.6h0M174.3 197.4h0M175.2 197.2h0M176.2 197.1h0M177.9 197.9h0M178.1 197.2h0M178.3 197.0h0M178.8 197.6h0M179.5 197.2h0M179.5 197.3h0M181.5 197.4h0M185.2 197.1h0M185.1 197.1h0M186.1 197.1h0M191.2 197.8h0M192.5 197.3h0M194.4 197.7h0M197.2 197.1h0M197.3 197.5h0M201.4 197.5h0M202.1 197.0h0M205.5 197.1h0M205.5 198.0h0M206.4 197.5h0M207.8 197.3h0M208.7 197.7h0M210.1 197.5h0M210.1 198.0h0M212.4 197.7h0M213.8 197.6h0M214.2 197.1h0M215.3 197.4h0M218.0 197.2h0M219.9 197.5h0M220.4 197.3h0M224.6 197.1h0M88.2 198.1h0M88.6 198.4h0M90.5 198.9h0M97.1 198.8h0M100.3 198.3h0M103.3 198.3h0M104.8 198.2h0M106.1 198.2h0M111.2 198.9h0M112.1 198.2h0M112.8 198.2h0M113.6 198.4h0M114.9 198.8h0M120.4 198.9h0M120.2 198.5h0M122.4 198.1h0M125.6 199.0h0M130.2 199.0h0M131.9 198.9h0M131.1 198.8h0M133.1 198.1h0M133.2 198.0h0M134.1 198.5h0M135.0 198.4h0M135.5 198.8h0M136.4 198.2h0M139.7 198.8h0M140.2 198.6h0M143.7 198.4h0M143.9 198.2h0M144.3 198.2h0M144.7 198.3h0M144.2 198.1h0M144.5 198.4h0M146.4 199.0h0M146.6 198.5h0M148.9 198.3h0M151.0 198.1h0M151.6 198.5h0M151.0 198.6h0M153.0 198.3h0M153.6 198.5h0M155.4 198.8h0M155.2 198.9h0M156.2 198.0h0M157.1 198.4h0M157.7 198.2h0M158.4 198.5h0M160.6 198.6h0M162.6 198.7h0M165.5 199.0h0M166.9 198.5h0M166.5 198.2h0M168.6 198.4h0M169.2 198.2h0M171.5 198.9h0M173.8 198.8h0M174.4 198.1h0M174.9 198.4h0M175.5 198.1h0M178.3 198.7h0M180.1 198.3h0M180.1 198.6h0M181.2 198.6h0M184.5 198.8h0M185.9 198.1h0M186.1 198.8h0M186.5 198.2h0M189.0 198.3h0M191.2 198.3h0M191.7 198.2h0M193.3 198.8h0M194.0 198.5h0M193.9 198.6h0M194.1 198.3h0M194.3 198.7h0M196.9 198.5h0M196.8 198.6h0M196.7 198.8h0M196.0 198.8h0M197.7 198.2h0M198.9 198.3h0M199.7 198.1h0M200.1 198.6h0M200.9 198.1h0M201.4 198.7h0M202.3 198.1h0M205.1 198.7h0M208.0 198.1h0M208.9 198.6h0M208.2 198.1h0M210.2 198.5h0M211.0 198.2h0M211.2 198.3h0M213.1 198.6h0M223.5 198.7h0M228.2 198.8h0M96.1 199.0h0M103.0 199.2h0M108.0 199.5h0M108.7 199.1h0M108.0 199.4h0M111.2 199.2h0M111.7 199.3h0M113.6 199.5h0M118.6 199.1h0M121.6 199.1h0M121.1 199.6h0M121.8 199.6h0M123.9 199.3h0M124.7 199.7h0M126.9 199.1h0M127.4 199.0h0M129.1 199.4h0M129.6 199.6h0M130.1 199.6h0M131.9 199.9h0M131.1 199.6h0M132.7 199.6h0M133.9 199.1h0M135.8 199.6h0M139.3 199.8h0M139.4 199.8h0M141.3 199.8h0M142.6 199.1h0M144.2 199.7h0M144.0 199.0h0M145.8 199.1h0M147.6 199.5h0M149.9 199.3h0M150.0 199.0h0M150.8 199.0h0M153.1 199.3h0M154.2 199.5h0M154.4 199.7h0M154.5 199.9h0M155.4 200.0h0M156.3 199.9h0M156.2 199.9h0M158.2 199.0h0M158.6 199.3h0M162.9 199.0h0M165.4 199.7h0M166.9 199.3h0M166.8 199.7h0M168.9 199.2h0M170.8 199.8h0M172.5 199.3h0M175.5 199.2h0M177.7 199.3h0M178.7 199.7h0M178.6 199.2h0M182.3 199.2h0M182.7 199.2h0M182.3 199.9h0M183.1 199.3h0M185.2 199.3h0M186.4 199.1h0M188.5 199.2h0M188.5 199.1h0M189.4 199.2h0M191.9 199.9h0M192.8 199.9h0M192.3 199.1h0M192.5 199.9h0M192.7 199.7h0M192.8 199.1h0M194.3 199.2h0M195.0 199.5h0M198.7 199.1h0M198.1 199.3h0M198.7 199.5h0M198.6 199.5h0M199.4 199.5h0M199.9 199.9h0M200.1 199.2h0M200.8 199.9h0M203.9 199.1h0M204.3 199.6h0M205.2 199.7h0M205.9 199.8h0M207.5 199.9h0M208.0 199.3h0M210.0 199.8h0M212.7 199.4h0M212.1 199.1h0M212.0 199.8h0M215.7 199.3h0M215.6 199.7h0M216.5 199.7h0M220.4 199.9h0M222.7 199.4h0M222.8 199.1h0M228.2 199.7h0M230.0 199.7h0M230.8 199.4h0M231.0 199.2h0M232.8 199.1h0M100.0 200.8h0M101.6 200.7h0M101.8 200.5h0M105.8 200.9h0M108.9 200.8h0M108.4 200.1h0M110.1 200.1h0M112.0 200.8h0M125.9 200.3h0M129.0 200.5h0M128.6 200.2h0M131.3 200.5h0M131.3 200.9h0M133.0 200.1h0M134.7 200.7h0M134.9 200.0h0M135.8 200.4h0M136.5 200.8h0M138.1 200.2h0M139.2 200.1h0M140.9 200.6h0M140.7 200.0h0M142.0 200.2h0M142.0 200.5h0M143.7 200.9h0M143.3 200.6h0M144.3 200.1h0M144.7 200.0h0M144.9 200.8h0M144.3 200.6h0M144.0 201.0h0M145.3 200.7h0M146.5 200.3h0M150.6 200.3h0M152.3 200.7h0M155.6 200.5h0M160.8 200.4h0M163.4 200.9h0M164.1 200.7h0M165.7 200.4h0M165.7 200.0h0M165.8 200.1h0M167.1 200.1h0M168.7 200.0h0M169.9 200.1h0M170.6 200.3h0M170.8 200.4h0M171.5 201.0h0M171.0 200.1h0M173.0 200.1h0M173.6 200.6h0M174.2 200.6h0M174.3 200.1h0M174.1 200.1h0M174.8 200.1h0M176.0 200.2h0M176.5 200.9h0M176.7 200.1h0M176.2 200.8h0M178.7 200.8h0M180.0 200.2h0M180.2 200.7h0M181.4 200.3h0M182.7 200.2h0M182.3 200.4h0M184.8 200.3h0M184.2 200.3h0M185.1 200.3h0M186.3 200.2h0M188.6 200.2h0M189.9 200.6h0M189.1 200.7h0M190.2 201.0h0M190.8 200.7h0M190.2 200.3h0M191.8 200.7h0M193.5 200.6h0M193.4 200.5h0M195.0 200.8h0M195.3 200.5h0M195.9 200.0h0M198.7 200.6h0M200.2 200.4h0M201.9 200.1h0M205.0 200.9h0M204.7 200.5h0M205.4 200.8h0M210.0 200.2h0M210.4 200.3h0M212.5 200.4h0M212.5 200.6h0M213.3 200.5h0M213.6 200.9h0M214.6 200.2h0M216.1 200.5h0M218.4 200.2h0M225.5 200.9h0M226.3 200.0h0M231.3 200.8h0M91.1 201.8h0M98.7 201.7h0M104.4 201.4h0M115.3 201.7h0M117.4 201.0h0M119.0 202.0h0M118.2 201.7h0M120.1 201.5h0M121.7 201.5h0M121.6 201.4h0M122.8 201.3h0M122.5 201.4h0M125.0 201.2h0M127.3 201.0h0M128.7 201.3h0M128.2 201.2h0M129.2 201.8h0M130.1 201.0h0M130.8 201.7h0M130.8 201.4h0M132.3 201.2h0M133.6 201.4h0M135.5 201.1h0M135.3 201.6h0M136.7 201.4h0M136.4 201.9h0M136.7 201.0h0M137.5 201.3h0M137.3 201.5h0M141.4 201.3h0M142.9 201.3h0M145.0 201.3h0M146.0 201.4h0M145.9 201.1h0M146.1 201.8h0M146.6 201.9h0M147.2 201.9h0M149.1 202.0h0M150.3 201.1h0M153.6 201.0h0M153.4 201.8h0M154.7 201.9h0M154.6 201.2h0M154.9 201.9h0M155.4 201.7h0M155.9 201.9h0M156.9 201.7h0M158.8 201.1h0M158.8 201.9h0M160.0 201.9h0M159.4 201.6h0M164.0 201.0h0M164.3 201.8h0M165.4 202.0h0M166.6 201.5h0M168.8 201.8h0M172.6 201.8h0M172.0 201.3h0M174.1 201.2h0M178.3 202.0h0M178.8 201.4h0M179.0 201.1h0M179.2 201.7h0M179.9 202.0h0M180.9 201.6h0M183.2 201.4h0M186.3 202.0h0M188.8 201.1h0M188.2 201.3h0M193.2 201.3h0M193.8 201.7h0M194.1 201.7h0M194.5 201.7h0M194.3 201.1h0M194.6 201.7h0M194.6 201.5h0M195.0 201.2h0M195.5 201.2h0M196.3 201.3h0M196.3 201.4h0M197.3 201.0h0M199.2 201.9h0M199.6 201.4h0M205.9 201.6h0M206.8 201.7h0M209.1 201.9h0M211.5 201.4h0M212.8 201.9h0M212.8 201.7h0M217.8 201.6h0M217.3 201.7h0M222.0 201.6h0M223.1 202.0h0M226.0 201.0h0M112.4 202.5h0M114.7 203.0h0M118.8 202.0h0M121.3 202.1h0M122.9 202.7h0M125.2 202.2h0M125.8 202.7h0M126.9 202.5h0M126.3 202.6h0M128.7 202.9h0M128.9 202.1h0M129.6 202.3h0M131.1 202.9h0M132.1 202.2h0M134.2 202.6h0M134.6 202.5h0M136.7 202.4h0M138.1 202.7h0M139.5 202.2h0M142.6 202.8h0M142.1 202.0h0M142.8 202.7h0M146.1 202.7h0M149.0 202.1h0M149.0 202.3h0M152.4 202.9h0M152.6 202.4h0M152.3 202.6h0M153.8 202.8h0M156.7 202.3h0M157.7 202.3h0M159.4 202.9h0M159.9 202.9h0M160.4 202.1h0M161.8 203.0h0M162.5 202.1h0M163.9 202.5h0M164.6 202.4h0M165.2 202.5h0M166.1 202.1h0M167.4 203.0h0M171.3 202.4h0M172.9 202.7h0M172.9 203.0h0M172.4 202.8h0M172.7 202.3h0M172.6 202.4h0M172.7 202.8h0M173.1 202.2h0M174.1 202.1h0M175.0 202.9h0M177.2 202.9h0M178.1 202.5h0M180.4 202.0h0M180.5 202.5h0M183.7 202.5h0M183.4 202.5h0M184.7 202.0h0M186.3 202.2h0M186.8 202.9h0M187.0 202.1h0M186.4 202.0h0M188.8 202.3h0M191.1 202.4h0M194.6 202.2h0M194.2 202.4h0M195.7 202.6h0M196.5 202.9h0M197.8 202.9h0M197.2 202.5h0M197.7 202.3h0M198.0 202.9h0M198.3 202.2h0M199.7 202.4h0M199.3 202.9h0M200.8 202.6h0M201.4 202.3h0M203.3 202.7h0M205.2 202.4h0M206.7 202.4h0M207.4 202.7h0M210.3 202.4h0M210.1 202.7h0M210.1 202.6h0M216.1 202.9h0M216.9 202.7h0M225.5 202.4h0M109.3 203.6h0M115.8 203.5h0M119.0 203.2h0M125.7 203.6h0M127.5 203.5h0M128.9 203.1h0M130.5 203.8h0M131.5 203.7h0M131.4 203.8h0M132.9 203.9h0M133.4 203.4h0M135.5 203.5h0M135.1 203.3h0M135.5 203.8h0M136.2 203.4h0M138.2 203.9h0M138.0 203.6h0M138.9 203.4h0M143.2 203.6h0M145.8 203.6h0M145.8 203.4h0M146.8 203.9h0M147.6 203.9h0M147.9 203.5h0M148.9 203.2h0M148.6 203.8h0M149.5 203.7h0M150.7 203.5h0M152.3 203.2h0M152.1 203.5h0M152.9 203.2h0M157.4 203.3h0M158.5 203.9h0M158.3 203.4h0M159.2 203.2h0M161.9 203.5h0M162.3 203.9h0M163.0 203.5h0M163.9 203.8h0M163.4 203.2h0M164.5 203.5h0M164.6 204.0h0M166.0 203.1h0M168.0 203.9h0M169.6 203.8h0M170.2 203.6h0M170.8 203.1h0M171.9 203.9h0M171.1 203.8h0M172.2 203.9h0M172.8 203.7h0M175.5 203.3h0M176.5 203.6h0M176.1 203.6h0M179.5 203.1h0M182.2 203.5h0M183.5 203.9h0M183.4 203.4h0M186.1 203.0h0M187.9 203.4h0M187.5 203.7h0M188.2 203.7h0M188.6 203.1h0M189.4 203.1h0M189.3 203.7h0M190.4 203.5h0M190.3 203.6h0M192.9 203.8h0M195.4 204.0h0M197.5 203.1h0M198.8 203.4h0M199.2 203.6h0M200.0 203.3h0M201.6 203.1h0M205.8 203.4h0M206.4 203.3h0M206.3 203.6h0M207.1 204.0h0M209.6 203.1h0M209.5 203.2h0M210.3 203.8h0M211.0 204.0h0M211.4 203.6h0M214.7 203.2h0M215.9 203.1h0M223.6 203.0h0M103.6 205.0h0M109.3 204.3h0M117.5 204.1h0M123.9 204.9h0M124.0 204.2h0M126.2 204.5h0M129.9 204.1h0M134.1 205.0h0M135.3 204.7h0M136.7 204.5h0M137.6 204.1h0M137.2 204.5h0M139.4 204.8h0M139.4 204.3h0M140.4 204.9h0M142.3 204.1h0M143.3 204.3h0M143.0 204.5h0M144.7 204.3h0M145.3 204.3h0M146.3 204.4h0M149.8 205.0h0M150.1 204.1h0M151.5 204.4h0M152.6 204.0h0M152.1 204.6h0M156.2 204.7h0M156.7 204.2h0M157.7 204.5h0M158.8 204.9h0M158.0 204.2h0M159.4 204.5h0M161.7 204.5h0M161.4 204.4h0M163.0 204.4h0M163.6 204.2h0M163.7 204.2h0M164.9 204.8h0M165.9 204.6h0M166.1 205.0h0M168.5 204.3h0M171.5 204.6h0M176.7 204.6h0M176.2 204.6h0M177.6 204.6h0M177.5 204.4h0M177.4 204.8h0M178.6 204.1h0M179.8 204.5h0M179.3 204.4h0M180.5 204.5h0M182.0 204.7h0M184.0 204.8h0M184.7 204.2h0M185.3 204.3h0M185.2 204.7h0M185.6 204.0h0M185.6 204.1h0M187.5 204.4h0M189.6 204.0h0M190.0 204.2h0M191.6 204.3h0M191.7 204.8h0M195.8 204.0h0M197.1 204.5h0M198.3 205.0h0M198.7 204.5h0M199.1 204.9h0M200.5 204.1h0M201.0 204.0h0M202.3 204.4h0M202.4 204.2h0M204.6 204.2h0M205.5 204.3h0M208.6 204.3h0M212.0 204.4h0M214.4 204.3h0M216.3 204.4h0M218.3 204.1h0M218.1 204.7h0M222.6 204.9h0M102.6 205.5h0M109.2 205.4h0M113.5 205.5h0M117.7 205.1h0M123.0 205.6h0M122.8 205.1h0M124.6 205.2h0M124.7 205.4h0M126.5 205.0h0M126.7 205.9h0M127.8 205.7h0M128.0 205.7h0M130.7 205.8h0M132.2 205.2h0M132.6 205.2h0M133.1 205.4h0M134.5 205.0h0M136.7 205.6h0M137.2 205.5h0M137.9 205.1h0M141.8 205.7h0M141.4 205.9h0M143.7 205.3h0M143.6 205.8h0M144.8 205.2h0M145.1 205.8h0M145.4 205.6h0M145.3 205.9h0M147.6 205.2h0M148.2 205.5h0M149.6 205.2h0M149.3 205.8h0M150.9 205.2h0M150.2 205.4h0M150.1 205.7h0M150.5 206.0h0M151.1 205.5h0M152.2 205.1h0M153.5 205.8h0M156.9 205.7h0M157.3 205.8h0M159.8 205.9h0M161.1 205.2h0M164.6 205.8h0M165.7 205.9h0M170.6 205.4h0M170.9 205.6h0M173.7 205.7h0M173.5 205.0h0M173.8 205.5h0M173.9 206.0h0M177.3 205.5h0M177.8 205.5h0M180.3 206.0h0M180.2 205.9h0M181.9 205.9h0M184.4 205.4h0M184.2 205.0h0M184.9 205.9h0M185.1 205.9h0M185.8 205.8h0M187.5 205.5h0M189.5 205.5h0M190.9 205.5h0M190.6 205.3h0M191.3 205.4h0M192.9 205.3h0M192.1 205.2h0M193.4 205.7h0M193.7 205.4h0M195.8 205.9h0M196.1 205.3h0M197.1 205.9h0M198.0 205.4h0M199.0 205.6h0M199.5 205.9h0M199.7 205.4h0M201.7 205.4h0M201.2 206.0h0M201.0 205.0h0M208.3 205.3h0M209.1 205.6h0M210.3 205.1h0M215.3 205.7h0M216.2 205.8h0M98.9 206.4h0M106.4 206.2h0M110.4 206.6h0M114.5 206.2h0M116.6 206.0h0M116.8 206.5h0M119.9 206.1h0M122.4 206.8h0M129.3 206.7h0M130.7 206.0h0M132.5 207.0h0M133.7 206.4h0M133.6 206.7h0M134.5 206.9h0M135.2 207.0h0M138.3 206.3h0M140.2 206.4h0M140.3 206.8h0M140.8 206.4h0M144.7 206.3h0M144.4 206.9h0M145.8 207.0h0M145.3 206.8h0M145.8 206.8h0M147.7 206.2h0M147.2 206.7h0M149.0 206.3h0M149.1 206.2h0M150.7 206.8h0M150.1 206.6h0M151.9 206.0h0M154.6 206.6h0M154.9 206.6h0M155.4 206.4h0M156.7 206.1h0M156.6 206.7h0M157.4 206.4h0M162.7 206.6h0M163.6 207.0h0M163.2 206.8h0M165.0 206.4h0M165.0 206.4h0M170.1 206.3h0M172.8 206.7h0M172.8 206.6h0M173.3 206.2h0M173.4 206.7h0M174.5 206.5h0M176.7 206.6h0M178.0 206.4h0M178.2 206.7h0M178.2 206.6h0M185.8 206.4h0M188.0 206.3h0M190.8 207.0h0M191.9 206.6h0M192.2 206.8h0M192.6 206.1h0M195.8 206.6h0M195.1 206.8h0M196.5 206.0h0M197.2 206.5h0M198.8 206.2h0M200.6 206.4h0M202.0 206.1h0M202.6 206.5h0M204.2 206.9h0M208.3 206.9h0M210.8 206.7h0M212.4 206.4h0M213.5 206.8h0M217.8 206.3h0M224.1 207.0h0M98.5 207.7h0M101.9 207.4h0M103.2 207.3h0M108.2 207.0h0M110.9 207.6h0M113.6 207.4h0M114.3 207.7h0M116.6 207.3h0M119.6 207.5h0M123.3 207.3h0M126.1 207.5h0M129.1 207.4h0M130.6 207.3h0M131.7 207.7h0M132.1 207.7h0M132.4 207.9h0M133.4 207.6h0M134.6 207.2h0M137.2 207.1h0M137.2 208.0h0M138.7 207.2h0M138.6 207.6h0M143.1 207.7h0M146.7 207.3h0M147.6 207.9h0M148.2 207.6h0M149.1 207.1h0M149.1 207.9h0M150.1 207.3h0M151.4 207.6h0M154.9 207.4h0M159.1 207.6h0M159.2 207.7h0M160.4 207.6h0M162.1 207.9h0M165.3 207.9h0M165.6 207.4h0M167.8 207.6h0M169.2 207.6h0M169.6 207.4h0M170.1 207.7h0M172.7 207.3h0M173.6 207.9h0M175.4 207.8h0M175.8 207.9h0M176.2 207.1h0M178.8 207.8h0M180.4 207.3h0M181.6 207.6h0M182.5 207.8h0M186.4 207.7h0M187.6 207.9h0M189.6 207.1h0M190.3 207.3h0M191.7 207.5h0M191.3 207.7h0M192.3 207.4h0M193.8 208.0h0M194.0 207.5h0M195.1 207.6h0M195.8 207.7h0M195.8 207.7h0M196.7 207.9h0M199.3 207.8h0M199.8 207.3h0M200.5 207.7h0M201.2 207.3h0M203.2 207.4h0M211.0 207.6h0M212.6 207.6h0M216.3 207.1h0M221.8 207.3h0M104.4 208.7h0M107.6 208.6h0M108.9 208.4h0M111.1 208.3h0M119.1 208.8h0M120.7 208.9h0M127.9 208.9h0M129.7 208.9h0M133.6 208.6h0M135.8 208.6h0M135.2 208.7h0M135.3 208.3h0M136.9 208.9h0M136.3 208.1h0M143.7 208.4h0M144.9 208.5h0M144.7 208.5h0M144.3 208.4h0M144.1 208.6h0M146.8 208.5h0M147.9 208.6h0M147.4 209.0h0M147.5 208.9h0M148.0 208.6h0M151.0 208.1h0M152.0 208.6h0M153.0 208.8h0M152.5 208.6h0M156.7 208.5h0M158.0 208.8h0M158.6 208.2h0M158.5 208.3h0M159.9 208.2h0M160.7 209.0h0M162.6 208.1h0M162.0 208.7h0M162.3 208.9h0M163.5 208.0h0M168.5 208.7h0M169.0 208.8h0M170.9 208.5h0M170.5 208.3h0M171.8 208.1h0M171.5 208.6h0M173.0 208.3h0M173.7 208.2h0M175.6 208.1h0M175.2 208.1h0M176.5 208.3h0M179.9 208.2h0M179.7 208.6h0M181.7 208.1h0M183.3 208.8h0M185.6 208.3h0M185.6 208.5h0M186.6 209.0h0M187.3 208.4h0M190.0 208.3h0M190.9 208.4h0M192.0 208.0h0M193.1 208.7h0M195.8 209.0h0M196.3 208.5h0M196.9 208.1h0M196.1 208.7h0M199.0 208.5h0M199.6 208.2h0M201.2 208.2h0M202.5 208.4h0M204.9 208.9h0M205.3 208.9h0M215.1 208.2h0M219.8 208.2h0M97.1 209.6h0M102.8 209.0h0M103.9 209.8h0M110.2 209.2h0M113.9 209.6h0M115.9 209.6h0M116.2 209.5h0M118.8 209.8h0M120.1 209.1h0M122.5 209.3h0M124.5 209.9h0M125.4 209.5h0M127.3 209.2h0M130.7 209.5h0M130.8 209.4h0M132.8 209.2h0M134.0 209.7h0M134.2 209.2h0M136.7 209.8h0M137.5 209.9h0M139.7 209.8h0M139.6 209.5h0M139.2 209.3h0M139.2 209.8h0M139.9 209.8h0M146.6 209.3h0M148.3 210.0h0M149.2 209.7h0M150.5 209.2h0M150.4 209.3h0M150.4 209.5h0M151.1 209.4h0M151.2 210.0h0M152.3 209.8h0M156.9 209.6h0M156.4 209.5h0M157.0 209.3h0M157.0 209.9h0M158.4 209.3h0M158.4 209.9h0M159.4 209.6h0M161.3 209.1h0M162.2 209.2h0M167.7 209.3h0M168.4 209.6h0M170.3 209.8h0M170.5 209.5h0M171.0 209.1h0M172.4 209.2h0M172.4 209.8h0M174.6 209.5h0M179.1 209.6h0M180.6 209.6h0M181.1 209.6h0M183.7 209.1h0M184.6 209.4h0M184.4 210.0h0M186.5 209.4h0M187.8 209.3h0M187.1 209.8h0M189.8 209.5h0M193.9 209.6h0M196.5 209.2h0M197.1 209.2h0M198.2 209.6h0M198.3 209.2h0M200.7 210.0h0M200.5 209.1h0M201.3 209.1h0M204.0 209.4h0M204.7 209.7h0M209.8 209.3h0M212.3 209.5h0M109.1 210.5h0M112.2 210.7h0M114.6 210.8h0M114.2 210.2h0M115.4 210.8h0M116.2 210.4h0M116.6 210.3h0M132.0 210.1h0M131.6 210.9h0M132.4 210.2h0M136.6 210.5h0M137.0 210.7h0M141.0 210.5h0M141.8 210.3h0M142.4 210.5h0M142.0 210.6h0M143.0 210.5h0M144.0 210.5h0M144.4 210.7h0M148.5 210.4h0M150.7 210.9h0M150.4 210.7h0M151.8 210.5h0M152.0 210.2h0M152.8 210.1h0M152.0 210.6h0M153.7 210.0h0M156.0 210.4h0M158.0 210.9h0M161.4 210.9h0M161.3 210.7h0M162.7 210.5h0M166.1 210.2h0M170.7 210.2h0M172.2 210.5h0M174.5 210.1h0M175.0 210.7h0M177.9 211.0h0M177.3 210.2h0M179.5 210.1h0M179.2 210.5h0M180.8 210.9h0M180.3 210.6h0M181.7 210.6h0M182.1 210.3h0M184.0 210.2h0M185.0 210.4h0M186.6 210.8h0M187.1 210.4h0M187.4 210.6h0M187.2 210.5h0M189.7 210.8h0M192.0 210.8h0M196.0 210.3h0M197.3 210.0h0M198.3 210.1h0M199.9 210.9h0M199.4 210.9h0M200.8 210.4h0M202.1 210.8h0M209.4 210.8h0M98.8 211.5h0M100.4 211.9h0M104.3 211.4h0M111.8 211.4h0M116.8 211.4h0M118.5 211.6h0M125.1 211.2h0M125.2 211.2h0M125.4 211.6h0M128.6 211.9h0M128.9 211.9h0M129.4 211.7h0M129.8 211.4h0M132.8 211.8h0M134.0 211.2h0M135.3 211.5h0M136.4 211.3h0M136.5 211.4h0M139.1 211.3h0M140.1 211.3h0M140.6 212.0h0M141.2 211.3h0M141.5 211.3h0M142.1 211.9h0M144.7 211.7h0M145.6 211.9h0M145.6 211.9h0M148.5 211.5h0M148.1 211.4h0M148.7 211.9h0M150.0 211.1h0M150.9 211.7h0M151.4 212.0h0M151.4 211.2h0M153.4 211.4h0M160.3 211.8h0M161.1 211.9h0M162.1 211.2h0M162.4 211.2h0M162.3 211.5h0M163.6 211.7h0M163.1 211.1h0M164.5 211.0h0M168.9 211.1h0M168.0 211.5h0M170.1 211.6h0M170.9 211.2h0M173.7 211.9h0M173.2 211.7h0M174.7 211.3h0M175.6 211.7h0M175.9 211.2h0M175.1 211.8h0M175.1 211.8h0M176.1 211.0h0M176.8 211.8h0M177.8 211.9h0M179.4 211.3h0M179.3 211.4h0M180.0 211.6h0M182.7 211.6h0M182.8 211.8h0M184.5 211.4h0M185.4 211.1h0M185.3 211.9h0M187.3 211.3h0M189.8 211.7h0M191.6 211.4h0M192.1 211.7h0M193.7 211.7h0M193.6 211.7h0M195.0 211.2h0M194.2 211.8h0M195.2 212.0h0M195.9 211.6h0M198.4 211.7h0M198.0 211.8h0M199.2 211.6h0M200.9 211.8h0M200.6 211.2h0M202.3 211.2h0M95.0 212.4h0M99.6 212.3h0M105.0 212.3h0M107.0 212.2h0M114.9 212.5h0M114.7 212.2h0M119.6 212.0h0M119.1 212.5h0M120.9 212.1h0M125.3 212.6h0M125.7 212.5h0M125.2 212.9h0M126.0 212.6h0M128.2 212.7h0M128.7 212.9h0M129.2 212.7h0M130.9 212.1h0M135.6 212.5h0M136.4 212.1h0M140.5 212.8h0M140.3 212.7h0M141.7 212.8h0M142.6 212.5h0M143.5 212.2h0M146.1 212.8h0M147.2 212.8h0M148.4 212.9h0M148.9 212.9h0M148.7 212.9h0M149.1 212.1h0M149.8 212.8h0M151.2 212.0h0M154.4 212.4h0M155.9 212.4h0M158.0 212.1h0M161.2 212.2h0M161.3 212.8h0M163.1 212.4h0M165.0 212.7h0M166.2 212.5h0M169.5 212.6h0M173.0 212.4h0M175.5 212.2h0M176.8 212.5h0M177.5 212.6h0M180.7 212.3h0M180.8 212.3h0M180.3 212.2h0M183.8 212.5h0M184.2 212.1h0M186.8 212.1h0M187.1 212.8h0M193.2 212.2h0M194.2 212.1h0M195.2 212.9h0M197.0 212.8h0M196.7 212.4h0M197.2 212.9h0M199.9 212.9h0M199.9 212.3h0M200.8 212.5h0M208.0 212.4h0M93.9 213.2h0M99.3 213.1h0M100.7 213.4h0M103.9 213.0h0M105.9 213.7h0M113.8 213.1h0M117.0 213.0h0M119.5 213.6h0M120.6 213.3h0M122.6 213.9h0M123.9 213.1h0M123.6 213.9h0M124.3 214.0h0M124.4 213.6h0M126.2 213.0h0M128.7 213.3h0M133.4 213.1h0M136.4 213.2h0M140.2 213.9h0M141.6 213.1h0M142.4 213.3h0M147.3 213.3h0M148.9 213.5h0M149.7 213.3h0M152.7 213.5h0M152.3 213.5h0M156.7 213.1h0M157.9 213.8h0M158.2 213.1h0M161.2 213.1h0M163.8 213.9h0M164.4 213.6h0M166.9 213.6h0M167.7 213.1h0M170.0 213.8h0M171.9 213.7h0M172.5 213.2h0M173.6 213.9h0M173.6 213.3h0M175.2 213.7h0M178.1 213.8h0M179.0 213.3h0M179.0 213.6h0M179.8 213.6h0M180.0 213.1h0M181.6 213.6h0M181.3 213.5h0M183.1 213.3h0M183.6 213.3h0M184.4 213.2h0M185.2 213.2h0M186.6 213.2h0M187.3 213.0h0M187.8 213.8h0M189.2 213.6h0M190.5 213.1h0M190.2 213.3h0M191.5 213.0h0M193.4 213.3h0M194.9 213.6h0M194.8 213.5h0M206.2 213.0h0M105.2 214.7h0M106.8 214.4h0M110.2 214.2h0M116.2 214.3h0M118.6 214.8h0M124.6 214.5h0M126.2 214.3h0M126.6 214.3h0M130.2 215.0h0M133.0 214.1h0M133.6 214.9h0M134.1 214.3h0M135.1 214.0h0M138.3 214.0h0M140.3 214.9h0M140.3 214.1h0M143.2 214.0h0M144.9 214.1h0M144.6 214.1h0M145.0 214.2h0M146.0 214.2h0M145.3 214.2h0M146.7 214.2h0M147.0 214.4h0M150.5 214.4h0M151.3 214.8h0M153.4 214.4h0M153.2 214.1h0M153.7 214.3h0M154.0 214.9h0M155.0 214.4h0M156.2 214.5h0M158.0 214.2h0M158.1 214.7h0M159.6 214.9h0M159.8 215.0h0M160.1 215.0h0M161.8 214.7h0M161.8 214.6h0M162.1 214.7h0M162.9 214.3h0M163.3 215.0h0M166.1 214.5h0M167.8 214.0h0M168.2 214.5h0M170.3 214.2h0M171.0 214.5h0M172.0 214.9h0M172.2 214.7h0M172.1 214.1h0M173.4 214.8h0M175.0 214.9h0M175.2 215.0h0M175.0 214.2h0M175.4 214.2h0M176.1 214.8h0M176.1 214.8h0M177.2 214.2h0M184.2 214.8h0M184.9 214.1h0M184.1 214.4h0M185.5 214.6h0M185.8 214.2h0M185.4 214.0h0M185.8 214.7h0M185.1 214.3h0M187.4 214.9h0M189.8 214.6h0M193.1 214.2h0M195.6 214.7h0M198.3 214.1h0M198.5 214.8h0M198.9 214.2h0M200.3 214.3h0M200.9 214.1h0M202.0 214.4h0M204.5 214.7h0M206.0 214.6h0M211.8 214.1h0M98.3 215.6h0M105.5 215.9h0M112.5 215.9h0M115.4 215.2h0M116.7 215.5h0M119.8 215.7h0M121.3 215.6h0M123.9 215.2h0M123.7 215.5h0M126.0 216.0h0M125.7 215.6h0M127.5 215.1h0M128.2 215.9h0M128.8 215.5h0M129.1 215.2h0M130.1 215.1h0M134.5 215.8h0M135.7 215.9h0M136.3 215.2h0M145.3 216.0h0M146.2 215.3h0M148.2 215.8h0M148.0 215.5h0M149.6 215.1h0M149.6 215.8h0M150.7 215.6h0M151.4 215.7h0M151.5 215.8h0M153.6 215.8h0M154.6 215.4h0M155.5 215.2h0M155.9 215.5h0M159.2 215.0h0M159.2 215.6h0M161.4 215.6h0M161.4 215.7h0M161.1 215.7h0M162.0 215.6h0M165.4 215.1h0M166.3 216.0h0M166.3 216.0h0M167.2 215.4h0M167.3 215.6h0M169.1 215.2h0M169.4 215.2h0M169.0 215.3h0M170.9 215.7h0M170.7 215.5h0M173.1 215.2h0M173.3 215.8h0M174.8 215.6h0M175.1 215.5h0M176.0 215.7h0M178.5 215.8h0M178.4 215.4h0M179.7 215.7h0M181.1 215.7h0M182.4 215.2h0M184.3 215.9h0M186.5 215.1h0M187.3 215.5h0M188.9 215.8h0M188.4 215.8h0M189.8 215.2h0M192.1 215.5h0M192.9 215.3h0M194.1 215.8h0M195.6 215.3h0M195.1 216.0h0M108.4 216.1h0M110.0 216.1h0M116.8 216.6h0M125.0 216.7h0M126.0 216.0h0M130.2 216.0h0M130.4 216.5h0M135.4 216.7h0M136.0 216.2h0M139.5 216.2h0M141.9 216.1h0M143.1 216.5h0M143.7 216.3h0M144.7 216.2h0M144.7 216.9h0M146.2 216.4h0M147.8 216.1h0M148.6 216.6h0M150.0 216.2h0M150.0 216.5h0M151.8 216.1h0M152.9 216.4h0M152.5 216.4h0M154.8 216.3h0M158.6 217.0h0M159.5 216.4h0M160.3 216.2h0M161.2 217.0h0M164.0 216.4h0M163.3 216.2h0M164.9 216.2h0M164.9 216.5h0M166.4 216.1h0M166.8 216.4h0M171.9 216.6h0M172.6 216.1h0M173.7 216.1h0M173.9 217.0h0M175.1 216.9h0M175.7 216.5h0M176.6 216.9h0M177.1 216.4h0M178.4 216.3h0M179.3 216.4h0M181.0 216.7h0M181.4 216.2h0M181.8 217.0h0M182.4 216.0h0M184.3 216.7h0M185.8 216.9h0M186.0 216.1h0M189.1 216.1h0M189.8 216.2h0M194.4 217.0h0M195.4 216.7h0M196.6 216.1h0M107.4 217.2h0M112.1 217.5h0M124.8 217.1h0M125.9 217.3h0M126.2 217.6h0M128.1 217.0h0M132.5 217.5h0M134.0 217.7h0M134.8 217.8h0M135.1 217.7h0M136.0 217.0h0M141.9 217.3h0M142.6 217.9h0M142.5 217.9h0M144.6 217.2h0M144.3 217.5h0M145.2 217.2h0M145.4 217.1h0M145.5 217.8h0M147.2 217.2h0M147.4 217.9h0M149.0 217.2h0M149.2 217.9h0M149.2 217.9h0M149.4 217.0h0M152.1 217.3h0M152.6 217.0h0M153.3 217.0h0M156.6 217.6h0M158.1 217.1h0M159.7 217.9h0M161.0 217.3h0M162.7 217.8h0M163.5 217.9h0M165.1 217.2h0M165.3 217.8h0M166.7 217.1h0M166.4 217.7h0M166.1 218.0h0M167.8 217.1h0M167.2 217.6h0M169.5 217.5h0M170.7 217.4h0M171.0 217.4h0M173.5 217.1h0M173.3 217.2h0M174.8 217.1h0M175.1 217.1h0M176.1 217.5h0M176.5 217.7h0M177.7 217.0h0M180.2 217.7h0M181.1 217.1h0M181.8 217.4h0M183.7 217.1h0M185.0 217.3h0M189.3 217.7h0M195.6 217.4h0M195.9 217.4h0M198.4 217.9h0M199.7 217.6h0M200.1 217.6h0M99.2 218.7h0M108.2 218.9h0M109.1 218.7h0M111.9 218.2h0M117.8 218.3h0M124.7 218.4h0M129.0 218.6h0M128.5 218.4h0M134.1 218.5h0M135.0 218.8h0M139.9 218.4h0M141.9 218.0h0M142.8 218.7h0M142.3 218.6h0M143.4 218.9h0M145.6 218.1h0M146.3 218.1h0M147.2 218.7h0M150.0 218.7h0M149.0 218.4h0M152.7 219.0h0M152.9 218.5h0M152.5 219.0h0M153.4 218.5h0M153.0 218.2h0M155.4 218.0h0M156.9 218.2h0M156.6 218.8h0M159.1 218.9h0M161.8 218.3h0M163.3 218.6h0M163.6 218.2h0M165.0 218.9h0M166.3 218.3h0M166.1 218.7h0M166.9 218.2h0M167.1 218.5h0M168.8 218.6h0M168.0 218.9h0M170.2 219.0h0M171.8 218.1h0M171.2 218.2h0M172.0 218.6h0M175.7 218.5h0M177.5 218.4h0M178.1 218.5h0M179.0 218.4h0M180.6 218.3h0M184.2 218.9h0M185.4 218.8h0M186.5 218.3h0M198.5 218.3h0M100.0 219.1h0M120.3 219.1h0M125.8 219.7h0M130.9 219.2h0M131.2 219.5h0M131.4 219.4h0M131.1 219.1h0M131.8 219.9h0M136.1 219.1h0M136.1 219.3h0M137.5 219.9h0M139.1 219.3h0M139.8 219.9h0M143.5 219.5h0M143.3 219.1h0M144.5 219.9h0M146.6 219.9h0M149.6 219.3h0M150.4 219.5h0M151.1 219.7h0M151.4 219.5h0M152.4 219.1h0M153.1 219.8h0M156.4 219.9h0M158.2 219.5h0M160.7 219.9h0M160.5 219.4h0M162.1 219.5h0M163.0 219.4h0M163.7 219.1h0M164.8 219.9h0M165.1 219.0h0M166.5 219.1h0M167.8 219.3h0M168.1 219.6h0M170.2 219.6h0M170.5 219.6h0M172.0 219.1h0M171.8 219.2h0M172.8 219.3h0M172.6 219.9h0M173.5 219.7h0M173.0 219.1h0M173.3 219.2h0M174.6 219.3h0M175.0 219.5h0M174.3 219.9h0M178.3 219.6h0M178.9 219.7h0M178.2 219.7h0M179.8 219.2h0M179.5 219.4h0M180.1 219.6h0M181.6 219.8h0M181.6 219.8h0M184.7 219.7h0M186.7 219.5h0M191.6 219.4h0M193.8 219.6h0M193.4 219.9h0M196.0 219.8h0M205.5 219.2h0M105.9 220.1h0M105.9 220.9h0M121.6 220.1h0M123.2 220.7h0M127.2 220.8h0M128.3 220.3h0M129.7 220.9h0M130.8 220.3h0M136.9 220.6h0M136.9 221.0h0M137.2 220.3h0M138.3 220.7h0M138.9 220.9h0M139.3 220.5h0M140.3 220.5h0M141.2 220.1h0M143.8 220.6h0M143.4 220.1h0M144.1 221.0h0M148.8 220.2h0M149.9 220.5h0M155.4 220.7h0M156.9 220.7h0M158.7 220.7h0M160.8 220.7h0M160.5 220.8h0M167.1 220.5h0M168.9 220.5h0M171.4 220.7h0M172.7 220.1h0M173.9 220.6h0M174.5 220.2h0M175.4 220.7h0M176.4 220.2h0M178.3 220.5h0M181.4 221.0h0M181.0 220.8h0M182.6 220.5h0M182.5 220.8h0M183.3 220.3h0M184.6 220.9h0M184.2 220.5h0M185.8 220.5h0M186.6 220.5h0M187.9 220.5h0M189.7 220.8h0M190.1 220.0h0M193.2 220.9h0M103.7 221.4h0M105.9 221.5h0M115.1 221.8h0M117.3 221.1h0M117.9 221.5h0M122.2 221.3h0M124.1 221.4h0M128.4 221.3h0M131.0 221.7h0M134.3 221.1h0M135.2 221.1h0M137.3 221.4h0M137.8 221.5h0M139.2 221.7h0M140.1 221.3h0M140.4 221.7h0M141.9 221.7h0M142.9 221.9h0M143.0 222.0h0M144.4 221.1h0M144.8 221.6h0M144.4 221.2h0M145.8 221.6h0M149.7 221.1h0M150.4 221.3h0M150.1 221.2h0M154.3 221.2h0M156.7 221.4h0M157.1 221.1h0M158.4 221.4h0M158.3 221.9h0M158.3 222.0h0M159.0 221.5h0M161.6 221.1h0M161.1 221.4h0M162.3 221.6h0M164.8 221.1h0M164.6 221.8h0M164.8 221.3h0M164.9 221.8h0M164.6 221.0h0M165.3 221.2h0M165.9 221.6h0M166.6 221.1h0M167.8 221.6h0M169.2 221.8h0M169.4 221.9h0M170.2 221.5h0M170.2 221.5h0M171.3 221.0h0M174.1 221.6h0M174.6 221.3h0M174.3 221.6h0M178.8 221.8h0M180.6 221.2h0M182.6 221.1h0M183.0 221.1h0M184.6 221.9h0M189.9 221.3h0M202.6 221.1h0M104.0 222.1h0M106.2 222.8h0M108.7 222.5h0M111.3 222.2h0M115.6 222.2h0M118.1 222.5h0M122.9 222.5h0M124.8 222.3h0M127.6 222.7h0M130.6 222.3h0M130.5 222.1h0M132.2 222.2h0M134.5 222.9h0M137.1 222.7h0M138.7 222.3h0M138.6 222.2h0M139.1 222.6h0M142.3 222.9h0M143.5 222.4h0M145.9 222.4h0M146.6 222.4h0M148.3 222.2h0M150.2 222.9h0M152.6 222.7h0M153.3 222.6h0M157.3 222.0h0M158.9 222.6h0M159.6 222.2h0M161.2 222.8h0M161.3 222.5h0M163.1 222.9h0M163.5 222.2h0M165.4 222.4h0M166.0 223.0h0M165.8 222.5h0M166.9 222.0h0M167.0 222.4h0M168.8 222.3h0M168.2 222.7h0M172.3 222.9h0M178.1 222.8h0M179.4 222.9h0M179.6 222.7h0M181.1 222.2h0M182.6 222.3h0M186.0 222.4h0M185.8 222.3h0M193.0 222.0h0M197.2 222.8h0M101.8 223.8h0M120.2 223.8h0M124.1 223.8h0M126.1 224.0h0M126.7 223.9h0M127.7 223.4h0M127.1 224.0h0M128.6 223.0h0M133.3 224.0h0M135.4 223.3h0M136.3 223.8h0M137.5 223.0h0M139.8 223.4h0M141.2 223.2h0M144.0 223.6h0M144.2 223.8h0M144.9 223.7h0M145.2 223.9h0M146.9 223.8h0M147.8 223.4h0M147.4 223.8h0M148.4 223.2h0M149.8 223.4h0M149.6 223.8h0M150.0 223.7h0M152.7 223.0h0M153.3 223.7h0M154.7 224.0h0M154.6 223.9h0M154.9 223.8h0M154.9 223.9h0M155.5 223.4h0M157.3 223.4h0M158.4 223.2h0M158.5 223.3h0M159.4 223.1h0M169.8 223.6h0M169.3 223.5h0M170.8 223.7h0M171.2 223.9h0M171.1 223.3h0M172.5 223.7h0M172.1 223.1h0M177.0 223.4h0M176.6 223.3h0M177.4 223.5h0M179.8 223.5h0M183.6 223.1h0M183.1 223.8h0M191.0 224.0h0M190.6 223.0h0M112.2 224.2h0M117.0 224.5h0M118.5 224.5h0M118.0 224.4h0M119.4 224.1h0M120.4 224.8h0M120.8 224.2h0M121.5 224.7h0M124.7 224.0h0M127.8 224.6h0M129.1 224.3h0M129.0 224.4h0M129.6 224.5h0M133.3 224.0h0M134.1 224.8h0M135.3 224.4h0M139.3 224.5h0M139.1 224.9h0M140.2 224.2h0M142.7 224.2h0M142.2 224.4h0M143.4 224.2h0M143.2 224.1h0M145.7 224.7h0M149.9 224.2h0M149.8 224.2h0M150.3 224.4h0M150.8 224.6h0M150.0 224.1h0M151.9 224.3h0M153.9 224.8h0M155.8 224.8h0M157.7 224.5h0M157.4 224.3h0M160.7 224.6h0M163.2 224.6h0M164.0 224.8h0M164.7 224.3h0M164.7 224.1h0M164.2 224.0h0M169.8 224.1h0M170.4 224.9h0M172.0 224.5h0M173.7 224.3h0M173.0 224.0h0M173.5 224.4h0M176.7 224.5h0M177.7 224.4h0M179.0 224.3h0M179.3 224.2h0M184.0 224.1h0M187.2 224.5h0M187.4 224.4h0M190.1 224.7h0M193.8 224.1h0M103.6 225.3h0M107.5 225.7h0M117.8 225.3h0M120.4 225.6h0M124.3 225.8h0M127.8 225.2h0M127.8 225.6h0M129.2 225.6h0M133.3 225.8h0M135.1 225.4h0M138.5 225.7h0M141.5 225.6h0M142.1 225.4h0M143.2 225.2h0M143.8 225.4h0M145.3 225.0h0M146.0 225.4h0M146.4 225.9h0M146.2 225.8h0M147.3 225.9h0M149.4 225.7h0M151.9 225.5h0M151.4 225.7h0M152.9 225.8h0M154.0 225.2h0M157.8 225.6h0M157.7 225.4h0M159.4 225.7h0M159.5 225.7h0M161.1 225.9h0M162.9 225.6h0M164.8 225.4h0M164.2 225.4h0M164.7 225.3h0M166.3 225.1h0M168.0 225.4h0M170.0 225.5h0M171.1 225.8h0M174.2 225.8h0M174.4 225.6h0M176.2 225.6h0M184.8 225.6h0M185.4 225.2h0M188.2 225.4h0M190.9 225.0h0M106.0 226.4h0M110.0 226.5h0M112.1 226.1h0M115.3 226.4h0M126.7 226.6h0M133.1 226.8h0M133.7 226.9h0M136.6 226.1h0M138.2 226.4h0M139.5 226.8h0M141.0 226.6h0M141.4 226.1h0M143.8 226.3h0M144.4 226.1h0M144.5 226.7h0M145.0 226.6h0M147.1 226.2h0M149.8 226.9h0M149.1 226.1h0M149.9 226.4h0M150.3 226.3h0M153.8 226.0h0M155.0 226.6h0M155.6 226.0h0M156.7 226.9h0M157.4 226.3h0M158.8 226.6h0M159.8 226.4h0M162.5 226.2h0M163.2 227.0h0M163.9 226.9h0M164.8 226.5h0M164.9 226.3h0M166.4 226.9h0M169.9 226.3h0M170.8 226.7h0M170.7 226.4h0M170.0 226.6h0M172.8 226.9h0M173.4 226.4h0M175.9 226.8h0M176.2 226.5h0M177.7 226.9h0M177.2 226.8h0M179.7 226.8h0M181.8 227.0h0M184.0 226.6h0M120.3 227.0h0M120.9 227.9h0M123.1 227.8h0M125.3 227.1h0M125.6 227.5h0M133.0 227.8h0M134.7 227.6h0M135.4 227.3h0M142.6 227.8h0M143.0 227.9h0M146.1 227.7h0M147.4 227.2h0M149.4 227.7h0M150.0 227.6h0M150.7 227.1h0M151.9 227.7h0M151.2 227.2h0M152.2 227.0h0M153.3 227.5h0M155.2 227.1h0M156.9 227.8h0M158.9 227.6h0M158.3 227.9h0M160.5 227.7h0M161.3 227.5h0M161.3 227.9h0M162.1 227.6h0M162.4 227.5h0M163.2 227.9h0M166.1 228.0h0M166.2 227.8h0M167.4 227.0h0M167.1 227.7h0M168.7 227.8h0M169.3 227.1h0M171.1 227.2h0M172.3 227.4h0M172.2 227.5h0M173.2 228.0h0M174.2 227.6h0M174.3 227.3h0M174.2 227.1h0M174.7 227.6h0M178.6 227.5h0M182.6 227.2h0M183.6 227.0h0M113.6 228.2h0M115.4 228.5h0M117.2 228.1h0M118.7 228.4h0M126.7 228.4h0M129.3 228.7h0M134.3 228.0h0M135.6 229.0h0M135.5 228.2h0M138.3 228.2h0M138.6 228.1h0M138.8 228.3h0M139.1 228.2h0M141.2 228.3h0M144.0 228.1h0M145.6 228.3h0M146.9 228.2h0M147.3 228.1h0M150.0 228.0h0M153.0 228.9h0M152.2 228.2h0M154.4 228.0h0M156.3 228.5h0M157.0 228.8h0M156.6 228.8h0M157.9 228.3h0M159.2 228.0h0M163.3 228.9h0M170.7 228.6h0M170.3 229.0h0M172.9 228.3h0M172.1 228.4h0M177.1 228.7h0M178.7 228.8h0M182.9 228.9h0M102.6 229.6h0M106.9 229.9h0M126.6 229.2h0M130.7 229.5h0M134.9 229.8h0M137.6 229.5h0M137.8 229.4h0M140.9 229.4h0M143.4 230.0h0M143.1 229.8h0M145.9 229.3h0M145.4 230.0h0M148.8 229.4h0M149.1 229.1h0M149.7 229.6h0M150.1 229.5h0M152.4 229.5h0M153.6 229.6h0M153.7 229.5h0M155.5 229.5h0M155.1 230.0h0M156.5 229.9h0M157.6 229.8h0M158.4 229.5h0M159.2 229.2h0M159.4 230.0h0M166.3 229.0h0M169.6 230.0h0M169.2 230.0h0M169.4 229.2h0M174.1 229.6h0M176.6 229.6h0M178.6 229.9h0M179.9 230.0h0M183.9 229.8h0M189.4 229.0h0M111.4 230.6h0M114.3 230.7h0M119.7 230.8h0M129.6 230.6h0M131.8 230.1h0M135.2 230.5h0M136.4 230.3h0M137.9 230.6h0M138.6 230.9h0M140.4 230.6h0M141.4 230.9h0M141.5 231.0h0M142.3 230.1h0M145.5 230.3h0M146.6 231.0h0M149.5 230.4h0M149.5 230.2h0M155.7 231.0h0M159.0 230.9h0M158.5 230.9h0M160.2 230.1h0M161.8 230.3h0M161.8 230.4h0M163.0 231.0h0M163.3 230.4h0M163.1 230.0h0M167.1 230.3h0M170.6 230.1h0M170.6 230.3h0M172.0 230.6h0M180.0 230.8h0M185.7 230.4h0M104.4 231.6h0M119.2 231.3h0M121.1 231.2h0M122.8 231.4h0M123.6 231.7h0M123.0 231.4h0M124.3 231.8h0M135.3 231.5h0M141.9 231.6h0M143.9 231.3h0M144.5 231.4h0M145.0 231.8h0M147.5 231.1h0M148.8 231.5h0M149.4 231.3h0M149.8 231.9h0M149.5 231.8h0M150.6 231.2h0M153.0 231.0h0M153.3 231.4h0M155.4 231.9h0M158.0 231.5h0M157.4 231.2h0M159.2 231.3h0M160.9 231.3h0M160.2 231.3h0M161.6 231.9h0M162.8 231.4h0M168.1 231.8h0M169.3 231.6h0M173.2 231.5h0M115.7 232.2h0M121.1 232.3h0M126.6 232.4h0M127.9 232.5h0M128.2 232.2h0M129.2 232.2h0M134.1 232.6h0M138.1 232.7h0M139.7 232.6h0M140.1 232.8h0M140.8 232.5h0M143.0 232.9h0M146.8 232.9h0M147.2 232.9h0M147.6 232.6h0M148.9 232.7h0M149.4 232.1h0M152.3 232.2h0M152.7 232.3h0M153.3 232.6h0M154.6 232.5h0M154.3 232.5h0M157.6 232.1h0M158.8 232.1h0M159.7 232.3h0M160.6 232.5h0M164.9 232.7h0M165.6 232.6h0M167.4 232.7h0M170.9 232.5h0M185.8 232.4h0M101.5 233.9h0M111.6 233.1h0M118.6 233.7h0M129.8 233.4h0M131.8 233.5h0M132.7 233.2h0M136.0 233.8h0M137.8 233.9h0M139.0 233.8h0M139.4 233.5h0M141.0 233.8h0M142.6 233.5h0M147.1 233.3h0M149.2 233.7h0M155.3 233.3h0M155.0 233.7h0M157.9 233.9h0M162.5 233.7h0M162.4 233.5h0M164.7 233.2h0M165.9 233.4h0M168.9 233.0h0M172.0 233.3h0M173.7 233.7h0M175.9 233.8h0M177.1 233.5h0M177.9 233.1h0M177.2 234.0h0M111.3 234.9h0M114.7 234.6h0M121.9 234.2h0M121.2 234.7h0M124.9 234.1h0M138.6 234.6h0M144.4 234.2h0M145.6 234.5h0M149.7 234.1h0M149.1 234.3h0M152.0 234.1h0M154.3 234.9h0M156.2 234.9h0M157.3 234.4h0M159.0 235.0h0M161.8 234.1h0M162.7 234.0h0M163.9 234.9h0M163.3 235.0h0M164.9 234.7h0M164.8 234.7h0M165.9 234.6h0M166.9 234.3h0M167.3 234.7h0M167.9 234.7h0M168.4 234.9h0M172.8 234.6h0M173.4 234.3h0M175.4 234.6h0M175.6 234.6h0M175.1 234.4h0M176.8 234.8h0M176.4 234.9h0M184.1 234.1h0M109.8 235.1h0M116.3 235.1h0M124.4 235.2h0M125.3 235.1h0M126.2 235.1h0M135.4 235.4h0M135.0 235.5h0M137.9 235.6h0M146.5 235.4h0M150.0 235.1h0M150.2 235.2h0M153.3 235.9h0M153.7 235.5h0M154.0 235.2h0M154.6 235.4h0M155.2 235.9h0M157.0 236.0h0M157.1 235.3h0M161.0 235.3h0M162.0 235.0h0M165.0 235.1h0M166.2 235.6h0M166.6 235.1h0M168.0 235.1h0M168.0 235.8h0M168.6 235.2h0M168.7 235.2h0M113.6 236.0h0M124.8 236.9h0M129.1 236.6h0M134.0 236.8h0M135.5 236.4h0M137.6 236.7h0M139.1 236.6h0M140.7 236.0h0M142.0 236.4h0M141.4 236.3h0M165.1 236.7h0M167.0 236.8h0M171.2 237.0h0M172.6 236.1h0M176.2 236.4h0M177.4 236.0h0M114.7 237.0h0M121.3 237.1h0M122.7 237.8h0M134.7 237.6h0M136.8 237.6h0M140.9 237.9h0M140.7 237.6h0M144.8 237.5h0M146.7 237.6h0M146.1 237.3h0M147.7 237.7h0M148.7 237.4h0M152.3 237.5h0M155.9 237.3h0M156.8 237.1h0M157.2 237.7h0M157.4 237.8h0M158.9 237.3h0M158.4 237.2h0M159.5 238.0h0M165.0 237.0h0M164.4 237.3h0M166.3 237.9h0M168.7 237.2h0M169.3 237.3h0M176.1 237.1h0M177.2 237.1h0M177.3 237.4h0M118.8 238.0h0M119.7 238.1h0M137.0 238.8h0M136.2 238.1h0M138.1 238.6h0M138.8 238.0h0M138.5 238.4h0M139.8 238.3h0M141.6 239.0h0M142.6 238.5h0M144.2 238.2h0M149.9 238.0h0M152.8 238.7h0M155.6 238.9h0M155.3 238.2h0M158.3 238.9h0M159.2 238.9h0M163.4 238.7h0M172.5 238.5h0M174.8 238.9h0M114.7 239.9h0M116.8 239.4h0M116.4 239.1h0M130.4 239.1h0M132.8 239.6h0M135.1 239.2h0M141.9 239.4h0M142.8 239.5h0M143.6 239.5h0M143.1 239.1h0M144.8 239.9h0M145.3 239.4h0M148.3 239.6h0M150.2 239.4h0M150.2 239.6h0M150.6 239.6h0M156.4 239.7h0M161.9 239.5h0M163.6 239.6h0M164.4 239.4h0M165.5 239.4h0M166.5 239.1h0M167.2 239.3h0M171.7 239.3h0M171.5 239.5h0M174.1 239.9h0M114.0 240.7h0M113.8 240.3h0M125.1 240.9h0M127.8 240.1h0M139.5 240.7h0M140.8 240.8h0M142.1 240.6h0M144.0 240.5h0M144.2 240.9h0M146.1 240.2h0M153.0 240.2h0M155.7 240.5h0M156.0 240.3h0M157.5 240.7h0M158.5 240.8h0M161.9 240.3h0M166.9 240.7h0M166.2 240.3h0M167.7 240.5h0M169.7 240.2h0M172.2 240.5h0M129.2 241.5h0M129.2 241.6h0M130.5 241.1h0M135.8 241.4h0M151.6 241.5h0M152.5 241.3h0M152.1 241.1h0M154.5 241.6h0M155.5 241.6h0M155.8 241.2h0M155.1 241.8h0M157.1 241.9h0M162.0 241.7h0M170.8 241.9h0M172.4 241.7h0M173.3 241.1h0M176.1 241.7h0M176.7 241.9h0M115.8 242.4h0M119.3 242.7h0M128.9 243.0h0M130.7 242.3h0M134.3 242.4h0M134.2 242.8h0M136.3 242.7h0M138.1 243.0h0M141.8 242.3h0M143.4 242.7h0M146.7 242.2h0M147.5 242.2h0M153.4 242.2h0M155.7 242.4h0M155.8 242.7h0M157.9 242.1h0M115.6 243.9h0M119.8 243.5h0M124.2 243.9h0M126.2 243.9h0M127.2 243.9h0M132.1 243.1h0M139.2 243.7h0M144.0 243.4h0M143.6 243.3h0M145.3 243.4h0M145.3 243.9h0M145.6 243.5h0M146.5 243.7h0M147.2 243.8h0M149.1 243.4h0M152.2 243.4h0M156.3 243.0h0M160.9 243.0h0M161.8 243.3h0M161.7 243.7h0M162.8 243.7h0M163.6 243.1h0M163.8 243.8h0M164.2 243.6h0M168.4 243.2h0M169.2 243.3h0M179.7 243.8h0M109.8 244.6h0M126.5 244.5h0M131.2 244.6h0M132.9 244.2h0M135.6 244.9h0M136.2 244.4h0M139.4 244.4h0M141.9 244.6h0M141.4 245.0h0M147.6 244.8h0M153.5 244.4h0M155.0 244.3h0M155.4 244.3h0M157.3 244.4h0M159.9 244.6h0M165.3 244.7h0M167.2 244.6h0M170.5 244.1h0M115.3 245.6h0M126.8 245.6h0M131.2 245.5h0M131.8 245.0h0M138.3 245.8h0M139.2 245.7h0M143.4 245.8h0M145.5 245.2h0M148.2 245.2h0M148.6 245.7h0M151.9 245.2h0M152.1 245.5h0M154.0 245.5h0M156.7 245.4h0M175.7 245.3h0M116.5 246.4h0M123.4 246.7h0M132.7 246.5h0M132.8 246.9h0M139.6 246.7h0M144.7 246.7h0M144.3 246.3h0M146.8 246.5h0M148.0 246.3h0M157.2 246.2h0M158.6 246.7h0M159.2 246.8h0M162.4 246.3h0M167.1 246.2h0M167.8 246.0h0M167.8 246.0h0M168.9 247.0h0M173.5 246.5h0M121.8 247.6h0M130.0 247.7h0M133.0 247.4h0M148.4 247.9h0M148.9 247.9h0M158.1 247.8h0M163.3 247.8h0M167.7 247.6h0M181.3 247.4h0M127.9 248.9h0M136.4 248.4h0M139.9 248.9h0M142.4 248.9h0M143.8 248.4h0M145.1 248.9h0M157.1 248.8h0M158.2 248.4h0M159.7 248.0h0M161.3 248.3h0M165.8 248.3h0M166.9 248.2h0M170.8 249.0h0M171.6 248.1h0M125.3 249.6h0M135.1 249.2h0M141.9 249.2h0M145.5 249.6h0M145.7 249.0h0M145.7 249.1h0M148.7 249.6h0M150.6 249.3h0M156.5 249.1h0M157.0 249.2h0M161.6 249.9h0M162.3 249.2h0M167.8 249.5h0M178.2 250.0h0M118.9 250.4h0M129.9 250.6h0M130.5 250.8h0M132.1 250.3h0M133.2 250.1h0M137.8 250.6h0M139.0 250.8h0M139.6 250.6h0M145.8 250.3h0M148.8 250.8h0M152.2 250.8h0M155.4 250.9h0M157.4 250.0h0M159.4 250.2h0M162.3 250.9h0M162.2 250.4h0M164.4 250.1h0M167.1 250.9h0M168.0 250.2h0M123.8 251.4h0M130.6 251.8h0M132.8 251.3h0M134.7 251.2h0M134.1 251.2h0M137.1 251.7h0M139.2 251.4h0M142.4 251.7h0M142.3 251.6h0M145.2 251.4h0M148.2 251.2h0M157.8 251.5h0M162.1 251.2h0M125.3 252.8h0M153.1 252.1h0M154.7 252.1h0M155.7 253.0h0M166.0 252.9h0M167.9 252.9h0M173.7 252.9h0M118.9 253.0h0M122.9 253.7h0M135.6 253.4h0M136.7 253.3h0M139.2 253.1h0M141.2 253.2h0M143.9 253.8h0M143.1 253.7h0M149.2 253.8h0M149.2 253.2h0M152.1 253.1h0M163.0 253.9h0M170.5 253.1h0M133.9 254.3h0M134.9 254.5h0M152.4 254.3h0M155.2 254.0h0M157.1 254.3h0M163.7 254.5h0M167.6 254.5h0M167.6 254.6h0M130.4 255.5h0M140.9 255.7h0M150.2 255.6h0M151.4 255.0h0M155.4 255.6h0M155.0 255.6h0M131.7 256.0h0M138.8 256.1h0M138.0 256.5h0M145.3 256.3h0M147.6 256.2h0M153.4 256.7h0M155.1 256.3h0M156.8 256.3h0M161.2 256.4h0M164.4 256.7h0M124.5 257.3h0M124.9 257.9h0M129.8 257.7h0M139.7 257.6h0M140.6 257.5h0M147.2 257.5h0M149.2 257.9h0M149.6 257.5h0M162.1 257.5h0M162.4 257.8h0M146.8 259.0h0M148.6 258.0h0M155.4 258.0h0M158.2 258.3h0M161.3 258.2h0M162.6 258.7h0M163.6 258.7h0M126.3 259.5h0M134.9 259.4h0M146.8 259.2h0M148.8 259.4h0M149.6 259.6h0M157.9 259.7h0M158.6 259.9h0M130.4 260.3h0M131.6 260.3h0M131.1 260.5h0M132.6 260.0h0M134.1 260.3h0M145.0 260.7h0M148.6 260.7h0M160.3 260.4h0M163.1 260.9h0M130.6 261.5h0M134.5 261.2h0M135.7 261.2h0M159.0 261.9h0M160.0 261.3h0M135.1 262.8h0M151.1 262.3h0M153.1 262.4h0M127.1 263.9h0M138.6 263.9h0M145.8 263.8h0M145.7 263.2h0M151.4 263.7h0M155.1 263.1h0M156.2 263.7h0M158.1 263.4h0M158.2 263.9h0M169.7 263.8h0M139.5 264.8h0M145.0 264.2h0M146.7 264.8h0M152.4 264.1h0M155.9 264.3h0M132.6 265.1h0M133.1 266.0h0M143.1 265.6h0M152.4 265.6h0M141.0 266.6h0M141.6 266.9h0M149.4 266.1h0M154.8 266.1h0M147.8 267.4h0M135.0 268.6h0M145.4 268.8h0M147.0 268.1h0M148.5 268.4h0M136.0 269.8h0M146.8 269.5h0M149.5 269.2h0M153.3 270.4h0M154.8 270.0h0M149.8 271.9h0M54.9 178.5h0M57.8 179.2h0M60.5 180.1h0M62.2 181.6h0M65.4 182.2h0M67.3 183.1h0M70.4 184.2h0M72.7 185.0h0M74.9 185.7h0M77.1 186.6h0M79.9 187.2h0M82.1 188.4h0M84.5 189.6h0M86.7 190.6h0M89.6 191.3h0M91.8 192.1h0M61.6 181.7h0M64.3 183.2h0M66.7 183.9h0M68.6 185.0h0M70.9 186.3h0M73.6 186.9h0M75.5 188.2h0M78.0 188.8h0M80.1 190.2h0M82.2 191.8h0M84.7 192.0h0M86.6 194.0h0M89.1 194.5h0M91.0 196.1h0M93.5 196.7h0M96.4 198.0h0M70.9 185.7h0M73.2 187.3h0M74.7 187.8h0M77.0 189.4h0M78.7 190.9h0M80.9 191.9h0M83.0 192.3h0M84.8 194.1h0M87.1 195.4h0M89.6 196.6h0M91.1 197.6h0M93.6 199.0h0M95.5 200.6h0M97.0 201.2h0M99.5 202.9h0M102.1 203.3h0M77.4 191.0h0M80.2 192.6h0M82.1 193.7h0M83.8 195.8h0M85.8 196.6h0M88.2 198.1h0M89.7 199.4h0M92.4 200.4h0M93.8 201.9h0M96.3 203.9h0M98.3 204.4h0M99.8 206.5h0M101.9 207.9h0M104.2 208.7h0M84.5 195.1h0M86.0 197.6h0M87.8 199.3h0M90.3 200.9h0M92.4 202.8h0M95.2 204.3h0M96.4 206.4h0M98.7 207.4h0M101.0 208.5h0M102.7 210.8h0M104.9 212.1h0M106.8 213.7h0M76.5 165.4h0M78.9 167.4h0M81.6 168.4h0M83.9 170.3h0M86.2 171.5h0M69.2 162.9h0M72.6 162.0h0M75.9 161.0h0M79.1 160.0h0M82.4 157.6h0M83.9 155.8h0M86.4 154.0h0M88.9 150.4h0M90.7 148.9h0M93.3 146.9h0M95.5 144.2h0M97.6 142.0h0M100.1 140.0h0M88.2 148.2h0M89.9 145.9h0M92.0 142.8h0M94.2 140.9h0M96.5 137.9h0M99.0 135.4h0M100.8 133.2h0M102.5 130.5h0M105.0 127.7h0M95.1 134.8h0M96.4 132.0h0M99.0 130.0h0M100.5 127.4h0M102.6 125.1h0M104.2 122.3h0M106.1 119.4h0M108.2 116.5h0M109.9 113.9h0M260.0 125.0h0M274.0 146.0h0M286.0 154.0h0M268.0 169.0h0M274.0 168.0h0M261.0 185.0h0M280.0 187.0h0M262.0 205.0h0M269.0 219.0h0M258.0 220.0h0M268.0 222.0h0M255.0 196.0h0M252.0 160.0h0M257.0 150.0h0M250.0 140.0h0M262.0 180.0h0M254.0 175.0h0M258.0 230.0h0" stroke="#000" stroke-width="2" stroke-linecap="round"/>
<path d="M200.3 31.8h0M176.4 33.7h0M183.3 33.7h0M142.4 34.4h0M201.6 34.1h0M140.3 35.6h0M184.1 37.7h0M190.8 37.4h0M232.8 37.1h0M157.8 38.2h0M167.8 38.9h0M170.9 38.1h0M176.3 38.6h0M214.8 38.9h0M129.3 39.1h0M139.5 39.8h0M152.9 39.0h0M170.2 40.1h0M184.7 40.1h0M191.1 40.8h0M194.8 40.5h0M149.0 41.4h0M150.2 41.3h0M151.1 41.3h0M236.0 41.5h0M130.3 42.7h0M131.5 42.3h0M138.5 42.2h0M139.2 42.4h0M151.4 42.9h0M226.7 42.1h0M244.9 42.3h0M176.6 43.3h0M188.4 44.9h0M201.6 44.1h0M236.8 44.5h0M123.2 45.0h0M123.8 45.6h0M191.2 45.6h0M199.3 45.6h0M217.1 45.4h0M152.8 46.5h0M200.7 46.0h0M208.8 46.7h0M234.2 46.6h0M125.1 47.5h0M168.5 48.0h0M178.0 47.1h0M117.1 48.5h0M212.8 48.2h0M215.7 48.1h0M216.6 48.1h0M222.6 48.5h0M230.2 48.9h0M145.4 49.5h0M189.9 49.5h0M209.5 49.4h0M236.0 49.3h0M124.3 51.0h0M170.8 50.1h0M193.3 50.4h0M197.2 50.3h0M232.7 50.9h0M139.6 51.9h0M174.1 51.3h0M191.5 52.0h0M199.7 51.7h0M228.8 51.4h0M233.1 51.9h0M137.3 52.2h0M147.4 52.1h0M174.3 52.8h0M190.9 52.8h0M199.8 52.1h0M203.9 52.0h0M212.5 52.0h0M225.6 52.2h0M167.2 53.8h0M172.0 53.0h0M185.0 53.2h0M187.7 53.3h0M189.4 53.7h0M200.1 53.6h0M213.8 53.2h0M135.4 55.0h0M168.4 54.6h0M185.0 54.0h0M192.1 54.2h0M194.3 54.6h0M206.5 54.2h0M211.9 54.8h0M212.1 54.6h0M232.2 54.7h0M242.5 54.6h0M132.0 55.6h0M156.2 55.7h0M191.7 55.5h0M194.1 55.4h0M213.8 55.6h0M222.7 55.2h0M225.2 55.5h0M133.9 56.6h0M168.4 56.0h0M169.8 56.2h0M187.9 56.5h0M206.7 56.9h0M214.5 56.5h0M218.9 56.7h0M229.3 56.3h0M150.4 57.1h0M167.1 57.7h0M184.9 57.1h0M187.8 57.5h0M194.0 57.1h0M198.9 57.7h0M213.8 57.1h0M223.9 57.7h0M248.3 57.8h0M130.8 58.7h0M156.4 58.9h0M173.9 58.8h0M173.8 58.2h0M183.7 58.3h0M201.8 58.8h0M202.8 58.5h0M223.0 58.6h0M126.6 59.8h0M135.7 59.7h0M156.3 59.4h0M165.4 59.6h0M172.2 59.3h0M173.4 59.4h0M181.0 60.0h0M183.0 59.1h0M190.4 59.3h0M197.2 59.7h0M215.3 59.8h0M221.7 59.5h0M223.8 59.8h0M227.3 59.8h0M229.4 59.5h0M132.6 60.4h0M142.8 60.9h0M161.7 60.1h0M180.8 60.2h0M191.7 61.0h0M196.8 60.0h0M198.1 60.6h0M227.1 60.4h0M230.8 60.4h0M163.0 61.4h0M174.0 61.4h0M192.9 61.3h0M193.2 61.1h0M223.6 61.5h0M225.3 61.3h0M249.1 61.2h0M137.6 62.7h0M156.4 62.8h0M187.7 62.7h0M206.5 63.0h0M222.5 62.4h0M228.6 62.1h0M231.9 62.7h0M241.6 62.3h0M116.1 63.6h0M170.6 63.6h0M171.8 63.3h0M193.0 63.8h0M194.2 63.7h0M210.1 63.5h0M157.5 64.2h0M158.1 64.2h0M184.8 64.8h0M196.9 64.5h0M214.3 64.2h0M216.7 64.1h0M248.7 64.2h0M253.2 64.1h0M120.7 65.1h0M145.5 65.8h0M174.2 65.6h0M185.0 65.2h0M186.2 65.5h0M202.3 65.3h0M208.2 65.7h0M209.6 65.5h0M212.0 65.9h0M224.5 65.1h0M233.8 65.7h0M133.8 66.1h0M144.8 66.6h0M148.2 66.5h0M163.7 66.8h0M197.9 66.7h0M208.6 66.9h0M214.4 66.6h0M220.5 66.6h0M223.4 66.8h0M117.5 67.7h0M118.2 67.3h0M125.8 67.9h0M135.1 67.1h0M150.3 67.3h0M150.4 67.8h0M173.3 67.4h0M190.6 67.3h0M204.6 67.1h0M235.9 67.4h0M162.6 68.4h0M164.2 68.8h0M164.5 68.6h0M172.1 68.2h0M173.8 68.1h0M180.6 68.7h0M187.7 68.3h0M192.4 69.0h0M204.9 68.9h0M206.4 68.8h0M210.0 68.7h0M215.8 68.7h0M216.9 69.0h0M217.2 68.3h0M229.1 68.8h0M136.0 69.9h0M188.2 69.9h0M191.5 69.0h0M200.8 69.8h0M202.3 69.5h0M205.3 69.5h0M216.9 69.0h0M236.0 69.7h0M147.3 70.4h0M153.5 70.6h0M176.0 70.2h0M180.8 70.8h0M189.0 70.5h0M189.8 70.1h0M219.1 70.7h0M222.2 70.2h0M233.0 70.8h0M127.3 71.3h0M133.6 71.1h0M142.7 71.3h0M153.8 72.0h0M153.6 71.3h0M158.0 71.8h0M161.4 71.0h0M163.9 71.1h0M176.7 71.8h0M185.4 72.0h0M206.2 71.0h0M210.5 71.4h0M219.9 71.2h0M224.7 71.2h0M236.6 71.3h0M157.0 72.5h0M159.5 72.8h0M162.6 72.7h0M163.9 72.9h0M186.5 72.2h0M192.9 72.4h0M199.8 72.3h0M201.4 72.1h0M205.7 72.3h0M213.7 72.2h0M226.6 72.7h0M230.1 72.4h0M235.6 72.5h0M236.9 72.2h0M142.9 73.3h0M152.9 73.1h0M171.4 73.3h0M175.0 73.7h0M203.5 73.6h0M224.9 73.7h0M237.0 73.1h0M173.0 74.5h0M181.8 74.2h0M184.0 74.1h0M219.4 74.0h0M225.4 74.3h0M260.7 74.0h0M155.7 75.2h0M156.9 75.7h0M205.0 75.7h0M207.7 75.8h0M218.5 75.5h0M137.0 76.2h0M145.8 76.0h0M156.5 76.7h0M157.9 76.5h0M158.6 76.0h0M168.0 76.5h0M198.2 76.5h0M214.1 76.5h0M251.5 76.6h0M141.0 77.1h0M140.7 77.8h0M156.9 77.1h0M168.1 77.1h0M173.9 77.9h0M174.5 77.0h0M177.0 77.2h0M179.3 78.0h0M183.2 77.4h0M190.5 77.2h0M191.5 77.4h0M211.5 77.0h0M224.9 77.4h0M116.7 78.4h0M142.3 78.7h0M148.3 78.6h0M157.4 78.7h0M188.4 78.1h0M214.4 78.4h0M218.6 78.7h0M221.8 78.6h0M222.1 78.2h0M224.3 78.0h0M236.8 78.5h0M239.2 78.2h0M181.5 79.7h0M187.1 79.1h0M200.2 79.5h0M209.4 79.3h0M241.1 79.8h0M131.2 80.9h0M152.9 80.2h0M157.1 80.8h0M205.1 80.6h0M206.3 80.0h0M153.7 81.7h0M182.1 81.7h0M193.5 81.3h0M198.3 81.1h0M235.9 81.2h0M163.8 82.1h0M173.1 82.6h0M189.9 82.9h0M208.3 82.2h0M213.0 82.8h0M217.0 82.4h0M221.7 82.7h0M227.6 82.9h0M242.3 82.5h0M159.1 83.1h0M178.9 83.7h0M182.8 83.1h0M185.2 83.6h0M188.5 83.1h0M203.8 84.0h0M205.2 83.1h0M214.3 83.9h0M229.0 83.7h0M149.6 84.6h0M159.1 84.7h0M171.1 84.3h0M195.0 85.0h0M199.1 84.1h0M208.8 84.5h0M213.4 84.5h0M224.4 84.5h0M242.2 84.0h0M157.1 85.9h0M158.2 85.4h0M180.1 85.8h0M184.6 85.7h0M184.5 85.8h0M186.8 85.4h0M190.4 85.5h0M120.7 86.3h0M125.8 86.4h0M172.1 86.3h0M173.8 86.1h0M174.8 86.6h0M202.2 86.2h0M204.5 86.3h0M212.7 86.6h0M217.3 86.6h0M221.3 86.3h0M232.2 87.0h0M232.1 86.8h0M232.4 86.0h0M235.7 86.4h0M238.5 87.0h0M147.4 87.2h0M152.0 87.3h0M152.3 87.2h0M152.1 87.1h0M163.0 87.2h0M179.3 87.3h0M196.7 87.2h0M197.5 87.2h0M201.0 87.9h0M205.9 87.6h0M207.0 87.2h0M209.3 87.9h0M211.4 87.3h0M214.9 87.9h0M219.3 87.5h0M221.0 87.8h0M233.4 87.4h0M234.2 87.6h0M143.6 88.9h0M178.3 88.9h0M179.8 88.3h0M180.7 89.0h0M184.9 88.4h0M191.8 88.7h0M191.2 88.0h0M204.1 88.4h0M214.3 88.5h0M229.2 88.8h0M237.9 88.2h0M249.1 88.4h0M172.2 89.5h0M184.8 90.0h0M191.5 89.5h0M221.5 89.7h0M221.7 89.1h0M223.9 89.5h0M230.3 89.9h0M244.1 89.7h0M161.3 90.1h0M171.9 90.2h0M173.8 90.0h0M186.0 91.0h0M188.2 90.2h0M206.3 90.1h0M206.6 90.5h0M209.7 90.5h0M219.8 90.3h0M223.4 90.5h0M225.3 90.8h0M245.7 90.9h0M184.7 91.8h0M185.9 91.1h0M185.9 91.8h0M193.8 91.9h0M197.3 91.6h0M200.2 91.2h0M203.6 91.6h0M209.5 91.5h0M211.6 91.9h0M212.8 91.6h0M220.2 91.2h0M226.0 91.2h0M227.6 91.4h0M238.6 91.9h0M174.0 92.5h0M179.3 92.2h0M191.6 92.9h0M198.8 92.2h0M198.5 92.4h0M209.3 93.0h0M212.6 92.0h0M215.7 92.4h0M216.7 92.5h0M222.9 92.1h0M224.0 92.3h0M228.6 92.1h0M230.6 92.4h0M233.5 92.9h0M152.5 93.6h0M182.8 93.1h0M185.7 93.0h0M189.7 93.6h0M191.3 93.5h0M195.3 94.0h0M195.4 93.3h0M199.3 93.0h0M205.9 93.3h0M211.5 93.3h0M214.6 93.6h0M219.1 93.7h0M221.7 93.9h0M222.1 93.6h0M226.2 93.2h0M231.2 93.4h0M233.3 93.3h0M236.0 93.8h0M241.8 93.5h0M244.7 93.4h0M249.7 93.3h0M251.4 93.8h0M165.7 94.9h0M168.2 94.4h0M174.4 94.5h0M183.8 94.8h0M190.0 94.0h0M191.2 94.2h0M193.7 94.5h0M206.9 94.5h0M207.3 94.5h0M222.3 94.6h0M231.2 95.0h0M232.5 94.9h0M237.6 94.7h0M240.3 94.3h0M169.0 95.1h0M171.7 95.4h0M173.2 95.3h0M176.7 95.8h0M178.3 95.7h0M186.6 95.5h0M189.4 95.9h0M191.4 95.8h0M195.7 95.3h0M196.7 95.7h0M200.0 95.0h0M201.6 95.2h0M202.0 95.7h0M203.7 95.1h0M203.3 95.1h0M206.7 95.4h0M212.2 95.6h0M223.5 95.2h0M227.0 95.7h0M232.2 95.3h0M234.8 95.1h0M240.3 95.5h0M161.4 96.3h0M169.3 96.2h0M171.3 96.3h0M182.9 96.3h0M182.2 96.8h0M183.6 96.1h0M184.1 96.9h0M189.8 96.2h0M189.4 96.4h0M190.8 96.9h0M194.5 96.8h0M195.9 96.5h0M200.0 96.8h0M202.0 96.6h0M206.0 96.2h0M211.0 96.6h0M211.3 96.6h0M222.7 96.9h0M227.6 96.3h0M163.7 97.9h0M172.9 97.1h0M179.2 97.2h0M179.1 97.1h0M180.8 97.5h0M181.5 97.2h0M188.6 97.3h0M189.3 97.6h0M191.8 97.9h0M195.9 97.1h0M196.9 97.4h0M197.3 97.3h0M198.8 97.5h0M199.2 97.5h0M202.0 97.1h0M208.0 97.6h0M214.2 97.9h0M218.8 97.9h0M222.9 97.6h0M223.7 97.1h0M232.7 97.8h0M237.3 97.1h0M250.2 97.9h0M251.6 97.7h0M164.5 98.1h0M172.3 98.9h0M172.1 98.3h0M177.5 98.6h0M179.6 98.3h0M187.0 98.1h0M186.9 98.5h0M193.6 98.0h0M198.9 98.5h0M200.7 98.4h0M203.8 98.9h0M205.2 98.8h0M208.1 98.6h0M208.6 98.4h0M209.4 98.3h0M210.2 98.8h0M213.7 98.9h0M214.5 98.5h0M215.4 98.2h0M220.2 98.5h0M221.0 98.6h0M227.7 98.4h0M237.7 98.6h0M240.4 98.8h0M171.1 99.4h0M175.2 99.3h0M178.6 99.2h0M179.0 99.9h0M181.9 100.0h0M190.8 99.2h0M190.6 99.4h0M190.1 99.4h0M195.1 99.1h0M206.3 99.6h0M207.7 99.6h0M207.6 99.3h0M207.9 99.6h0M208.7 99.0h0M210.4 99.2h0M213.2 99.4h0M225.3 99.3h0M228.8 99.8h0M228.7 99.3h0M237.5 99.5h0M178.5 100.6h0M182.7 100.1h0M189.6 100.3h0M192.8 100.8h0M194.9 100.5h0M194.6 100.1h0M197.2 100.8h0M200.7 100.4h0M205.5 100.6h0M206.3 100.3h0M207.1 100.8h0M208.6 100.5h0M211.4 101.0h0M213.6 100.9h0M221.5 100.8h0M235.2 100.1h0M240.1 100.9h0M255.8 101.0h0M168.7 101.3h0M169.5 101.8h0M174.1 102.0h0M177.1 101.8h0M179.5 101.8h0M180.0 101.2h0M179.3 101.9h0M180.2 101.0h0M182.8 101.6h0M183.2 101.5h0M184.1 101.3h0M186.1 101.8h0M187.9 101.6h0M187.5 101.9h0M188.8 101.3h0M189.2 101.6h0M190.6 101.9h0M190.8 101.5h0M199.4 102.0h0M201.2 101.6h0M205.9 101.3h0M207.5 101.7h0M207.4 101.0h0M207.9 101.3h0M211.8 101.5h0M220.4 102.0h0M222.0 101.2h0M221.0 101.7h0M222.3 101.5h0M223.2 101.9h0M226.7 101.3h0M227.2 101.4h0M229.7 101.6h0M169.3 102.6h0M172.5 102.7h0M175.9 102.3h0M178.0 102.6h0M178.3 102.4h0M180.0 102.4h0M180.7 102.2h0M180.9 102.9h0M183.8 102.1h0M184.9 102.4h0M186.9 102.7h0M192.4 102.4h0M193.4 102.3h0M196.4 102.7h0M198.1 102.4h0M203.2 102.5h0M206.9 102.7h0M207.6 102.6h0M209.3 102.2h0M213.2 102.6h0M213.8 102.5h0M216.2 102.6h0M222.5 102.7h0M235.3 102.1h0M237.3 102.8h0M260.9 102.3h0M168.6 103.8h0M171.3 103.9h0M182.9 103.1h0M185.3 103.2h0M186.7 103.8h0M189.5 104.0h0M189.8 103.3h0M190.3 103.1h0M190.7 103.1h0M192.6 103.2h0M204.0 103.4h0M204.4 103.8h0M204.3 103.8h0M205.9 103.3h0M206.1 103.5h0M209.4 104.0h0M212.3 103.1h0M214.3 103.5h0M216.4 103.9h0M217.7 103.2h0M218.8 103.7h0M225.7 103.6h0M230.3 103.5h0M232.7 103.7h0M236.5 103.6h0M238.3 103.8h0M241.9 103.1h0M241.6 103.9h0M163.0 105.0h0M175.7 104.4h0M177.8 104.4h0M181.8 104.6h0M183.1 104.5h0M186.0 104.6h0M187.9 104.2h0M190.0 104.0h0M199.7 104.6h0M202.9 104.4h0M204.5 104.9h0M204.7 104.7h0M207.1 104.4h0M209.0 104.8h0M208.6 104.5h0M211.9 104.7h0M213.6 104.8h0M215.0 104.8h0M218.3 104.7h0M220.9 104.6h0M222.6 104.0h0M225.6 104.9h0M225.0 104.4h0M229.6 104.9h0M236.9 104.5h0M238.5 104.2h0M239.1 104.3h0M240.2 104.2h0M175.6 105.5h0M175.4 105.1h0M177.4 105.6h0M182.6 105.5h0M184.3 105.8h0M186.2 105.3h0M187.4 105.5h0M187.1 105.9h0M191.9 105.3h0M197.6 105.2h0M201.9 106.0h0M204.5 105.3h0M208.0 105.8h0M208.6 105.7h0M211.5 105.3h0M212.2 105.3h0M219.1 105.1h0M220.7 105.5h0M221.5 105.8h0M223.5 105.3h0M224.6 105.6h0M229.8 105.4h0M236.5 105.1h0M239.6 105.4h0M240.4 105.8h0M243.0 105.5h0M254.5 105.4h0M168.0 106.6h0M184.5 106.9h0M188.4 106.6h0M191.3 106.2h0M193.9 106.7h0M194.3 106.2h0M196.2 106.2h0M199.8 106.7h0M199.9 106.1h0M203.5 106.8h0M204.1 106.1h0M204.9 106.3h0M206.6 106.5h0M209.1 106.0h0M211.2 106.6h0M213.3 106.1h0M215.0 106.8h0M216.6 106.4h0M217.4 106.1h0M223.6 106.7h0M224.6 106.5h0M226.6 106.3h0M230.1 106.3h0M235.3 106.9h0M242.4 106.8h0M164.7 107.8h0M173.1 107.6h0M174.0 107.8h0M174.7 107.1h0M175.6 107.4h0M176.0 107.4h0M176.1 107.4h0M179.2 107.4h0M179.0 107.6h0M180.3 108.0h0M181.0 108.0h0M187.3 107.1h0M189.3 107.0h0M190.0 107.2h0M190.8 107.8h0M194.4 107.8h0M195.8 107.3h0M207.6 107.8h0M208.3 107.1h0M209.9 107.0h0M212.6 108.0h0M216.6 107.8h0M218.2 107.8h0M219.4 107.1h0M219.7 107.7h0M220.8 107.8h0M224.6 107.3h0M229.4 107.7h0M232.6 108.0h0M236.8 107.3h0M247.2 107.8h0M161.9 108.4h0M171.2 108.3h0M183.2 108.2h0M188.8 108.3h0M190.8 108.7h0M191.6 108.6h0M192.8 108.4h0M193.1 108.8h0M196.3 108.2h0M198.0 108.2h0M212.2 108.6h0M213.2 108.9h0M216.0 108.5h0M216.2 108.4h0M216.7 108.6h0M221.9 108.2h0M221.5 108.7h0M221.3 108.6h0M226.1 108.0h0M161.6 109.7h0M172.3 109.8h0M175.9 109.6h0M175.2 109.4h0M178.8 109.8h0M179.1 109.3h0M180.3 109.6h0M181.6 109.4h0M186.3 109.8h0M190.4 109.8h0M196.0 109.4h0M203.5 109.2h0M204.3 109.6h0M212.4 109.2h0M212.1 109.6h0M215.8 109.3h0M216.6 109.3h0M216.9 109.5h0M220.2 109.3h0M230.3 109.8h0M243.5 109.0h0M256.5 109.4h0M185.9 110.9h0M186.6 110.2h0M187.2 110.8h0M189.0 110.5h0M188.6 110.2h0M190.6 110.7h0M190.7 110.8h0M190.6 110.0h0M191.7 110.0h0M191.2 110.2h0M193.1 110.1h0M195.2 110.5h0M197.3 111.0h0M204.3 110.2h0M207.3 110.9h0M208.0 110.2h0M209.1 110.8h0M212.5 110.1h0M217.7 110.7h0M219.1 110.7h0M220.5 110.7h0M220.5 110.5h0M221.9 111.0h0M223.8 110.4h0M224.7 110.9h0M226.7 110.7h0M226.4 110.4h0M231.2 110.1h0M239.2 111.0h0M173.5 111.2h0M181.5 111.4h0M182.9 111.8h0M185.7 111.5h0M188.0 111.3h0M189.4 111.9h0M196.6 111.6h0M199.4 111.2h0M205.0 111.8h0M205.3 111.9h0M207.0 111.9h0M208.5 111.3h0M208.4 111.3h0M209.3 111.8h0M210.3 111.5h0M212.8 111.2h0M216.5 111.1h0M218.4 111.8h0M219.2 111.7h0M219.9 111.2h0M221.7 111.7h0M222.7 111.9h0M225.4 111.7h0M226.1 111.5h0M227.9 111.2h0M228.3 112.0h0M232.4 111.3h0M238.7 111.9h0M168.1 113.0h0M179.1 112.6h0M184.5 112.4h0M184.6 112.9h0M184.7 113.0h0M188.4 112.2h0M195.8 112.1h0M197.9 112.2h0M206.7 112.3h0M206.9 112.5h0M210.4 112.4h0M213.1 112.6h0M216.0 113.0h0M220.5 112.8h0M221.4 112.7h0M222.5 112.7h0M229.6 112.9h0M234.2 112.6h0M246.5 112.6h0M254.1 112.3h0M173.1 113.7h0M179.0 113.5h0M181.4 113.5h0M185.3 113.7h0M186.4 113.3h0M189.8 113.9h0M193.2 113.9h0M196.3 113.1h0M196.4 113.7h0M201.5 113.8h0M202.3 113.5h0M206.9 113.6h0M209.2 113.5h0M209.4 113.3h0M210.2 113.6h0M212.2 113.3h0M214.0 113.6h0M214.4 113.6h0M215.1 113.1h0M216.4 113.2h0M218.7 113.3h0M219.1 113.9h0M221.7 113.8h0M224.0 113.4h0M228.0 113.5h0M231.0 113.5h0M233.7 113.5h0M240.3 113.5h0M177.7 114.2h0M184.6 114.8h0M189.6 114.5h0M193.9 114.3h0M197.9 114.8h0M198.1 114.1h0M201.4 114.6h0M203.8 114.6h0M208.1 114.1h0M210.5 114.1h0M213.6 114.6h0M220.4 114.5h0M221.3 114.7h0M223.2 114.4h0M224.4 114.5h0M226.0 114.3h0M234.9 115.0h0M237.8 114.4h0M243.4 114.8h0M250.9 114.4h0M250.0 114.4h0M179.0 115.7h0M186.5 115.4h0M188.5 115.9h0M189.3 115.6h0M191.7 115.9h0M192.1 115.7h0M200.5 115.1h0M207.3 115.1h0M207.6 115.8h0M209.9 115.3h0M213.8 115.3h0M215.0 115.9h0M215.9 115.9h0M216.0 115.4h0M218.2 115.2h0M228.8 115.6h0M228.8 115.5h0M231.5 115.8h0M233.8 115.3h0M234.9 115.4h0M177.1 116.8h0M180.4 116.1h0M181.0 116.4h0M182.0 116.0h0M185.4 116.1h0M197.1 116.4h0M200.0 116.2h0M205.0 116.1h0M204.9 116.3h0M204.1 116.6h0M208.1 116.8h0M216.9 116.6h0M217.2 116.6h0M217.6 116.1h0M218.3 117.0h0M219.8 116.2h0M222.6 116.0h0M226.0 116.8h0M227.1 116.6h0M227.5 116.4h0M228.5 116.9h0M229.3 116.8h0M230.9 116.6h0M238.1 116.1h0M239.0 116.8h0M257.0 116.0h0M178.7 117.3h0M183.7 117.8h0M183.6 117.1h0M187.5 117.3h0M192.9 117.7h0M194.6 117.8h0M197.2 117.7h0M198.2 117.4h0M206.1 117.9h0M206.5 117.0h0M208.1 117.9h0M208.9 117.5h0M209.1 117.7h0M211.1 117.4h0M213.2 117.5h0M220.7 117.3h0M220.0 117.1h0M221.4 117.9h0M222.3 117.4h0M222.3 117.3h0M223.2 117.7h0M227.7 117.4h0M228.7 117.4h0M231.6 117.4h0M232.4 117.9h0M234.9 117.1h0M235.9 117.5h0M235.1 117.7h0M236.8 117.3h0M239.4 117.8h0M169.9 118.3h0M182.8 119.0h0M187.9 118.5h0M189.9 118.2h0M189.5 118.5h0M193.4 118.6h0M199.1 118.4h0M209.5 118.9h0M211.4 118.4h0M213.6 118.8h0M216.4 118.7h0M216.4 118.2h0M227.5 118.6h0M231.3 118.5h0M260.8 118.4h0M180.0 119.1h0M193.6 119.6h0M197.6 120.0h0M198.8 119.8h0M198.8 119.5h0M199.7 119.8h0M202.8 119.8h0M203.9 119.9h0M206.1 119.1h0M207.2 119.8h0M212.8 119.5h0M215.2 119.2h0M215.1 119.8h0M220.7 119.8h0M220.3 119.2h0M222.3 119.2h0M222.5 119.1h0M223.8 119.3h0M228.1 119.6h0M229.1 119.2h0M232.7 119.4h0M235.3 119.9h0M175.3 120.6h0M188.1 121.0h0M190.4 120.9h0M191.1 120.4h0M191.5 120.5h0M195.1 120.7h0M199.8 120.3h0M202.6 120.5h0M202.4 120.9h0M204.9 120.9h0M206.6 120.4h0M207.3 120.7h0M208.4 120.1h0M212.7 120.4h0M212.2 120.5h0M213.4 120.6h0M214.7 120.6h0M215.0 120.9h0M218.9 120.7h0M222.5 120.0h0M223.0 120.9h0M223.1 120.2h0M223.8 121.0h0M226.1 120.9h0M227.5 120.9h0M232.6 120.7h0M236.3 120.5h0M237.1 121.0h0M239.3 120.8h0M251.5 120.8h0M177.3 122.0h0M184.1 121.5h0M186.9 121.5h0M190.3 121.9h0M191.0 121.7h0M191.7 121.6h0M191.1 121.2h0M195.9 121.7h0M200.6 121.2h0M202.1 121.8h0M204.1 121.3h0M206.8 121.7h0M208.2 121.1h0M209.0 121.7h0M209.7 121.1h0M213.9 121.8h0M218.3 121.6h0M221.1 121.3h0M221.3 122.0h0M223.7 121.3h0M224.3 121.1h0M234.1 121.8h0M236.0 121.3h0M242.7 121.5h0M257.1 121.3h0M187.4 123.0h0M188.8 122.1h0M191.8 122.3h0M195.3 122.6h0M202.7 122.5h0M203.2 122.4h0M207.3 122.4h0M207.8 122.4h0M211.1 122.0h0M213.3 122.5h0M214.8 122.0h0M214.4 122.8h0M215.8 122.9h0M216.6 122.0h0M219.3 123.0h0M220.8 122.0h0M221.9 122.7h0M222.8 122.9h0M223.7 123.0h0M225.3 122.9h0M226.9 122.4h0M239.7 122.6h0M240.3 122.1h0M187.0 123.9h0M189.9 123.6h0M197.2 123.2h0M197.2 123.7h0M201.8 123.7h0M202.2 123.0h0M204.3 123.7h0M205.0 123.9h0M205.4 123.9h0M205.2 123.4h0M207.7 123.9h0M210.6 123.4h0M213.6 123.7h0M214.8 123.6h0M216.9 123.7h0M219.9 123.5h0M220.5 123.7h0M225.2 123.4h0M227.1 123.7h0M229.9 123.3h0M231.9 123.1h0M232.8 123.2h0M235.2 123.0h0M238.2 123.3h0M184.9 124.4h0M187.2 124.8h0M190.2 124.8h0M193.4 124.8h0M201.0 124.3h0M204.6 124.3h0M208.4 124.3h0M211.9 124.0h0M212.0 124.7h0M215.6 124.2h0M215.5 124.9h0M219.8 124.6h0M222.4 124.3h0M223.6 124.1h0M228.7 124.0h0M232.2 124.3h0M232.1 124.3h0M232.6 124.4h0M233.3 124.4h0M245.3 124.2h0M188.4 125.9h0M200.1 125.7h0M202.3 125.8h0M203.8 125.9h0M208.1 125.9h0M208.5 125.7h0M210.8 125.8h0M212.4 125.7h0M225.0 125.2h0M225.4 125.4h0M227.7 125.9h0M229.8 125.3h0M238.6 125.8h0M246.7 125.1h0M188.8 126.0h0M191.6 126.5h0M191.8 126.7h0M194.1 126.9h0M196.9 126.6h0M200.7 126.2h0M202.9 126.6h0M202.9 126.2h0M203.5 126.4h0M208.0 126.3h0M208.0 126.4h0M210.4 126.7h0M211.7 127.0h0M215.5 126.6h0M216.5 126.4h0M216.2 126.4h0M220.1 126.1h0M223.2 126.7h0M223.0 126.0h0M229.7 126.3h0M238.1 126.1h0M238.7 126.7h0M254.5 126.1h0M259.6 126.8h0M178.2 127.3h0M192.1 127.8h0M192.2 127.7h0M194.7 127.9h0M195.1 127.4h0M196.9 127.1h0M198.2 127.3h0M207.8 127.4h0M211.8 127.8h0M217.2 127.2h0M218.3 127.1h0M229.8 127.2h0M234.7 127.6h0M239.7 127.1h0M240.2 127.9h0M241.2 127.1h0M183.0 128.4h0M196.5 128.4h0M197.1 128.1h0M197.7 129.0h0M204.1 128.9h0M207.7 128.3h0M208.2 128.4h0M213.6 129.0h0M214.7 128.2h0M221.9 128.1h0M225.5 128.8h0M226.8 128.1h0M227.5 128.9h0M228.8 128.2h0M229.6 128.4h0M230.8 128.9h0M232.6 129.0h0M234.9 129.0h0M236.4 128.4h0M255.5 128.2h0M191.7 129.7h0M202.1 129.0h0M204.5 129.1h0M206.1 129.3h0M207.5 129.7h0M208.3 129.1h0M211.6 129.1h0M211.4 129.8h0M213.6 129.4h0M217.4 129.5h0M218.7 129.0h0M219.3 129.3h0M220.3 130.0h0M222.9 129.5h0M224.0 129.6h0M224.5 129.9h0M225.8 129.2h0M230.8 129.7h0M233.2 129.1h0M200.0 130.2h0M201.3 130.5h0M203.0 130.9h0M204.0 131.0h0M206.9 130.4h0M208.6 130.8h0M209.1 130.0h0M210.7 130.4h0M215.2 130.8h0M223.0 130.4h0M223.7 130.3h0M224.4 130.3h0M229.8 130.9h0M234.8 130.2h0M240.8 130.7h0M242.1 130.7h0M246.1 130.2h0M185.5 131.5h0M195.0 131.0h0M194.9 131.3h0M205.6 131.3h0M205.2 131.0h0M207.2 131.4h0M208.9 131.6h0M210.2 131.1h0M211.4 131.5h0M213.6 131.7h0M213.6 131.1h0M216.9 131.9h0M217.0 131.6h0M218.3 131.7h0M220.5 132.0h0M225.4 131.1h0M229.4 131.6h0M233.9 131.1h0M194.1 133.0h0M200.9 132.5h0M201.9 132.2h0M205.6 132.0h0M209.3 132.3h0M212.0 132.8h0M214.5 132.5h0M215.4 132.8h0M215.6 132.8h0M215.6 132.8h0M219.1 132.1h0M222.0 132.5h0M222.9 132.7h0M222.6 132.6h0M230.1 132.8h0M233.2 132.8h0M234.9 132.2h0M237.4 132.8h0M237.6 132.3h0M240.9 132.1h0M240.4 132.4h0M241.2 132.9h0M241.9 132.2h0M185.8 133.3h0M197.4 133.1h0M202.8 133.6h0M203.7 133.8h0M207.4 133.1h0M207.7 133.5h0M209.0 133.7h0M209.2 133.7h0M210.7 133.8h0M211.7 134.0h0M211.0 133.2h0M217.4 133.5h0M218.2 133.4h0M221.9 133.5h0M221.3 133.4h0M225.8 133.6h0M230.4 134.0h0M230.2 133.8h0M232.2 133.6h0M200.7 134.9h0M202.9 134.1h0M204.1 134.2h0M206.0 134.1h0M208.8 134.9h0M209.7 134.7h0M209.8 134.6h0M214.7 134.4h0M216.8 134.3h0M221.1 134.0h0M222.9 134.6h0M223.5 134.8h0M223.3 134.3h0M226.9 134.4h0M227.2 134.9h0M228.2 134.4h0M228.2 134.9h0M229.0 134.4h0M230.3 134.5h0M232.8 134.7h0M233.4 134.7h0M189.9 135.6h0M197.5 135.8h0M203.8 135.5h0M204.9 135.2h0M205.9 135.4h0M205.6 135.8h0M207.7 135.9h0M211.4 135.4h0M213.1 135.2h0M213.7 135.3h0M217.5 135.8h0M220.8 135.8h0M220.5 135.3h0M234.9 135.8h0M250.8 135.7h0M190.5 136.2h0M195.2 136.3h0M201.8 136.8h0M202.5 136.1h0M207.6 136.8h0M208.4 137.0h0M213.3 136.0h0M213.1 136.1h0M214.9 137.0h0M222.5 136.9h0M225.5 136.1h0M230.9 136.5h0M231.7 137.0h0M244.6 136.1h0M198.1 137.7h0M214.6 137.1h0M215.9 137.3h0M216.5 137.2h0M216.1 137.4h0M220.8 137.1h0M223.9 137.7h0M225.3 137.6h0M225.0 137.3h0M231.5 137.1h0M231.3 137.0h0M233.8 137.2h0M235.7 137.3h0M245.6 137.9h0M207.1 138.6h0M212.8 138.0h0M215.4 138.8h0M215.6 138.7h0M221.8 139.0h0M230.7 138.9h0M239.2 138.7h0M207.6 139.3h0M207.1 139.7h0M208.5 139.3h0M212.1 139.9h0M214.3 139.9h0M214.5 139.6h0M215.4 139.9h0M217.5 139.9h0M219.7 139.7h0M224.1 139.8h0M227.4 139.4h0M246.1 139.3h0M206.8 141.0h0M211.0 140.2h0M211.2 141.0h0M216.9 140.8h0M219.7 140.2h0M221.5 140.7h0M222.0 140.8h0M230.0 140.1h0M230.7 140.9h0M233.5 140.3h0M205.0 141.3h0M206.9 141.7h0M213.4 141.1h0M221.3 141.5h0M221.1 141.8h0M223.4 141.7h0M229.1 141.6h0M230.6 141.8h0M209.8 143.0h0M213.6 142.8h0M213.2 142.5h0M220.4 142.1h0M223.7 143.0h0M223.8 142.6h0M223.9 142.7h0M223.7 142.0h0M228.0 142.2h0M233.4 142.3h0M237.6 142.8h0M251.5 142.5h0M205.6 143.2h0M218.1 143.4h0M218.4 144.0h0M221.7 143.6h0M229.2 143.0h0M238.9 143.6h0M216.6 145.0h0M237.2 144.3h0M226.4 145.3h0M229.0 145.5h0M238.2 145.6h0M225.3 146.7h0M226.2 146.2h0M245.7 146.9h0M213.7 147.5h0M240.1 147.8h0M246.4 148.1h0M233.3 149.2h0M243.0 149.1h0M226.6 150.4h0M254.4 150.7h0M224.4 152.3h0M227.9 153.9h0M243.2 155.0h0M231.9 158.2h0M233.5 158.1h0M241.7 192.0h0M249.4 192.6h0M242.7 193.3h0M241.6 194.2h0M250.6 196.0h0M225.2 197.1h0M230.4 197.7h0M233.6 197.8h0M239.5 197.3h0M221.5 198.6h0M230.0 198.2h0M232.1 198.4h0M245.8 198.2h0M229.5 199.8h0M239.1 199.7h0M231.1 200.2h0M221.4 201.4h0M225.2 201.4h0M235.5 201.7h0M210.2 202.1h0M223.7 202.3h0M224.9 202.6h0M226.2 202.5h0M235.3 202.2h0M217.5 203.5h0M235.2 203.6h0M251.1 203.7h0M255.2 203.3h0M210.2 205.0h0M221.5 204.3h0M233.8 204.5h0M237.1 204.5h0M218.1 205.4h0M224.0 205.4h0M229.4 205.9h0M229.5 205.3h0M237.6 205.1h0M206.7 206.5h0M218.7 206.5h0M219.6 206.4h0M220.3 206.1h0M224.5 207.0h0M224.5 206.1h0M231.8 206.8h0M231.5 206.1h0M243.4 206.9h0M216.8 207.1h0M223.6 207.9h0M226.8 207.7h0M234.2 207.7h0M239.4 207.6h0M201.5 208.1h0M205.6 208.8h0M215.2 208.7h0M217.9 208.6h0M218.9 208.1h0M223.8 208.3h0M224.8 208.2h0M226.3 209.0h0M230.7 208.4h0M196.3 209.3h0M202.3 209.4h0M202.7 209.6h0M206.8 209.7h0M209.8 209.0h0M209.8 209.8h0M217.3 209.5h0M222.2 209.9h0M222.7 209.8h0M222.2 209.6h0M222.6 209.9h0M223.0 210.0h0M227.1 209.4h0M212.2 210.6h0M215.7 210.6h0M219.0 210.4h0M221.1 210.8h0M226.6 210.4h0M227.2 210.7h0M250.5 210.8h0M253.4 210.7h0M195.3 211.1h0M204.9 211.5h0M205.6 211.7h0M211.8 211.3h0M212.8 211.1h0M217.0 211.6h0M224.1 211.6h0M231.7 211.6h0M231.0 211.2h0M232.0 211.1h0M213.6 212.5h0M214.6 212.7h0M215.3 212.1h0M215.3 212.7h0M222.0 212.5h0M225.8 212.1h0M226.6 212.4h0M235.4 212.7h0M237.5 212.6h0M258.3 212.6h0M210.8 213.7h0M213.8 213.8h0M214.3 213.3h0M217.2 213.3h0M218.8 213.6h0M226.8 213.6h0M233.8 213.8h0M201.0 214.6h0M208.1 214.7h0M216.6 214.4h0M218.9 214.7h0M230.1 214.1h0M237.8 214.6h0M198.2 215.5h0M211.4 215.1h0M213.2 215.7h0M215.7 215.1h0M215.2 215.6h0M222.7 215.0h0M222.5 215.5h0M244.3 215.7h0M188.3 216.6h0M194.0 216.7h0M199.4 216.1h0M201.4 216.4h0M211.9 216.4h0M213.2 216.2h0M213.2 216.8h0M220.8 216.7h0M221.1 216.3h0M222.9 216.8h0M224.3 216.1h0M224.5 216.7h0M229.1 216.5h0M194.4 217.8h0M210.9 217.1h0M212.4 217.9h0M217.0 217.8h0M217.2 217.4h0M218.1 217.2h0M219.1 217.0h0M219.4 217.9h0M221.9 217.9h0M224.3 217.1h0M226.5 217.9h0M231.8 217.2h0M233.8 217.9h0M197.3 219.0h0M199.6 218.2h0M209.3 218.8h0M209.5 219.0h0M216.7 218.9h0M217.8 218.2h0M218.9 218.8h0M219.0 218.1h0M218.7 218.2h0M223.0 218.4h0M222.4 218.7h0M226.0 218.9h0M227.2 218.8h0M228.5 218.7h0M230.8 218.6h0M256.1 218.6h0M202.2 219.9h0M207.3 219.1h0M209.4 219.2h0M212.4 219.6h0M213.4 219.3h0M213.5 219.6h0M213.9 219.3h0M219.8 219.4h0M222.3 219.5h0M222.8 219.4h0M223.5 219.2h0M223.0 219.1h0M227.0 219.5h0M228.4 219.9h0M229.9 219.2h0M229.8 219.5h0M230.5 219.0h0M187.2 220.9h0M197.8 220.2h0M201.1 220.2h0M204.0 220.5h0M212.5 220.9h0M213.8 220.5h0M215.9 220.8h0M216.7 220.6h0M219.9 220.9h0M219.2 220.9h0M223.4 220.7h0M230.3 220.4h0M239.6 220.5h0M264.5 220.6h0M193.0 221.7h0M194.8 221.4h0M197.8 221.4h0M200.6 222.0h0M200.6 222.0h0M201.7 221.1h0M204.2 221.9h0M209.1 221.7h0M211.7 221.7h0M213.2 221.3h0M218.0 221.3h0M218.3 222.0h0M223.2 221.1h0M226.3 221.3h0M234.7 221.0h0M184.6 222.7h0M191.7 222.4h0M203.3 222.6h0M205.3 222.6h0M206.7 222.8h0M207.3 222.1h0M208.3 222.3h0M213.6 222.6h0M213.5 222.4h0M219.7 223.0h0M226.1 222.6h0M229.9 222.0h0M232.1 222.6h0M176.2 223.4h0M190.2 223.4h0M194.1 223.4h0M195.5 223.6h0M197.3 223.5h0M201.4 223.6h0M201.5 223.0h0M203.0 223.6h0M204.3 223.3h0M204.6 223.9h0M204.6 223.6h0M208.8 223.5h0M209.6 223.6h0M210.7 223.7h0M211.9 223.6h0M215.1 223.6h0M218.9 223.1h0M218.8 223.9h0M219.3 223.2h0M219.3 223.2h0M222.9 223.7h0M223.7 223.5h0M226.6 223.3h0M233.1 223.6h0M202.9 224.8h0M202.8 224.3h0M203.5 224.5h0M208.7 224.2h0M210.2 224.4h0M213.0 224.5h0M212.2 224.9h0M215.1 224.8h0M216.4 224.7h0M217.6 224.7h0M219.4 224.2h0M220.3 225.0h0M221.6 224.3h0M225.0 224.4h0M230.0 224.2h0M192.3 225.2h0M193.6 225.2h0M196.2 225.7h0M204.7 225.3h0M206.7 225.1h0M206.5 226.0h0M206.8 225.6h0M206.2 225.0h0M208.1 225.8h0M209.2 225.2h0M211.8 225.4h0M212.1 225.3h0M212.4 225.2h0M217.0 225.2h0M216.1 225.1h0M220.8 225.4h0M221.6 226.0h0M224.4 225.9h0M227.9 225.8h0M240.0 225.9h0M242.2 225.8h0M188.5 226.9h0M192.3 227.0h0M197.9 226.8h0M198.4 226.6h0M199.4 226.6h0M199.0 226.7h0M202.4 226.4h0M206.8 226.4h0M206.7 226.5h0M211.3 226.9h0M214.9 226.4h0M217.4 226.5h0M217.7 226.7h0M218.0 226.1h0M221.2 226.1h0M224.3 226.8h0M227.1 226.1h0M231.3 226.4h0M243.5 226.7h0M176.0 227.4h0M181.5 227.6h0M187.6 228.0h0M188.5 227.9h0M191.6 227.6h0M193.2 227.9h0M195.5 227.5h0M196.7 227.3h0M196.9 228.0h0M197.8 227.1h0M200.7 227.7h0M207.1 227.7h0M213.4 227.8h0M215.0 227.1h0M216.9 228.0h0M222.5 227.3h0M228.0 227.8h0M229.0 227.7h0M231.0 227.5h0M237.1 227.2h0M244.9 227.8h0M182.1 228.9h0M186.0 228.8h0M186.7 228.2h0M187.5 228.3h0M189.4 228.3h0M197.5 228.5h0M197.2 228.2h0M205.0 228.1h0M206.6 228.4h0M207.8 228.1h0M207.4 228.3h0M208.1 228.2h0M209.8 228.1h0M210.8 228.1h0M213.2 228.8h0M217.4 229.0h0M220.4 228.8h0M220.8 228.4h0M225.1 228.8h0M227.8 228.3h0M239.7 228.5h0M185.7 229.4h0M186.2 229.5h0M188.8 229.5h0M192.4 229.0h0M193.3 229.7h0M194.8 229.4h0M195.1 229.9h0M198.3 229.7h0M200.5 229.7h0M201.4 229.9h0M203.2 229.4h0M206.8 229.6h0M210.0 229.5h0M212.2 229.2h0M212.7 229.7h0M212.4 229.5h0M213.7 230.0h0M220.5 229.9h0M221.6 229.8h0M222.9 230.0h0M222.1 229.2h0M226.8 229.5h0M227.4 229.4h0M231.3 229.4h0M236.6 229.0h0M184.6 230.6h0M184.5 230.2h0M190.9 230.1h0M192.0 230.6h0M192.2 230.9h0M193.2 230.4h0M194.7 230.9h0M196.9 230.3h0M197.1 230.8h0M199.7 230.6h0M201.5 230.5h0M201.1 230.4h0M206.7 231.0h0M207.4 230.9h0M208.2 230.2h0M209.6 230.6h0M213.2 230.2h0M214.7 230.5h0M217.9 230.5h0M218.5 230.0h0M218.2 230.1h0M220.2 230.5h0M222.8 230.9h0M223.7 230.2h0M224.9 230.7h0M227.9 230.5h0M182.1 231.2h0M182.8 231.7h0M182.0 231.4h0M184.1 232.0h0M185.8 231.4h0M186.9 231.7h0M192.2 231.7h0M194.9 231.7h0M196.8 231.3h0M197.9 231.7h0M199.1 231.4h0M210.1 232.0h0M215.6 231.1h0M219.6 231.1h0M222.9 231.8h0M222.4 231.3h0M226.1 231.1h0M233.7 232.0h0M234.5 231.2h0M178.3 232.2h0M180.6 232.0h0M181.1 232.7h0M191.0 232.6h0M193.0 232.8h0M192.8 233.0h0M193.7 232.5h0M193.0 232.1h0M193.7 232.8h0M194.1 232.9h0M196.5 232.2h0M198.9 232.5h0M200.6 232.5h0M203.7 232.2h0M204.2 232.1h0M205.3 232.4h0M208.4 232.6h0M215.3 232.8h0M218.3 232.7h0M219.7 232.1h0M219.4 232.7h0M224.3 232.8h0M227.9 232.4h0M227.8 232.8h0M228.4 232.0h0M231.9 232.1h0M182.1 233.2h0M186.9 233.5h0M189.4 233.1h0M198.3 233.7h0M201.3 233.2h0M202.1 233.0h0M202.1 233.9h0M204.7 233.8h0M210.6 233.2h0M210.0 234.0h0M212.1 233.9h0M213.1 233.1h0M217.5 233.2h0M217.3 233.4h0M218.2 233.8h0M222.4 233.1h0M223.7 233.4h0M225.0 233.3h0M230.2 233.9h0M233.2 233.4h0M246.3 233.2h0M252.2 233.4h0M178.5 234.2h0M183.4 234.3h0M186.3 234.1h0M187.1 234.8h0M192.8 234.3h0M193.2 234.8h0M194.4 234.2h0M195.0 234.0h0M195.3 234.3h0M195.7 234.6h0M197.0 234.6h0M196.6 234.8h0M197.2 234.3h0M200.2 234.6h0M203.7 234.2h0M205.8 234.5h0M206.9 234.2h0M210.0 234.1h0M210.2 234.4h0M213.7 234.9h0M214.3 234.3h0M216.0 234.3h0M216.1 234.4h0M220.7 234.2h0M233.9 234.6h0M242.6 234.3h0M254.6 234.2h0M184.2 236.0h0M184.9 235.3h0M184.1 236.0h0M186.5 235.7h0M187.0 235.5h0M189.9 235.4h0M193.7 235.9h0M195.9 235.9h0M198.9 235.2h0M200.0 235.3h0M201.8 235.7h0M203.4 235.3h0M205.6 235.9h0M206.3 235.5h0M212.0 235.2h0M213.6 235.8h0M213.4 235.9h0M218.4 235.3h0M220.3 235.0h0M228.0 235.1h0M240.8 235.7h0M253.6 235.0h0M175.6 236.1h0M180.4 236.1h0M181.2 237.0h0M182.9 236.2h0M192.0 236.1h0M193.2 236.5h0M195.7 236.3h0M196.3 237.0h0M197.1 236.2h0M199.5 236.5h0M201.5 236.6h0M204.8 236.4h0M204.7 236.6h0M204.6 236.6h0M204.2 236.3h0M204.5 236.6h0M204.7 236.4h0M206.5 236.1h0M210.6 236.8h0M213.9 236.3h0M215.2 236.8h0M217.1 236.8h0M219.9 236.3h0M223.8 236.4h0M223.3 236.4h0M225.3 236.2h0M226.6 236.7h0M242.3 236.6h0M182.1 237.8h0M184.0 237.5h0M184.4 237.4h0M184.8 237.3h0M189.8 237.5h0M190.9 237.6h0M190.3 237.6h0M194.0 237.2h0M194.8 237.4h0M194.9 237.0h0M194.0 237.9h0M195.6 237.6h0M198.4 237.5h0M203.7 237.9h0M205.3 237.5h0M206.8 237.8h0M206.8 237.9h0M208.2 237.8h0M208.4 237.1h0M210.6 237.1h0M212.7 237.1h0M215.6 237.2h0M215.4 237.4h0M216.6 237.1h0M216.3 237.4h0M217.8 237.8h0M217.9 237.5h0M222.6 237.6h0M176.5 238.7h0M177.7 238.2h0M181.8 238.4h0M181.7 238.5h0M181.2 238.7h0M181.1 238.3h0M182.3 238.3h0M182.2 238.9h0M183.3 238.4h0M186.9 238.7h0M186.3 238.4h0M187.7 238.3h0M187.6 238.7h0M187.8 238.6h0M189.6 238.9h0M190.4 238.6h0M192.4 238.0h0M194.0 238.2h0M195.1 238.5h0M196.4 238.4h0M196.2 238.8h0M197.9 238.7h0M202.5 238.8h0M202.9 238.6h0M210.5 238.9h0M211.1 238.1h0M213.9 238.8h0M215.5 238.4h0M218.6 238.5h0M220.8 238.9h0M220.2 238.2h0M222.4 238.4h0M222.8 238.6h0M224.3 238.1h0M247.1 238.7h0M172.8 239.2h0M172.2 239.4h0M183.1 239.8h0M185.3 239.3h0M186.9 239.6h0M187.0 239.9h0M187.1 239.2h0M187.1 239.5h0M188.9 239.3h0M192.8 239.7h0M198.1 239.5h0M201.4 239.3h0M201.5 239.1h0M204.0 239.7h0M204.5 239.4h0M204.5 239.7h0M205.7 239.5h0M206.0 239.6h0M206.7 239.5h0M211.4 239.4h0M212.3 239.9h0M212.0 239.3h0M219.7 239.3h0M221.9 239.1h0M222.3 239.1h0M230.2 239.7h0M230.7 239.7h0M171.1 240.9h0M174.9 240.6h0M178.5 240.9h0M179.4 240.7h0M181.8 240.4h0M181.7 240.4h0M185.0 240.4h0M186.0 240.5h0M187.4 240.8h0M187.6 240.7h0M187.9 240.8h0M190.6 240.4h0M191.7 240.2h0M192.0 240.1h0M191.6 240.4h0M193.7 240.2h0M197.2 240.6h0M198.5 240.8h0M205.8 240.6h0M206.7 240.9h0M207.4 240.0h0M207.8 240.9h0M207.6 240.5h0M208.5 240.8h0M208.4 240.5h0M209.2 240.4h0M209.5 240.2h0M210.5 240.0h0M210.8 240.3h0M213.1 240.2h0M214.5 240.4h0M215.4 240.2h0M219.7 240.3h0M223.5 240.7h0M241.6 240.5h0M248.1 240.2h0M177.1 241.4h0M180.0 241.3h0M181.6 242.0h0M183.1 241.9h0M185.8 241.0h0M185.8 241.8h0M186.9 241.9h0M186.6 241.3h0M187.3 241.9h0M190.2 241.3h0M190.3 241.2h0M190.8 241.9h0M194.3 241.6h0M199.9 241.7h0M200.4 241.0h0M201.7 241.4h0M203.0 241.2h0M204.9 241.8h0M206.1 241.8h0M208.2 241.6h0M208.9 241.3h0M211.2 241.1h0M213.6 241.4h0M222.6 241.2h0M223.9 241.0h0M224.6 241.3h0M234.4 241.9h0M240.5 241.3h0M244.3 241.7h0M180.4 242.7h0M192.1 242.2h0M192.1 242.5h0M195.6 242.3h0M201.3 242.2h0M204.7 242.4h0M208.8 242.6h0M208.5 242.8h0M211.2 242.5h0M214.4 242.1h0M215.8 242.6h0M215.9 242.9h0M217.8 242.8h0M221.6 242.1h0M223.9 242.5h0M231.7 242.0h0M233.6 242.3h0M234.2 242.6h0M246.0 242.6h0M175.7 243.4h0M181.9 243.6h0M182.3 243.7h0M182.6 243.1h0M184.9 244.0h0M185.2 243.1h0M186.0 243.6h0M188.5 243.6h0M190.2 243.3h0M193.7 243.9h0M193.6 243.6h0M193.0 243.5h0M193.1 243.2h0M196.5 243.3h0M198.3 243.4h0M200.9 243.1h0M204.4 243.4h0M205.1 243.0h0M205.2 243.3h0M213.4 243.5h0M213.9 243.6h0M214.1 243.7h0M221.8 243.6h0M221.0 243.5h0M230.3 243.6h0M230.0 243.6h0M236.5 243.7h0M252.3 243.0h0M253.3 243.5h0M172.7 244.9h0M177.8 244.9h0M179.2 244.3h0M179.3 244.8h0M180.4 244.7h0M181.3 244.9h0M190.8 244.3h0M192.2 244.8h0M196.6 244.7h0M197.1 244.3h0M201.4 244.7h0M203.0 244.0h0M202.1 244.2h0M203.8 244.4h0M212.4 244.8h0M213.5 245.0h0M216.6 244.6h0M216.4 244.2h0M219.6 244.6h0M219.9 244.4h0M224.4 244.3h0M246.5 244.5h0M249.6 245.0h0M171.3 245.7h0M174.8 246.0h0M176.3 245.8h0M177.9 245.9h0M177.1 245.3h0M180.3 245.7h0M180.9 245.6h0M181.6 245.8h0M192.8 246.0h0M195.8 245.7h0M196.2 245.5h0M198.2 245.1h0M202.1 245.1h0M203.4 245.6h0M206.1 245.7h0M207.7 245.7h0M207.1 245.7h0M207.2 245.7h0M208.8 245.1h0M209.5 245.7h0M209.1 245.2h0M209.2 245.5h0M223.8 245.4h0M225.8 245.2h0M226.9 245.2h0M230.6 245.9h0M233.1 245.5h0M167.5 247.0h0M168.7 246.1h0M180.6 246.7h0M181.8 246.2h0M186.5 246.4h0M187.2 246.5h0M193.6 246.3h0M195.5 246.7h0M195.4 246.6h0M195.8 246.3h0M199.0 246.8h0M203.9 246.2h0M204.8 246.4h0M205.2 246.7h0M207.9 246.5h0M207.1 246.9h0M208.4 246.1h0M214.8 246.5h0M216.7 246.2h0M221.5 246.7h0M173.6 247.1h0M173.3 247.6h0M174.7 247.3h0M178.2 247.9h0M179.9 247.3h0M183.2 247.8h0M183.7 247.1h0M190.4 247.8h0M191.2 247.2h0M191.5 247.4h0M192.8 247.7h0M192.6 247.1h0M196.6 247.7h0M198.8 247.6h0M204.4 247.4h0M206.4 247.8h0M207.6 247.4h0M207.9 247.3h0M209.7 247.9h0M214.2 247.2h0M218.0 247.1h0M221.2 247.1h0M221.2 247.5h0M225.7 247.9h0M235.3 247.5h0M241.3 247.4h0M171.3 248.7h0M172.8 248.0h0M177.6 248.1h0M178.8 248.1h0M178.7 248.7h0M179.3 248.5h0M180.0 248.2h0M182.5 248.4h0M182.0 248.4h0M183.3 248.3h0M183.2 248.7h0M195.2 248.5h0M200.6 248.9h0M200.6 248.5h0M200.2 248.4h0M206.3 248.5h0M207.9 248.2h0M208.1 248.4h0M211.4 248.1h0M213.3 248.7h0M214.5 248.1h0M216.0 248.6h0M171.9 249.2h0M171.8 249.3h0M178.2 249.5h0M180.7 249.5h0M183.6 249.5h0M185.7 249.5h0M187.5 249.7h0M189.2 249.6h0M191.7 249.8h0M192.5 249.8h0M199.3 249.0h0M201.8 249.9h0M201.7 249.5h0M204.5 249.3h0M205.6 249.1h0M206.9 249.0h0M208.8 249.2h0M209.8 249.4h0M211.1 249.6h0M212.5 249.9h0M212.7 249.9h0M170.5 250.3h0M172.3 250.1h0M172.6 251.0h0M175.9 250.3h0M176.7 250.2h0M179.5 250.6h0M181.7 250.5h0M182.2 250.9h0M182.2 250.7h0M183.8 250.8h0M185.0 250.9h0M187.2 250.9h0M188.5 250.3h0M192.0 250.6h0M195.7 250.7h0M196.6 250.3h0M198.3 250.8h0M198.5 250.7h0M199.1 250.7h0M202.4 250.1h0M209.0 250.6h0M213.1 250.8h0M240.2 250.7h0M249.2 250.3h0M175.1 252.0h0M180.8 251.5h0M182.6 251.3h0M182.6 251.8h0M183.2 251.3h0M188.0 251.4h0M188.6 251.4h0M191.4 251.1h0M191.8 251.2h0M193.9 251.1h0M195.1 251.9h0M200.2 251.0h0M201.3 252.0h0M205.7 251.7h0M210.4 251.6h0M210.3 251.9h0M213.8 251.2h0M214.1 251.9h0M217.0 251.3h0M218.4 251.4h0M220.8 251.9h0M232.9 251.8h0M244.4 251.8h0M246.0 251.9h0M163.7 252.1h0M175.5 252.0h0M177.7 252.1h0M178.2 252.1h0M179.9 252.8h0M183.5 252.3h0M185.3 252.7h0M187.8 252.5h0M190.4 252.3h0M199.2 252.8h0M200.4 252.7h0M200.1 252.2h0M200.0 252.0h0M200.9 252.2h0M202.6 252.1h0M202.4 252.4h0M204.6 252.1h0M206.9 252.1h0M206.4 252.4h0M210.9 252.1h0M211.1 252.3h0M218.3 252.0h0M221.5 252.8h0M223.7 252.2h0M226.8 252.7h0M228.4 252.1h0M232.0 252.4h0M251.2 252.3h0M253.7 252.3h0M170.8 253.8h0M170.8 253.6h0M177.9 253.9h0M180.3 253.1h0M182.6 253.8h0M186.8 253.6h0M187.9 253.9h0M187.2 253.7h0M197.9 253.2h0M197.3 253.6h0M200.3 253.1h0M200.5 253.1h0M203.8 253.1h0M211.8 253.9h0M212.4 253.5h0M213.7 253.6h0M218.4 253.0h0M228.8 253.1h0M168.8 254.2h0M170.5 254.4h0M172.3 254.3h0M173.7 254.7h0M178.7 254.5h0M178.7 254.9h0M179.4 255.0h0M180.7 254.3h0M181.1 254.2h0M181.5 254.5h0M182.6 254.5h0M184.2 254.5h0M184.6 254.1h0M185.4 254.3h0M191.0 254.3h0M191.9 254.4h0M191.4 254.6h0M192.0 254.2h0M203.7 254.2h0M206.9 254.3h0M211.3 254.8h0M214.2 254.2h0M220.3 254.7h0M222.5 254.9h0M224.0 254.1h0M227.6 254.5h0M231.2 254.1h0M166.1 255.5h0M167.4 255.9h0M169.6 255.4h0M176.0 255.2h0M177.6 255.5h0M179.5 255.5h0M179.1 255.1h0M180.3 255.5h0M180.6 255.8h0M186.7 255.7h0M188.9 255.1h0M189.7 255.8h0M189.8 255.7h0M190.9 255.6h0M191.4 255.3h0M194.4 255.0h0M197.1 255.6h0M197.3 255.8h0M197.2 255.5h0M203.5 255.5h0M204.8 255.1h0M204.3 255.1h0M204.4 255.5h0M212.7 255.4h0M212.4 255.8h0M213.5 255.5h0M214.5 255.2h0M227.9 255.8h0M233.3 255.5h0M177.0 256.3h0M178.3 256.9h0M178.1 256.7h0M180.3 256.3h0M182.8 256.5h0M183.6 256.1h0M186.4 256.8h0M188.0 256.3h0M190.0 256.0h0M194.5 256.4h0M194.2 256.2h0M194.1 256.7h0M207.0 256.2h0M213.6 256.2h0M215.0 256.8h0M220.2 256.7h0M228.5 257.0h0M240.9 256.5h0M179.3 257.6h0M179.7 257.2h0M181.2 257.4h0M183.2 257.4h0M186.6 257.1h0M186.9 257.5h0M188.5 257.6h0M192.3 257.4h0M194.4 257.8h0M194.5 257.5h0M196.7 257.8h0M197.9 257.8h0M199.4 257.5h0M199.5 257.9h0M206.1 257.4h0M210.5 257.4h0M214.5 257.7h0M223.5 257.3h0M225.8 257.6h0M231.4 257.4h0M233.4 257.4h0M173.4 258.7h0M179.6 258.8h0M180.4 258.7h0M181.7 258.3h0M183.6 258.6h0M183.5 259.0h0M183.1 258.1h0M187.3 258.9h0M188.5 258.3h0M189.6 258.3h0M192.8 259.0h0M194.0 258.5h0M195.6 258.4h0M195.5 258.9h0M197.8 258.5h0M198.4 258.2h0M198.6 258.1h0M198.4 258.2h0M199.9 258.5h0M203.0 258.0h0M204.6 258.9h0M205.6 258.8h0M206.3 258.0h0M206.1 258.0h0M206.6 258.3h0M210.8 258.9h0M218.4 258.9h0M218.4 258.8h0M222.9 258.3h0M222.6 258.8h0M223.1 258.7h0M229.7 258.1h0M234.1 258.0h0M245.6 258.1h0M161.7 259.2h0M167.0 259.9h0M174.5 259.9h0M177.0 259.5h0M176.2 259.3h0M177.4 259.3h0M178.7 259.8h0M181.9 259.3h0M183.8 259.1h0M184.6 259.2h0M184.4 259.9h0M186.3 259.8h0M186.7 259.1h0M187.9 259.4h0M190.3 259.7h0M191.0 259.2h0M192.3 259.9h0M192.0 259.9h0M195.4 259.6h0M199.3 259.2h0M202.2 259.4h0M204.6 259.9h0M205.7 259.3h0M209.9 259.8h0M211.2 259.7h0M220.1 259.2h0M234.3 259.6h0M172.6 260.1h0M173.8 260.0h0M175.3 260.3h0M176.6 260.9h0M177.7 260.5h0M179.7 260.2h0M180.6 260.9h0M183.3 260.9h0M184.9 260.8h0M185.0 260.8h0M189.5 260.8h0M190.5 260.3h0M191.8 260.1h0M192.8 260.7h0M194.1 260.6h0M198.5 260.3h0M202.9 260.8h0M203.2 260.6h0M203.9 260.2h0M211.1 260.5h0M212.7 260.6h0M212.2 260.1h0M216.4 260.9h0M218.8 260.1h0M165.9 261.0h0M176.8 261.4h0M177.9 261.7h0M181.8 261.4h0M186.8 261.3h0M189.5 261.8h0M190.2 261.4h0M193.0 261.0h0M195.3 261.1h0M196.9 261.4h0M197.6 261.3h0M200.7 262.0h0M201.2 261.5h0M207.7 261.1h0M211.9 261.6h0M232.7 261.2h0M160.3 263.0h0M170.9 262.2h0M172.8 262.5h0M173.2 262.6h0M177.8 262.3h0M180.5 262.6h0M183.2 262.6h0M184.9 262.4h0M184.4 262.7h0M186.9 262.6h0M186.7 262.1h0M191.5 263.0h0M193.4 262.5h0M204.1 262.3h0M204.4 262.0h0M206.3 262.8h0M209.7 262.6h0M215.4 262.5h0M216.1 262.6h0M217.7 262.9h0M217.9 262.8h0M222.4 262.2h0M241.3 262.4h0M174.2 263.8h0M180.5 263.8h0M181.4 263.6h0M181.5 263.9h0M186.7 263.5h0M190.8 263.8h0M191.2 263.4h0M195.1 263.4h0M196.8 263.5h0M198.8 263.7h0M205.5 263.2h0M206.4 264.0h0M221.2 263.7h0M222.1 263.2h0M228.2 263.2h0M229.1 263.5h0M234.7 263.2h0M244.3 263.3h0M163.2 264.8h0M166.3 264.1h0M174.2 264.0h0M177.5 264.1h0M177.6 264.8h0M196.1 264.4h0M196.5 264.1h0M200.5 264.8h0M208.3 264.1h0M213.5 264.4h0M214.3 264.9h0M215.7 264.1h0M234.1 264.7h0M178.6 265.1h0M180.9 266.0h0M185.1 266.0h0M188.7 265.8h0M198.4 265.3h0M199.7 265.8h0M202.4 265.9h0M202.6 265.3h0M203.9 265.7h0M204.4 265.5h0M209.0 265.7h0M209.7 265.1h0M222.2 265.2h0M226.0 265.7h0M225.2 265.7h0M228.1 265.6h0M229.6 265.9h0M165.5 266.8h0M174.6 266.4h0M177.1 266.1h0M195.1 266.4h0M199.5 266.6h0M203.4 266.7h0M204.1 266.8h0M219.1 266.8h0M223.9 266.4h0M150.1 267.2h0M167.9 267.7h0M168.9 267.7h0M173.7 267.2h0M175.7 267.8h0M185.6 267.5h0M195.1 267.1h0M195.5 267.7h0M195.2 267.3h0M213.1 267.6h0M235.1 267.9h0M240.9 267.3h0M153.3 268.8h0M158.9 268.3h0M169.0 268.2h0M182.0 268.4h0M181.9 268.4h0M184.1 268.4h0M187.3 268.4h0M193.6 268.8h0M198.7 268.5h0M205.1 269.0h0M205.4 268.3h0M218.2 268.5h0M218.2 268.9h0M243.6 268.1h0M146.3 269.1h0M152.3 269.2h0M161.1 269.1h0M173.8 270.0h0M183.9 269.8h0M186.2 269.1h0M186.7 269.5h0M192.4 269.5h0M200.7 269.4h0M207.7 269.1h0M218.2 269.3h0M224.1 269.6h0M227.1 269.9h0M232.6 269.0h0M177.8 270.5h0M200.5 270.1h0M204.7 270.3h0M213.0 270.3h0M238.6 270.1h0M142.7 271.8h0M158.7 271.5h0M158.9 271.2h0M169.8 271.7h0M170.7 272.0h0M171.5 271.9h0M173.0 271.8h0M175.9 271.4h0M177.3 271.7h0M180.7 271.2h0M187.2 271.5h0M195.6 271.2h0M197.0 271.8h0M201.0 271.3h0M200.2 271.7h0M201.1 271.8h0M205.3 271.3h0M220.2 271.5h0M225.2 271.2h0M186.3 272.8h0M195.3 272.1h0M203.2 272.3h0M203.9 272.2h0M210.1 272.7h0M159.3 273.8h0M170.8 273.2h0M174.7 273.0h0M175.5 273.3h0M198.0 273.9h0M201.7 273.7h0M208.3 273.6h0M220.0 273.6h0M229.3 273.3h0M153.8 274.4h0M158.5 274.3h0M160.8 274.1h0M175.3 274.0h0M185.4 274.5h0M206.6 275.0h0M209.3 274.6h0M225.8 274.7h0M130.4 275.4h0M171.2 275.4h0M185.0 275.5h0M205.0 275.5h0M208.9 275.7h0M213.8 275.1h0M222.2 276.0h0M240.9 275.7h0M152.7 276.5h0M175.4 276.6h0M176.3 276.2h0M181.6 276.4h0M186.4 276.3h0M189.0 276.8h0M194.0 276.7h0M202.7 276.7h0M209.5 276.5h0M237.3 276.3h0M130.7 277.7h0M132.5 277.7h0M132.8 277.4h0M133.3 277.0h0M154.5 277.5h0M165.9 277.1h0M166.0 277.6h0M173.6 277.5h0M187.0 277.8h0M193.2 277.9h0M202.3 278.0h0M221.8 277.1h0M248.9 277.7h0M129.3 278.3h0M135.2 278.6h0M145.2 278.2h0M180.4 278.5h0M182.2 278.3h0M194.6 278.3h0M198.1 278.2h0M211.3 278.8h0M216.7 278.2h0M233.1 278.9h0M137.8 279.3h0M163.2 279.6h0M173.4 279.6h0M187.0 279.1h0M197.7 279.8h0M223.1 279.5h0M121.4 280.9h0M127.7 280.6h0M130.5 280.6h0M135.0 280.3h0M142.9 280.2h0M152.2 280.7h0M153.9 281.0h0M158.6 281.0h0M183.6 281.0h0M187.4 280.3h0M198.0 280.6h0M214.7 280.5h0M225.3 280.9h0M250.1 280.3h0M133.4 281.9h0M171.5 281.0h0M186.3 281.8h0M190.5 281.3h0M197.3 281.8h0M219.5 281.9h0M226.1 281.8h0M238.6 281.3h0M240.5 281.6h0M155.1 282.4h0M193.8 282.5h0M197.9 282.9h0M203.5 282.3h0M207.7 283.0h0M225.1 282.3h0M239.7 282.1h0M123.6 283.5h0M154.5 283.6h0M158.1 283.7h0M168.2 283.5h0M174.9 283.5h0M177.1 283.8h0M181.2 283.1h0M190.0 283.3h0M193.7 283.4h0M196.7 283.3h0M202.1 283.2h0M202.9 284.0h0M210.4 283.3h0M221.5 283.5h0M234.6 283.3h0M143.3 284.7h0M158.8 285.0h0M164.6 284.5h0M168.8 284.4h0M168.6 284.6h0M175.3 284.6h0M191.5 284.3h0M193.7 284.1h0M196.4 284.6h0M199.4 284.1h0M209.6 284.4h0M216.7 284.4h0M139.7 285.1h0M147.9 285.0h0M148.1 285.9h0M180.3 285.4h0M204.8 285.4h0M214.8 285.4h0M235.9 285.7h0M128.7 287.0h0M158.2 286.2h0M162.0 286.3h0M177.3 286.8h0M185.2 286.1h0M241.7 286.3h0M160.3 287.7h0M172.4 287.9h0M181.7 287.0h0M204.5 287.8h0M223.5 287.2h0M230.5 287.3h0M149.8 288.7h0M152.2 288.8h0M165.9 288.3h0M175.4 288.6h0M176.1 288.4h0M176.5 288.6h0M176.5 288.3h0M180.2 288.8h0M185.1 288.7h0M186.4 288.3h0M207.5 288.8h0M218.2 288.5h0M223.7 288.8h0M147.4 289.4h0M150.4 289.8h0M164.3 289.8h0M172.1 289.8h0M184.0 289.4h0M186.5 289.8h0M195.7 289.6h0M211.1 289.9h0M130.9 290.1h0M170.5 290.8h0M172.8 290.7h0M173.4 290.7h0M178.5 290.8h0M178.4 290.2h0M178.1 290.6h0M202.0 290.4h0M212.4 290.4h0M137.5 291.8h0M138.7 291.8h0M140.1 291.9h0M157.9 291.6h0M180.6 291.9h0M196.2 291.1h0M200.6 291.0h0M135.6 292.2h0M139.6 292.9h0M150.1 292.5h0M165.5 292.3h0M184.1 292.4h0M223.0 292.4h0M146.5 293.1h0M170.4 293.3h0M245.4 294.0h0M161.5 294.3h0M172.5 294.5h0M172.9 294.9h0M195.9 294.4h0M195.3 294.6h0M204.1 294.3h0M221.9 294.1h0M155.5 295.3h0M168.2 295.6h0M169.7 295.7h0M179.7 295.2h0M186.8 295.6h0M206.5 295.2h0M208.5 295.7h0M212.1 295.6h0M213.6 296.0h0M225.3 295.2h0M155.5 296.2h0M159.7 296.9h0M163.0 296.9h0M168.2 296.6h0M170.5 296.8h0M170.6 296.8h0M172.1 296.5h0M174.1 296.3h0M179.9 296.4h0M190.3 296.3h0M198.7 296.8h0M204.3 296.5h0M215.2 297.0h0M217.5 296.3h0M222.9 296.5h0M137.2 297.5h0M145.3 297.7h0M161.9 297.3h0M165.2 297.4h0M168.0 297.6h0M172.9 297.7h0M178.7 297.2h0M179.9 297.8h0M180.1 297.4h0M187.4 297.2h0M193.3 297.9h0M211.2 297.4h0M149.8 298.7h0M158.7 298.4h0M158.3 298.8h0M187.2 299.0h0M203.8 298.3h0M211.9 298.7h0M217.0 298.8h0M128.2 299.5h0M133.7 299.7h0M151.2 299.7h0M159.4 299.3h0M164.4 299.5h0M202.5 300.0h0M148.0 300.9h0M151.9 300.7h0M153.7 300.7h0M155.4 300.8h0M174.6 300.1h0M185.6 300.4h0M191.8 300.6h0M215.0 300.6h0M144.8 301.8h0M167.9 301.8h0M197.0 301.4h0M224.9 301.7h0M158.0 302.8h0M163.7 302.4h0M211.4 302.6h0M186.3 303.4h0M204.9 303.1h0M213.5 303.8h0M228.1 303.3h0M216.2 304.8h0M230.8 304.6h0M131.7 305.4h0M162.3 305.9h0M175.4 305.9h0M195.4 306.8h0M169.4 307.8h0M176.5 307.1h0M181.6 307.2h0M181.2 307.3h0M206.7 307.8h0M158.2 309.0h0M186.0 308.6h0M152.1 310.6h0M178.0 310.4h0M186.5 310.0h0M188.5 310.7h0M225.1 310.7h0M230.7 310.8h0M160.4 311.2h0M187.4 311.4h0M203.6 311.8h0M183.5 312.8h0M187.2 312.2h0M205.7 312.7h0M210.9 313.0h0M180.6 313.3h0M202.3 313.7h0M179.0 314.1h0M173.1 316.7h0M178.5 321.4h0M134.9 34.3h0M137.4 34.3h0M136.9 34.3h0M160.9 34.3h0M161.0 34.3h0M164.8 34.3h0M152.2 34.3h0M153.9 34.3h0M160.3 34.3h0M168.2 34.3h0M166.0 34.3h0M157.4 34.3h0M164.2 34.3h0M169.7 34.3h0M153.5 34.3h0M149.4 34.3h0M168.0 34.3h0M157.1 34.3h0M154.2 34.3h0M156.4 34.3h0M154.9 34.3h0M151.3 34.3h0M156.6 34.3h0M187.7 34.3h0M184.6 34.3h0M184.5 34.3h0M176.2 34.3h0M182.8 34.3h0M187.9 34.3h0M176.7 34.3h0M181.7 34.3h0M178.5 34.3h0M176.5 34.3h0M197.0 34.3h0M205.0 34.3h0M211.0 34.3h0M224.0 34.3h0M241.0 34.3h0M183.8 315.3h0M194.9 315.3h0M186.1 315.3h0M201.9 315.3h0M187.6 315.3h0M179.4 315.3h0M160.0 315.3h0M200.0 315.3h0M159.2 315.3h0M165.9 315.3h0M177.0 315.3h0M157.8 315.3h0M200.5 315.3h0M158.0 315.3h0M204.4 315.3h0M204.7 315.3h0M164.1 315.3h0M192.6 315.3h0M185.6 315.3h0M200.0 315.3h0M174.5 315.3h0M197.3 315.3h0M156.4 315.3h0M194.6 315.3h0M171.3 315.3h0M163.9 315.3h0M159.7 315.3h0M150.9 315.3h0M161.5 315.3h0M162.0 315.3h0M201.7 315.3h0M168.9 315.3h0M185.4 315.3h0M188.4 315.3h0M180.9 315.3h0M197.4 315.3h0M154.3 315.3h0M183.7 315.3h0M142.6 315.3h0M201.0 315.3h0M230.0 315.3h0M258.0 315.3h0M150.0 315.3h0M170.0 315.3h0M280.0 76.0h0M272.0 90.0h0M313.0 137.0h0M262.0 60.0h0M268.0 120.0h0M259.0 247.0h0M262.0 230.0h0M262.0 100.0h0M266.0 138.0h0M260.0 210.0h0M262.0 262.0h0M256.0 282.0h0M248.0 300.0h0" stroke="#d41c1c" stroke-width="2" stroke-linecap="round"/>
</g>
<defs><clipPath id="ca"><rect x="49" y="27.5" width="273" height="295"/></clipPath></defs>
<line x1="49" y1="175" x2="320.5" y2="175" stroke="#d08068" stroke-width="2.4"/>
<path d="M48.5 323.5V26.8H322.8V323.5H48" fill="none" stroke="#111" stroke-width="1.5"/>
<line x1="41.2" y1="62.1" x2="48.5" y2="62.1" stroke="#111" stroke-width="1.5"/>
<line x1="41.2" y1="114.5" x2="48.5" y2="114.5" stroke="#111" stroke-width="1.5"/>
<line x1="41.2" y1="172.1" x2="48.5" y2="172.1" stroke="#111" stroke-width="1.5"/>
<line x1="41.2" y1="224.8" x2="48.5" y2="224.8" stroke="#111" stroke-width="1.5"/>
<line x1="41.2" y1="271.1" x2="48.5" y2="271.1" stroke="#111" stroke-width="1.5"/>
<line x1="48.5" y1="323.5" x2="48.5" y2="330" stroke="#111" stroke-width="1.5"/>
<line x1="128.7" y1="323.5" x2="128.7" y2="330" stroke="#111" stroke-width="1.5"/>
<line x1="212.8" y1="323.5" x2="212.8" y2="330" stroke="#111" stroke-width="1.5"/>
<line x1="294.1" y1="323.5" x2="294.1" y2="330" stroke="#111" stroke-width="1.5"/>
<g font-family="Liberation Sans, sans-serif" font-weight="bold" font-size="11.5" fill="#111" text-anchor="end">
<text x="35.8" y="65.8">1</text>
<text x="43.3" y="115.6">0.5</text>
<text x="40.2" y="176.5">0</text>
<text x="39.2" y="229.2">-0.5</text>
<text x="40.6" y="276.6">-1</text>
</g>
<g font-family="Liberation Sans, sans-serif" font-weight="bold" font-size="11.5" fill="#111">
<text x="50.0" y="340">1e-02</text>
<text x="125.0" y="340">1e+00</text>
<text x="209.5" y="340">1e+02</text>
<text x="291.5" y="340">1e+04</text>
<text x="100" y="366.4">Mean of normalized counts</text>
<text transform="translate(11.4,216.8) rotate(-90)">log2 Fold Change</text>
<text x="55" y="11.2" font-size="12">(a)</text>
<text x="345.3" y="9.6" font-size="12">(b)</text>
</g>
<circle cx="387.8" cy="44.2" r="6.6" fill="#e8242a" stroke="#7d1515" stroke-width="1.1"/>
<circle cx="417.0" cy="43.8" r="7.8" fill="#e8242a" stroke="#7d1515" stroke-width="1.1"/>
<circle cx="388.0" cy="85.6" r="6.6" fill="#e8242a" stroke="#7d1515" stroke-width="1.1"/>
<circle cx="386.6" cy="84.4" r="7.0" fill="#e8242a" stroke="#7d1515" stroke-width="1.1"/>
<circle cx="384.2" cy="82.5" r="7.3" fill="#e8242a" stroke="#7d1515" stroke-width="1.1"/>
<circle cx="410.2" cy="83.2" r="6.9" fill="#e8242a" stroke="#7d1515" stroke-width="1.1"/>
<circle cx="388.0" cy="178.2" r="6.2" fill="#e8242a" stroke="#7d1515" stroke-width="1.1"/>
<circle cx="393.1" cy="178.3" r="6.4" fill="#e8242a" stroke="#7d1515" stroke-width="1.1"/>
<circle cx="409.0" cy="178.3" r="7.0" fill="#e8242a" stroke="#7d1515" stroke-width="1.1"/>
<circle cx="412.0" cy="207.3" r="6.0" fill="#e8242a" stroke="#7d1515" stroke-width="1.1"/>
<circle cx="402.3" cy="205.6" r="6.0" fill="#e8242a" stroke="#7d1515" stroke-width="1.1"/>
<circle cx="393.5" cy="205.6" r="6.0" fill="#e8242a" stroke="#7d1515" stroke-width="1.1"/>
<circle cx="409.4" cy="216.1" r="6.0" fill="#e8242a" stroke="#7d1515" stroke-width="1.1"/>
<circle cx="405.0" cy="214.4" r="6.0" fill="#e8242a" stroke="#7d1515" stroke-width="1.1"/>
<circle cx="396.2" cy="213.5" r="6.0" fill="#e8242a" stroke="#7d1515" stroke-width="1.1"/>
<circle cx="399.7" cy="223.2" r="6.0" fill="#e8242a" stroke="#7d1515" stroke-width="1.1"/>
<circle cx="399.7" cy="232.0" r="6.0" fill="#e8242a" stroke="#7d1515" stroke-width="1.1"/>
<circle cx="396.0" cy="237.0" r="6.0" fill="#e8242a" stroke="#7d1515" stroke-width="1.1"/>
<circle cx="435.0" cy="215.4" r="7.3" fill="#e8242a" stroke="#7d1515" stroke-width="1.1"/>
<circle cx="415.8" cy="229.5" r="6.6" fill="#e8242a" stroke="#7d1515" stroke-width="1.1"/>
<circle cx="401.8" cy="251.5" r="6.0" fill="#e8242a" stroke="#7d1515" stroke-width="1.1"/>
<circle cx="404.2" cy="244.4" r="6.0" fill="#e8242a" stroke="#7d1515" stroke-width="1.1"/>
<circle cx="410.0" cy="246.8" r="6.0" fill="#e8242a" stroke="#7d1515" stroke-width="1.1"/>
<circle cx="414.8" cy="251.5" r="6.0" fill="#e8242a" stroke="#7d1515" stroke-width="1.1"/>
<circle cx="406.5" cy="253.9" r="6.0" fill="#e8242a" stroke="#7d1515" stroke-width="1.1"/>
<circle cx="413.6" cy="257.4" r="6.0" fill="#e8242a" stroke="#7d1515" stroke-width="1.1"/>
<circle cx="403.0" cy="274.0" r="6.2" fill="#e8242a" stroke="#7d1515" stroke-width="1.1"/>
<circle cx="410.0" cy="272.7" r="6.2" fill="#e8242a" stroke="#7d1515" stroke-width="1.1"/>
<circle cx="416.0" cy="274.0" r="6.2" fill="#e8242a" stroke="#7d1515" stroke-width="1.1"/>
<circle cx="420.7" cy="275.0" r="6.2" fill="#e8242a" stroke="#7d1515" stroke-width="1.1"/>
<circle cx="407.7" cy="281.0" r="6.2" fill="#e8242a" stroke="#7d1515" stroke-width="1.1"/>
<circle cx="416.0" cy="282.2" r="6.2" fill="#e8242a" stroke="#7d1515" stroke-width="1.1"/>
<circle cx="424.2" cy="284.5" r="6.2" fill="#e8242a" stroke="#7d1515" stroke-width="1.1"/>
<circle cx="433.6" cy="291.6" r="6.2" fill="#e8242a" stroke="#7d1515" stroke-width="1.1"/>
<circle cx="426.6" cy="290.4" r="6.2" fill="#e8242a" stroke="#7d1515" stroke-width="1.1"/>
<circle cx="411.2" cy="291.6" r="6.2" fill="#e8242a" stroke="#7d1515" stroke-width="1.1"/>
<circle cx="419.5" cy="294.0" r="6.2" fill="#e8242a" stroke="#7d1515" stroke-width="1.1"/>
<circle cx="406.5" cy="298.7" r="6.2" fill="#e8242a" stroke="#7d1515" stroke-width="1.1"/>
<circle cx="414.8" cy="302.2" r="6.2" fill="#e8242a" stroke="#7d1515" stroke-width="1.1"/>
<circle cx="424.2" cy="303.4" r="6.2" fill="#e8242a" stroke="#7d1515" stroke-width="1.1"/>
<circle cx="437.0" cy="300.5" r="7.0" fill="#e8242a" stroke="#7d1515" stroke-width="1.1"/>
<circle cx="407.7" cy="310.5" r="6.2" fill="#e8242a" stroke="#7d1515" stroke-width="1.1"/>
<circle cx="413.6" cy="311.7" r="6.2" fill="#e8242a" stroke="#7d1515" stroke-width="1.1"/>
<circle cx="423.0" cy="310.5" r="6.2" fill="#e8242a" stroke="#7d1515" stroke-width="1.1"/>
<circle cx="432.5" cy="310.5" r="6.2" fill="#e8242a" stroke="#7d1515" stroke-width="1.1"/>
<circle cx="439.5" cy="311.7" r="6.2" fill="#e8242a" stroke="#7d1515" stroke-width="1.1"/>
<circle cx="445.4" cy="310.5" r="6.2" fill="#e8242a" stroke="#7d1515" stroke-width="1.1"/>
<circle cx="403.0" cy="305.0" r="6.0" fill="#e8242a" stroke="#7d1515" stroke-width="1.1"/>
<circle cx="402.0" cy="292.0" r="6.0" fill="#e8242a" stroke="#7d1515" stroke-width="1.1"/>
<circle cx="402.0" cy="284.0" r="6.0" fill="#e8242a" stroke="#7d1515" stroke-width="1.1"/>
<circle cx="452.7" cy="285.0" r="7.2" fill="#e8242a" stroke="#7d1515" stroke-width="1.1"/>
<circle cx="453.1" cy="310.5" r="7.6" fill="#e8242a" stroke="#7d1515" stroke-width="1.1"/>
<circle cx="469.5" cy="310.8" r="6.9" fill="#e8242a" stroke="#7d1515" stroke-width="1.1"/>
<circle cx="522.5" cy="310.5" r="9.8" fill="#e8242a" stroke="#7d1515" stroke-width="1.1"/>
<circle cx="539.8" cy="310.8" r="6.7" fill="#e8242a" stroke="#7d1515" stroke-width="1.1"/>
<circle cx="404.5" cy="300.0" r="5.5" fill="#b01c1c" stroke="#5a0d0d" stroke-width="1.1"/>
<circle cx="405.0" cy="310.0" r="5.5" fill="#b01c1c" stroke="#5a0d0d" stroke-width="1.1"/>
<circle cx="406.0" cy="316.0" r="4.5" fill="#b01c1c" stroke="#5a0d0d" stroke-width="1.1"/>
<circle cx="412.0" cy="317.0" r="4.5" fill="#b01c1c" stroke="#5a0d0d" stroke-width="1.1"/>
<circle cx="403.0" cy="290.0" r="5.0" fill="#b01c1c" stroke="#5a0d0d" stroke-width="1.1"/>
<circle cx="418.0" cy="314.0" r="5.5" fill="#e8242a" stroke="#7d1515" stroke-width="1.1"/>
<circle cx="426.0" cy="315.0" r="5.5" fill="#e8242a" stroke="#7d1515" stroke-width="1.1"/>
<circle cx="431.0" cy="302.0" r="6.0" fill="#e8242a" stroke="#7d1515" stroke-width="1.1"/>
<circle cx="420.0" cy="296.0" r="6.0" fill="#e8242a" stroke="#7d1515" stroke-width="1.1"/>
<circle cx="640.0" cy="314.0" r="7.4" fill="#d90f0f" stroke="#7a0c0c" stroke-width="1.1"/>
<circle cx="382.5" cy="176.0" r="5.2" fill="#000"/>
<circle cx="384.5" cy="181.5" r="5.5" fill="#000"/>
<circle cx="382.0" cy="181.0" r="5.5" fill="#000"/>
<circle cx="384.0" cy="176.5" r="5.0" fill="#000"/>
<circle cx="383.4" cy="206.5" r="6.0" fill="#000"/>
<circle cx="383.0" cy="206.5" r="6.0" fill="#000"/>
<circle cx="381.7" cy="210.8" r="6.0" fill="#000"/>
<circle cx="386.2" cy="210.8" r="6.0" fill="#000"/>
<circle cx="382.3" cy="215.1" r="6.0" fill="#000"/>
<circle cx="384.4" cy="215.1" r="6.0" fill="#000"/>
<circle cx="386.5" cy="215.1" r="6.0" fill="#000"/>
<circle cx="381.0" cy="219.4" r="6.0" fill="#000"/>
<circle cx="384.9" cy="219.4" r="6.0" fill="#000"/>
<circle cx="388.8" cy="219.4" r="6.0" fill="#000"/>
<circle cx="383.4" cy="223.7" r="6.0" fill="#000"/>
<circle cx="385.7" cy="223.7" r="6.0" fill="#000"/>
<circle cx="387.9" cy="223.7" r="6.0" fill="#000"/>
<circle cx="382.9" cy="228.0" r="6.0" fill="#000"/>
<circle cx="385.8" cy="228.0" r="6.0" fill="#000"/>
<circle cx="388.7" cy="228.0" r="6.0" fill="#000"/>
<circle cx="384.4" cy="232.3" r="6.0" fill="#000"/>
<circle cx="385.7" cy="232.3" r="6.0" fill="#000"/>
<circle cx="387.1" cy="232.3" r="6.0" fill="#000"/>
<circle cx="382.2" cy="236.6" r="6.0" fill="#000"/>
<circle cx="385.9" cy="236.6" r="6.0" fill="#000"/>
<circle cx="382.1" cy="240.9" r="6.0" fill="#000"/>
<circle cx="384.7" cy="240.9" r="6.0" fill="#000"/>
<circle cx="387.2" cy="240.9" r="6.0" fill="#000"/>
<circle cx="389.8" cy="240.9" r="6.0" fill="#000"/>
<circle cx="380.4" cy="245.2" r="6.0" fill="#000"/>
<circle cx="384.2" cy="245.2" r="6.0" fill="#000"/>
<circle cx="388.0" cy="245.2" r="6.0" fill="#000"/>
<circle cx="391.8" cy="245.2" r="6.0" fill="#000"/>
<circle cx="395.6" cy="245.2" r="6.0" fill="#000"/>
<circle cx="382.0" cy="249.5" r="6.0" fill="#000"/>
<circle cx="385.1" cy="249.5" r="6.0" fill="#000"/>
<circle cx="388.2" cy="249.5" r="6.0" fill="#000"/>
<circle cx="391.4" cy="249.5" r="6.0" fill="#000"/>
<circle cx="394.5" cy="249.5" r="6.0" fill="#000"/>
<circle cx="381.1" cy="253.8" r="6.0" fill="#000"/>
<circle cx="384.8" cy="253.8" r="6.0" fill="#000"/>
<circle cx="388.4" cy="253.8" r="6.0" fill="#000"/>
<circle cx="392.1" cy="253.8" r="6.0" fill="#000"/>
<circle cx="395.7" cy="253.8" r="6.0" fill="#000"/>
<circle cx="383.0" cy="258.1" r="6.0" fill="#000"/>
<circle cx="385.7" cy="258.1" r="6.0" fill="#000"/>
<circle cx="388.5" cy="258.1" r="6.0" fill="#000"/>
<circle cx="391.3" cy="258.1" r="6.0" fill="#000"/>
<circle cx="382.8" cy="262.4" r="6.0" fill="#000"/>
<circle cx="386.7" cy="262.4" r="6.0" fill="#000"/>
<circle cx="390.6" cy="262.4" r="6.0" fill="#000"/>
<circle cx="385.4" cy="266.7" r="6.0" fill="#000"/>
<circle cx="387.9" cy="266.7" r="6.0" fill="#000"/>
<circle cx="390.3" cy="266.7" r="6.0" fill="#000"/>
<circle cx="383.0" cy="271.0" r="6.0" fill="#000"/>
<circle cx="386.8" cy="271.0" r="6.0" fill="#000"/>
<circle cx="390.5" cy="271.0" r="6.0" fill="#000"/>
<circle cx="394.3" cy="271.0" r="6.0" fill="#000"/>
<circle cx="383.9" cy="275.3" r="6.0" fill="#000"/>
<circle cx="386.9" cy="275.3" r="6.0" fill="#000"/>
<circle cx="389.8" cy="275.3" r="6.0" fill="#000"/>
<circle cx="392.8" cy="275.3" r="6.0" fill="#000"/>
<circle cx="395.8" cy="275.3" r="6.0" fill="#000"/>
<circle cx="382.5" cy="279.6" r="6.0" fill="#000"/>
<circle cx="386.6" cy="279.6" r="6.0" fill="#000"/>
<circle cx="390.7" cy="279.6" r="6.0" fill="#000"/>
<circle cx="394.8" cy="279.6" r="6.0" fill="#000"/>
<circle cx="398.9" cy="279.6" r="6.0" fill="#000"/>
<circle cx="383.2" cy="283.9" r="6.0" fill="#000"/>
<circle cx="386.2" cy="283.9" r="6.0" fill="#000"/>
<circle cx="389.2" cy="283.9" r="6.0" fill="#000"/>
<circle cx="392.2" cy="283.9" r="6.0" fill="#000"/>
<circle cx="395.2" cy="283.9" r="6.0" fill="#000"/>
<circle cx="398.2" cy="283.9" r="6.0" fill="#000"/>
<circle cx="381.8" cy="288.2" r="6.0" fill="#000"/>
<circle cx="385.4" cy="288.2" r="6.0" fill="#000"/>
<circle cx="389.0" cy="288.2" r="6.0" fill="#000"/>
<circle cx="392.6" cy="288.2" r="6.0" fill="#000"/>
<circle cx="396.2" cy="288.2" r="6.0" fill="#000"/>
<circle cx="399.9" cy="288.2" r="6.0" fill="#000"/>
<circle cx="383.0" cy="292.5" r="6.0" fill="#000"/>
<circle cx="386.1" cy="292.5" r="6.0" fill="#000"/>
<circle cx="389.2" cy="292.5" r="6.0" fill="#000"/>
<circle cx="392.3" cy="292.5" r="6.0" fill="#000"/>
<circle cx="395.5" cy="292.5" r="6.0" fill="#000"/>
<circle cx="398.6" cy="292.5" r="6.0" fill="#000"/>
<circle cx="382.0" cy="296.8" r="6.0" fill="#000"/>
<circle cx="386.4" cy="296.8" r="6.0" fill="#000"/>
<circle cx="390.8" cy="296.8" r="6.0" fill="#000"/>
<circle cx="395.2" cy="296.8" r="6.0" fill="#000"/>
<circle cx="399.6" cy="296.8" r="6.0" fill="#000"/>
<circle cx="383.6" cy="301.1" r="6.0" fill="#000"/>
<circle cx="387.1" cy="301.1" r="6.0" fill="#000"/>
<circle cx="390.6" cy="301.1" r="6.0" fill="#000"/>
<circle cx="394.0" cy="301.1" r="6.0" fill="#000"/>
<circle cx="397.5" cy="301.1" r="6.0" fill="#000"/>
<circle cx="382.3" cy="305.4" r="6.0" fill="#000"/>
<circle cx="386.4" cy="305.4" r="6.0" fill="#000"/>
<circle cx="390.5" cy="305.4" r="6.0" fill="#000"/>
<circle cx="394.7" cy="305.4" r="6.0" fill="#000"/>
<circle cx="398.8" cy="305.4" r="6.0" fill="#000"/>
<circle cx="383.0" cy="309.7" r="6.0" fill="#000"/>
<circle cx="385.9" cy="309.7" r="6.0" fill="#000"/>
<circle cx="388.9" cy="309.7" r="6.0" fill="#000"/>
<circle cx="391.8" cy="309.7" r="6.0" fill="#000"/>
<circle cx="394.7" cy="309.7" r="6.0" fill="#000"/>
<circle cx="397.6" cy="309.7" r="6.0" fill="#000"/>
<circle cx="382.4" cy="313.2" r="6.0" fill="#000"/>
<circle cx="386.6" cy="313.2" r="6.0" fill="#000"/>
<circle cx="390.8" cy="313.2" r="6.0" fill="#000"/>
<circle cx="394.9" cy="313.2" r="6.0" fill="#000"/>
<circle cx="399.1" cy="313.2" r="6.0" fill="#000"/>
<path d="M380 39V321.6H657.5" fill="none" stroke="#111" stroke-width="1.5"/>
<path d="M424.5 43.6L447.5 43.6M441.5 47.5L447.5 43.6L441.5 39.7" fill="none" stroke="#111" stroke-width="1.6"/>
<path d="M390.0 45.0L444.5 69.5M437.4 70.6L444.5 69.5L440.6 63.4" fill="none" stroke="#111" stroke-width="1.6"/>
<path d="M417.0 82.5L447.5 82.5M441.5 86.4L447.5 82.5L441.5 78.6" fill="none" stroke="#111" stroke-width="1.6"/>
<path d="M389.0 88.0L429.5 115.5M422.3 115.4L429.5 115.5L426.7 108.9" fill="none" stroke="#111" stroke-width="1.6"/>
<path d="M412.5 313.2L438.7 236.7M440.5 243.7L438.7 236.7L433.0 241.1" fill="none" stroke="#111" stroke-width="1.6"/>
<path d="M425.1 309.5L448.6 266.0M449.2 273.2L448.6 266.0L442.3 269.4" fill="none" stroke="#111" stroke-width="1.6"/>
<path d="M437.8 313.2L524.9 247.3M522.5 254.1L524.9 247.3L517.7 247.8" fill="none" stroke="#111" stroke-width="1.6"/>
<path d="M438.6 311.7L465.4 300.3M461.4 306.3L465.4 300.3L458.3 299.0" fill="none" stroke="#111" stroke-width="1.6"/>
<path d="M523.2 311.0L536.6 279.2M537.9 286.3L536.6 279.2L530.6 283.2" fill="none" stroke="#111" stroke-width="1.6"/>
<path d="M639.6 313.0L639.6 281.2M643.5 287.2L639.6 281.2L635.7 287.2" fill="none" stroke="#111" stroke-width="1.6"/>
<g font-family="Liberation Sans, sans-serif" font-weight="bold" font-size="11.5" fill="#111">
<text x="456.5" y="48.3" font-size="11.0">TB</text>
<text x="451.5" y="71.3" font-size="11.0">IBD</text>
<text x="457.0" y="86.3" font-size="11.5">Phagocytosis</text>
<text x="435.2" y="119.5" font-size="11.3">Secretory IgA</text>
<text x="439.5" y="234.2" font-size="11.5">Proteasome</text>
<text x="505.2" y="243.9" font-size="11.5">Oxidative Phosphorylation</text>
<text x="437.5" y="264.2" font-size="11.5">Phagosome</text>
<text x="535.0" y="264.0" font-size="11.3">Metabolic</text>
<text x="535.0" y="277.4" font-size="11.5">Pathways</text>
<text x="467.2" y="300.8" font-size="11.4">Lysosome</text>
<text x="616.2" y="277.1" font-size="11.5">Ribosome</text>
<text x="362.0" y="47.0">1.4</text>
<text x="359.0" y="87.5">1.2</text>
<text x="363.5" y="142.8">1.0</text>
<text x="363.5" y="181.4">0.8</text>
<text x="359.6" y="222.0">0.6</text>
<text x="360.0" y="261.7">0.4</text>
<text x="360.6" y="299.8">0.2</text>
<text x="368.7" y="336.0">0</text>
<text x="380.2" y="333" text-anchor="middle">0</text>
<text x="399.7" y="333" text-anchor="middle">2</text>
<text x="418.9" y="333" text-anchor="middle">4</text>
<text x="441.0" y="333" text-anchor="middle">6</text>
<text x="463.8" y="333" text-anchor="middle">8</text>
<text x="487.0" y="333" text-anchor="middle">10</text>
<text x="509.5" y="333" text-anchor="middle">12</text>
<text x="531.8" y="333" text-anchor="middle">14</text>
<text x="555.0" y="333" text-anchor="middle">16</text>
<text x="577.8" y="333" text-anchor="middle">18</text>
<text x="602.5" y="333" text-anchor="middle">20</text>
<text x="625.5" y="333" text-anchor="middle">22</text>
<text x="654.8" y="333" text-anchor="middle">24</text>
<text x="470.8" y="353.2">-log10 (pORA)</text>
<text transform="translate(351.2,216.2) rotate(-90)" font-size="11.5">-log10 (pAcc)</text>
</g>
</svg>
</body></html>
